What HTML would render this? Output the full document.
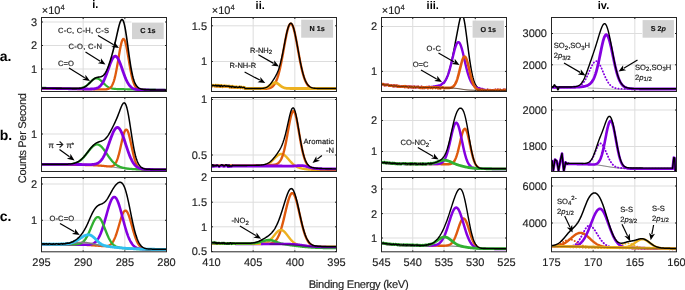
<!DOCTYPE html>
<html><head><meta charset="utf-8"><style>html,body{margin:0;padding:0;background:#fff;overflow:hidden}svg{display:block;will-change:transform}text{font-family:"Liberation Sans",sans-serif;text-rendering:geometricPrecision}</style></head>
<body><svg xmlns="http://www.w3.org/2000/svg" width="685" height="290" viewBox="0 0 685 290" font-family="Liberation Sans, sans-serif"><defs><clipPath id="c00"><rect x="41.5" y="17.5" width="125.0" height="74.0"/></clipPath><clipPath id="c01"><rect x="211.5" y="17.5" width="125.0" height="74.0"/></clipPath><clipPath id="c02"><rect x="381.5" y="17.5" width="125.0" height="74.0"/></clipPath><clipPath id="c03"><rect x="551.5" y="17.5" width="125.0" height="74.0"/></clipPath><clipPath id="c10"><rect x="41.5" y="97.5" width="125.0" height="74.0"/></clipPath><clipPath id="c11"><rect x="211.5" y="97.5" width="125.0" height="74.0"/></clipPath><clipPath id="c12"><rect x="381.5" y="97.5" width="125.0" height="74.0"/></clipPath><clipPath id="c13"><rect x="551.5" y="97.5" width="125.0" height="74.0"/></clipPath><clipPath id="c20"><rect x="41.5" y="177.5" width="125.0" height="74.30000000000001"/></clipPath><clipPath id="c21"><rect x="211.5" y="177.5" width="125.0" height="74.30000000000001"/></clipPath><clipPath id="c22"><rect x="381.5" y="177.5" width="125.0" height="74.30000000000001"/></clipPath><clipPath id="c23"><rect x="551.5" y="177.5" width="125.0" height="74.30000000000001"/></clipPath></defs><rect width="685" height="290" fill="#fff"/><line x1="83.17" y1="17.50" x2="83.17" y2="91.50" stroke="#DDDDDD" stroke-width="1" />
<line x1="124.83" y1="17.50" x2="124.83" y2="91.50" stroke="#DDDDDD" stroke-width="1" />
<line x1="41.50" y1="22.00" x2="166.50" y2="22.00" stroke="#DDDDDD" stroke-width="1" />
<line x1="41.50" y1="45.50" x2="166.50" y2="45.50" stroke="#DDDDDD" stroke-width="1" />
<line x1="41.50" y1="69.00" x2="166.50" y2="69.00" stroke="#DDDDDD" stroke-width="1" />
<line x1="83.17" y1="97.50" x2="83.17" y2="171.50" stroke="#DDDDDD" stroke-width="1" />
<line x1="124.83" y1="97.50" x2="124.83" y2="171.50" stroke="#DDDDDD" stroke-width="1" />
<line x1="41.50" y1="134.00" x2="166.50" y2="134.00" stroke="#DDDDDD" stroke-width="1" />
<line x1="83.17" y1="177.50" x2="83.17" y2="251.80" stroke="#DDDDDD" stroke-width="1" />
<line x1="124.83" y1="177.50" x2="124.83" y2="251.80" stroke="#DDDDDD" stroke-width="1" />
<line x1="41.50" y1="184.00" x2="166.50" y2="184.00" stroke="#DDDDDD" stroke-width="1" />
<line x1="41.50" y1="220.30" x2="166.50" y2="220.30" stroke="#DDDDDD" stroke-width="1" />
<line x1="253.17" y1="17.50" x2="253.17" y2="91.50" stroke="#DDDDDD" stroke-width="1" />
<line x1="294.83" y1="17.50" x2="294.83" y2="91.50" stroke="#DDDDDD" stroke-width="1" />
<line x1="211.50" y1="25.80" x2="336.50" y2="25.80" stroke="#DDDDDD" stroke-width="1" />
<line x1="211.50" y1="61.50" x2="336.50" y2="61.50" stroke="#DDDDDD" stroke-width="1" />
<line x1="253.17" y1="97.50" x2="253.17" y2="171.50" stroke="#DDDDDD" stroke-width="1" />
<line x1="294.83" y1="97.50" x2="294.83" y2="171.50" stroke="#DDDDDD" stroke-width="1" />
<line x1="211.50" y1="99.50" x2="336.50" y2="99.50" stroke="#DDDDDD" stroke-width="1" />
<line x1="211.50" y1="155.00" x2="336.50" y2="155.00" stroke="#DDDDDD" stroke-width="1" />
<line x1="253.17" y1="177.50" x2="253.17" y2="251.80" stroke="#DDDDDD" stroke-width="1" />
<line x1="294.83" y1="177.50" x2="294.83" y2="251.80" stroke="#DDDDDD" stroke-width="1" />
<line x1="211.50" y1="202.20" x2="336.50" y2="202.20" stroke="#DDDDDD" stroke-width="1" />
<line x1="211.50" y1="226.80" x2="336.50" y2="226.80" stroke="#DDDDDD" stroke-width="1" />
<line x1="412.75" y1="17.50" x2="412.75" y2="91.50" stroke="#DDDDDD" stroke-width="1" />
<line x1="444.00" y1="17.50" x2="444.00" y2="91.50" stroke="#DDDDDD" stroke-width="1" />
<line x1="475.25" y1="17.50" x2="475.25" y2="91.50" stroke="#DDDDDD" stroke-width="1" />
<line x1="381.50" y1="26.50" x2="506.50" y2="26.50" stroke="#DDDDDD" stroke-width="1" />
<line x1="381.50" y1="71.40" x2="506.50" y2="71.40" stroke="#DDDDDD" stroke-width="1" />
<line x1="412.75" y1="97.50" x2="412.75" y2="171.50" stroke="#DDDDDD" stroke-width="1" />
<line x1="444.00" y1="97.50" x2="444.00" y2="171.50" stroke="#DDDDDD" stroke-width="1" />
<line x1="475.25" y1="97.50" x2="475.25" y2="171.50" stroke="#DDDDDD" stroke-width="1" />
<line x1="381.50" y1="120.50" x2="506.50" y2="120.50" stroke="#DDDDDD" stroke-width="1" />
<line x1="381.50" y1="151.50" x2="506.50" y2="151.50" stroke="#DDDDDD" stroke-width="1" />
<line x1="412.75" y1="177.50" x2="412.75" y2="251.80" stroke="#DDDDDD" stroke-width="1" />
<line x1="444.00" y1="177.50" x2="444.00" y2="251.80" stroke="#DDDDDD" stroke-width="1" />
<line x1="475.25" y1="177.50" x2="475.25" y2="251.80" stroke="#DDDDDD" stroke-width="1" />
<line x1="381.50" y1="189.00" x2="506.50" y2="189.00" stroke="#DDDDDD" stroke-width="1" />
<line x1="381.50" y1="213.60" x2="506.50" y2="213.60" stroke="#DDDDDD" stroke-width="1" />
<line x1="381.50" y1="238.00" x2="506.50" y2="238.00" stroke="#DDDDDD" stroke-width="1" />
<line x1="593.17" y1="17.50" x2="593.17" y2="91.50" stroke="#DDDDDD" stroke-width="1" />
<line x1="634.83" y1="17.50" x2="634.83" y2="91.50" stroke="#DDDDDD" stroke-width="1" />
<line x1="551.50" y1="33.50" x2="676.50" y2="33.50" stroke="#DDDDDD" stroke-width="1" />
<line x1="551.50" y1="64.80" x2="676.50" y2="64.80" stroke="#DDDDDD" stroke-width="1" />
<line x1="593.17" y1="97.50" x2="593.17" y2="171.50" stroke="#DDDDDD" stroke-width="1" />
<line x1="634.83" y1="97.50" x2="634.83" y2="171.50" stroke="#DDDDDD" stroke-width="1" />
<line x1="551.50" y1="110.00" x2="676.50" y2="110.00" stroke="#DDDDDD" stroke-width="1" />
<line x1="551.50" y1="146.50" x2="676.50" y2="146.50" stroke="#DDDDDD" stroke-width="1" />
<line x1="593.17" y1="177.50" x2="593.17" y2="251.80" stroke="#DDDDDD" stroke-width="1" />
<line x1="634.83" y1="177.50" x2="634.83" y2="251.80" stroke="#DDDDDD" stroke-width="1" />
<line x1="551.50" y1="186.00" x2="676.50" y2="186.00" stroke="#DDDDDD" stroke-width="1" />
<line x1="551.50" y1="223.00" x2="676.50" y2="223.00" stroke="#DDDDDD" stroke-width="1" />
<g clip-path="url(#c00)">
<polyline points="41.50,87.90 42.00,87.91 42.50,87.92 43.00,87.92 43.50,87.93 44.00,87.94 44.50,87.95 45.00,87.96 45.50,87.96 46.00,87.97 46.50,87.98 47.00,87.99 47.50,88.00 48.00,88.00 48.50,88.01 49.00,88.02 49.50,88.03 50.00,88.04 50.50,88.04 51.00,88.05 51.50,88.06 52.00,88.07 52.50,88.08 53.00,88.08 53.50,88.09 54.00,88.10 54.50,88.11 55.00,88.12 55.50,88.12 56.00,88.13 56.50,88.14 57.00,88.15 57.50,88.16 58.00,88.16 58.50,88.17 59.00,88.18 59.50,88.19 60.00,88.20 60.50,88.20 61.00,88.21 61.50,88.22 62.00,88.23 62.50,88.24 63.00,88.24 63.50,88.25 64.00,88.26 64.50,88.27 65.00,88.28 65.50,88.28 66.00,88.29 66.50,88.30 67.00,88.31 67.50,88.32 68.00,88.32 68.50,88.33 69.00,88.34 69.50,88.35 70.00,88.35 70.50,88.36 71.00,88.37 71.50,88.37 72.00,88.38 72.50,88.39 73.00,88.39 73.50,88.40 74.00,88.40 74.50,88.40 75.00,88.40 75.50,88.40 76.00,88.39 76.50,88.38 77.00,88.37 77.50,88.35 78.00,88.32 78.50,88.29 79.00,88.25 79.50,88.20 80.00,88.14 80.50,88.06 81.00,87.97 81.50,87.87 82.00,87.74 82.50,87.60 83.00,87.43 83.50,87.24 84.00,87.02 84.50,86.78 85.00,86.51 85.50,86.21 86.00,85.88 86.50,85.52 87.00,85.14 87.50,84.73 88.00,84.30 88.50,83.84 89.00,83.38 89.50,82.89 90.00,82.41 90.50,81.92 91.00,81.43 91.50,80.96 92.00,80.51 92.50,80.08 93.00,79.68 93.50,79.32 94.00,79.01 94.50,78.75 95.00,78.54 95.50,78.39 96.00,78.30 96.50,78.28 97.00,78.32 97.50,78.42 98.00,78.59 98.50,78.81 99.00,79.09 99.50,79.42 100.00,79.79 100.50,80.21 101.00,80.65 101.50,81.12 102.00,81.61 102.50,82.11 103.00,82.61 103.50,83.12 104.00,83.62 104.50,84.10 105.00,84.57 105.50,85.02 106.00,85.44 106.50,85.84 107.00,86.21 107.50,86.56 108.00,86.87 108.50,87.16 109.00,87.42 109.50,87.65 110.00,87.86 110.50,88.04 111.00,88.21 111.50,88.35 112.00,88.47 112.50,88.57 113.00,88.67 113.50,88.74 114.00,88.81 114.50,88.87 115.00,88.92 115.50,88.96 116.00,88.99 116.50,89.02 117.00,89.05 117.50,89.07 118.00,89.09 118.50,89.10 119.00,89.12 119.50,89.13 120.00,89.14 120.50,89.15 121.00,89.17 121.50,89.17 122.00,89.18 122.50,89.19 123.00,89.20 123.50,89.21 124.00,89.22 124.50,89.23 125.00,89.24 125.50,89.24 126.00,89.25 126.50,89.26 127.00,89.27 127.50,89.28 128.00,89.28 128.50,89.29 129.00,89.30 129.50,89.31 130.00,89.32 130.50,89.32 131.00,89.33 131.50,89.34 132.00,89.35 132.50,89.36 133.00,89.36 133.50,89.37 134.00,89.38 134.50,89.39 135.00,89.40 135.50,89.40 136.00,89.41 136.50,89.42 137.00,89.43 137.50,89.44 138.00,89.44 138.50,89.45 139.00,89.46 139.50,89.47 140.00,89.48 140.50,89.48 141.00,89.49 141.50,89.50 142.00,89.51 142.50,89.52 143.00,89.52 143.50,89.53 144.00,89.54 144.50,89.55 145.00,89.56 145.50,89.56 146.00,89.57 146.50,89.58 147.00,89.59 147.50,89.60 148.00,89.60 148.50,89.61 149.00,89.62 149.50,89.63 150.00,89.64 150.50,89.64 151.00,89.65 151.50,89.66 152.00,89.67 152.50,89.68 153.00,89.68 153.50,89.69 154.00,89.70 154.50,89.71 155.00,89.72 155.50,89.72 156.00,89.73 156.50,89.74 157.00,89.75 157.50,89.76 158.00,89.76 158.50,89.77 159.00,89.78 159.50,89.79 160.00,89.80 160.50,89.80 161.00,89.81 161.50,89.82 162.00,89.83 162.50,89.84 163.00,89.84 163.50,89.85 164.00,89.86 164.50,89.87 165.00,89.88 165.50,89.88 166.00,89.89 166.50,89.90" fill="none" stroke="#30B030" stroke-width="2.2" stroke-linejoin="round" stroke-linecap="round" />
<polyline points="41.50,88.40 42.00,88.41 42.50,88.42 43.00,88.42 43.50,88.43 44.00,88.44 44.50,88.45 45.00,88.46 45.50,88.46 46.00,88.47 46.50,88.48 47.00,88.49 47.50,88.50 48.00,88.50 48.50,88.51 49.00,88.52 49.50,88.53 50.00,88.54 50.50,88.54 51.00,88.55 51.50,88.56 52.00,88.57 52.50,88.58 53.00,88.58 53.50,88.59 54.00,88.60 54.50,88.61 55.00,88.62 55.50,88.62 56.00,88.63 56.50,88.64 57.00,88.65 57.50,88.66 58.00,88.66 58.50,88.67 59.00,88.68 59.50,88.69 60.00,88.70 60.50,88.70 61.00,88.71 61.50,88.72 62.00,88.73 62.50,88.74 63.00,88.74 63.50,88.75 64.00,88.76 64.50,88.77 65.00,88.78 65.50,88.78 66.00,88.79 66.50,88.80 67.00,88.81 67.50,88.82 68.00,88.82 68.50,88.83 69.00,88.84 69.50,88.85 70.00,88.86 70.50,88.86 71.00,88.87 71.50,88.88 72.00,88.89 72.50,88.90 73.00,88.90 73.50,88.91 74.00,88.92 74.50,88.93 75.00,88.94 75.50,88.94 76.00,88.95 76.50,88.96 77.00,88.97 77.50,88.98 78.00,88.98 78.50,88.99 79.00,89.00 79.50,89.01 80.00,89.02 80.50,89.02 81.00,89.03 81.50,89.04 82.00,89.05 82.50,89.06 83.00,89.06 83.50,89.07 84.00,89.08 84.50,89.09 85.00,89.10 85.50,89.10 86.00,89.11 86.50,89.12 87.00,89.13 87.50,89.14 88.00,89.14 88.50,89.15 89.00,89.16 89.50,89.17 90.00,89.18 90.50,89.18 91.00,89.19 91.50,89.20 92.00,89.21 92.50,89.22 93.00,89.22 93.50,89.23 94.00,89.24 94.50,89.25 95.00,89.26 95.50,89.26 96.00,89.27 96.50,89.28 97.00,89.29 97.50,89.30 98.00,89.30 98.50,89.31 99.00,89.32 99.50,89.33 100.00,89.33 100.50,89.34 101.00,89.35 101.50,89.36 102.00,89.36 102.50,89.37 103.00,89.37 103.50,89.37 104.00,89.37 104.50,89.36 105.00,89.35 105.50,89.32 106.00,89.29 106.50,89.24 107.00,89.18 107.50,89.09 108.00,88.96 108.50,88.80 109.00,88.59 109.50,88.31 110.00,87.97 110.50,87.53 111.00,86.99 111.50,86.33 112.00,85.53 112.50,84.57 113.00,83.44 113.50,82.12 114.00,80.60 114.50,78.86 115.00,76.91 115.50,74.74 116.00,72.36 116.50,69.79 117.00,67.06 117.50,64.19 118.00,61.22 118.50,58.22 119.00,55.22 119.50,52.30 120.00,49.51 120.50,46.93 121.00,44.62 121.50,42.64 122.00,41.04 122.50,39.86 123.00,39.15 123.50,38.91 124.00,39.16 124.50,39.90 125.00,41.09 125.50,42.70 126.00,44.70 126.50,47.03 127.00,49.63 127.50,52.43 128.00,55.36 128.50,58.38 129.00,61.40 129.50,64.38 130.00,67.27 130.50,70.02 131.00,72.60 131.50,75.00 132.00,77.18 132.50,79.15 133.00,80.90 133.50,82.44 134.00,83.78 134.50,84.93 135.00,85.90 135.50,86.71 136.00,87.39 136.50,87.95 137.00,88.40 137.50,88.76 138.00,89.05 138.50,89.28 139.00,89.46 139.50,89.60 140.00,89.71 140.50,89.79 141.00,89.85 141.50,89.90 142.00,89.94 142.50,89.97 143.00,89.99 143.50,90.01 144.00,90.02 144.50,90.04 145.00,90.05 145.50,90.06 146.00,90.07 146.50,90.08 147.00,90.09 147.50,90.10 148.00,90.10 148.50,90.11 149.00,90.12 149.50,90.13 150.00,90.14 150.50,90.14 151.00,90.15 151.50,90.16 152.00,90.17 152.50,90.18 153.00,90.18 153.50,90.19 154.00,90.20 154.50,90.21 155.00,90.22 155.50,90.22 156.00,90.23 156.50,90.24 157.00,90.25 157.50,90.26 158.00,90.26 158.50,90.27 159.00,90.28 159.50,90.29 160.00,90.30 160.50,90.30 161.00,90.31 161.50,90.32 162.00,90.33 162.50,90.34 163.00,90.34 163.50,90.35 164.00,90.36 164.50,90.37 165.00,90.38 165.50,90.38 166.00,90.39 166.50,90.40" fill="none" stroke="#DF5A0E" stroke-width="2.3" stroke-linejoin="round" stroke-linecap="round" />
<polyline points="41.50,88.30 42.00,88.31 42.50,88.32 43.00,88.32 43.50,88.33 44.00,88.34 44.50,88.35 45.00,88.36 45.50,88.36 46.00,88.37 46.50,88.38 47.00,88.39 47.50,88.40 48.00,88.40 48.50,88.41 49.00,88.42 49.50,88.43 50.00,88.44 50.50,88.44 51.00,88.45 51.50,88.46 52.00,88.47 52.50,88.48 53.00,88.48 53.50,88.49 54.00,88.50 54.50,88.51 55.00,88.52 55.50,88.52 56.00,88.53 56.50,88.54 57.00,88.55 57.50,88.56 58.00,88.56 58.50,88.57 59.00,88.58 59.50,88.59 60.00,88.60 60.50,88.60 61.00,88.61 61.50,88.62 62.00,88.63 62.50,88.64 63.00,88.64 63.50,88.65 64.00,88.66 64.50,88.67 65.00,88.68 65.50,88.68 66.00,88.69 66.50,88.70 67.00,88.71 67.50,88.72 68.00,88.72 68.50,88.73 69.00,88.74 69.50,88.75 70.00,88.76 70.50,88.76 71.00,88.77 71.50,88.78 72.00,88.79 72.50,88.80 73.00,88.80 73.50,88.81 74.00,88.82 74.50,88.83 75.00,88.84 75.50,88.84 76.00,88.85 76.50,88.86 77.00,88.87 77.50,88.88 78.00,88.88 78.50,88.89 79.00,88.90 79.50,88.91 80.00,88.92 80.50,88.92 81.00,88.93 81.50,88.94 82.00,88.95 82.50,88.96 83.00,88.96 83.50,88.97 84.00,88.98 84.50,88.99 85.00,88.99 85.50,89.00 86.00,89.01 86.50,89.01 87.00,89.02 87.50,89.02 88.00,89.03 88.50,89.03 89.00,89.03 89.50,89.03 90.00,89.03 90.50,89.02 91.00,89.01 91.50,89.00 92.00,88.98 92.50,88.95 93.00,88.92 93.50,88.87 94.00,88.82 94.50,88.75 95.00,88.66 95.50,88.55 96.00,88.43 96.50,88.28 97.00,88.10 97.50,87.88 98.00,87.63 98.50,87.34 99.00,87.01 99.50,86.62 100.00,86.18 100.50,85.68 101.00,85.12 101.50,84.49 102.00,83.79 102.50,83.02 103.00,82.17 103.50,81.25 104.00,80.25 104.50,79.18 105.00,78.04 105.50,76.83 106.00,75.55 106.50,74.23 107.00,72.86 107.50,71.46 108.00,70.03 108.50,68.60 109.00,67.17 109.50,65.76 110.00,64.39 110.50,63.08 111.00,61.84 111.50,60.68 112.00,59.63 112.50,58.70 113.00,57.89 113.50,57.23 114.00,56.73 114.50,56.38 115.00,56.21 115.50,56.20 116.00,56.36 116.50,56.69 117.00,57.18 117.50,57.82 118.00,58.61 118.50,59.54 119.00,60.58 119.50,61.73 120.00,62.98 120.50,64.29 121.00,65.67 121.50,67.08 122.00,68.53 122.50,69.98 123.00,71.42 123.50,72.84 124.00,74.24 124.50,75.59 125.00,76.89 125.50,78.13 126.00,79.30 126.50,80.40 127.00,81.43 127.50,82.38 128.00,83.26 128.50,84.06 129.00,84.79 129.50,85.45 130.00,86.04 130.50,86.57 131.00,87.04 131.50,87.45 132.00,87.81 132.50,88.13 133.00,88.40 133.50,88.64 134.00,88.84 134.50,89.01 135.00,89.16 135.50,89.29 136.00,89.39 136.50,89.48 137.00,89.56 137.50,89.62 138.00,89.67 138.50,89.71 139.00,89.75 139.50,89.78 140.00,89.81 140.50,89.83 141.00,89.85 141.50,89.87 142.00,89.88 142.50,89.90 143.00,89.91 143.50,89.92 144.00,89.93 144.50,89.94 145.00,89.95 145.50,89.96 146.00,89.97 146.50,89.98 147.00,89.99 147.50,90.00 148.00,90.00 148.50,90.01 149.00,90.02 149.50,90.03 150.00,90.04 150.50,90.04 151.00,90.05 151.50,90.06 152.00,90.07 152.50,90.08 153.00,90.08 153.50,90.09 154.00,90.10 154.50,90.11 155.00,90.12 155.50,90.12 156.00,90.13 156.50,90.14 157.00,90.15 157.50,90.16 158.00,90.16 158.50,90.17 159.00,90.18 159.50,90.19 160.00,90.20 160.50,90.20 161.00,90.21 161.50,90.22 162.00,90.23 162.50,90.24 163.00,90.24 163.50,90.25 164.00,90.26 164.50,90.27 165.00,90.28 165.50,90.28 166.00,90.29 166.50,90.30" fill="none" stroke="#8400E0" stroke-width="2.8" stroke-linejoin="round" stroke-linecap="round" />
<polyline points="41.50,88.10 42.00,88.11 42.50,88.12 43.00,88.12 43.50,88.13 44.00,88.14 44.50,88.15 45.00,88.16 45.50,88.16 46.00,88.17 46.50,88.18 47.00,88.19 47.50,88.20 48.00,88.20 48.50,88.21 49.00,88.22 49.50,88.23 50.00,88.24 50.50,88.24 51.00,88.25 51.50,88.26 52.00,88.27 52.50,88.28 53.00,88.28 53.50,88.29 54.00,88.30 54.50,88.31 55.00,88.32 55.50,88.32 56.00,88.33 56.50,88.34 57.00,88.35 57.50,88.36 58.00,88.36 58.50,88.37 59.00,88.38 59.50,88.39 60.00,88.40 60.50,88.40 61.00,88.41 61.50,88.42 62.00,88.43 62.50,88.44 63.00,88.44 63.50,88.45 64.00,88.46 64.50,88.47 65.00,88.48 65.50,88.48 66.00,88.49 66.50,88.50 67.00,88.51 67.50,88.52 68.00,88.52 68.50,88.53 69.00,88.54 69.50,88.55 70.00,88.55 70.50,88.56 71.00,88.57 71.50,88.57 72.00,88.58 72.50,88.59 73.00,88.59 73.50,88.60 74.00,88.60 74.50,88.60 75.00,88.60 75.50,88.60 76.00,88.59 76.50,88.58 77.00,88.57 77.50,88.55 78.00,88.52 78.50,88.49 79.00,88.45 79.50,88.40 80.00,88.34 80.50,88.26 81.00,88.17 81.50,88.07 82.00,87.94 82.50,87.80 83.00,87.63 83.50,87.44 84.00,87.22 84.50,86.98 85.00,86.70 85.50,86.40 86.00,86.07 86.50,85.72 87.00,85.33 87.50,84.92 88.00,84.48 88.50,84.02 89.00,83.55 89.50,83.06 90.00,82.56 90.50,82.06 91.00,81.55 91.50,81.06 92.00,80.58 92.50,80.11 93.00,79.67 93.50,79.26 94.00,78.89 94.50,78.55 95.00,78.24 95.50,77.98 96.00,77.76 96.50,77.58 97.00,77.43 97.50,77.31 98.00,77.22 98.50,77.14 99.00,77.08 99.50,77.01 100.00,76.94 100.50,76.84 101.00,76.72 101.50,76.55 102.00,76.33 102.50,76.04 103.00,75.69 103.50,75.25 104.00,74.73 104.50,74.12 105.00,73.42 105.50,72.62 106.00,71.72 106.50,70.74 107.00,69.66 107.50,68.49 108.00,67.24 108.50,65.92 109.00,64.52 109.50,63.06 110.00,61.53 110.50,59.95 111.00,58.31 111.50,56.62 112.00,54.87 112.50,53.07 113.00,51.21 113.50,49.30 114.00,47.32 114.50,45.28 115.00,43.18 115.50,41.02 116.00,38.82 116.50,36.59 117.00,34.35 117.50,32.13 118.00,29.95 118.50,27.86 119.00,25.90 119.50,24.12 120.00,22.55 120.50,21.27 121.00,20.30 121.50,19.70 122.00,19.49 122.50,19.72 123.00,20.39 123.50,21.51 124.00,23.08 124.50,25.08 125.00,27.48 125.50,30.24 126.00,33.30 126.50,36.61 127.00,40.12 127.50,43.74 128.00,47.43 128.50,51.12 129.00,54.74 129.50,58.26 130.00,61.62 130.50,64.80 131.00,67.76 131.50,70.50 132.00,72.99 132.50,75.23 133.00,77.24 133.50,79.02 134.00,80.58 134.50,81.94 135.00,83.12 135.50,84.13 136.00,85.00 136.50,85.74 137.00,86.37 137.50,86.91 138.00,87.37 138.50,87.75 139.00,88.08 139.50,88.35 140.00,88.59 140.50,88.79 141.00,88.96 141.50,89.10 142.00,89.22 142.50,89.32 143.00,89.41 143.50,89.48 144.00,89.54 144.50,89.59 145.00,89.63 145.50,89.67 146.00,89.70 146.50,89.72 147.00,89.75 147.50,89.76 148.00,89.78 148.50,89.79 149.00,89.81 149.50,89.82 150.00,89.83 150.50,89.84 151.00,89.85 151.50,89.86 152.00,89.87 152.50,89.87 153.00,89.88 153.50,89.89 154.00,89.90 154.50,89.91 155.00,89.92 155.50,89.92 156.00,89.93 156.50,89.94 157.00,89.95 157.50,89.96 158.00,89.96 158.50,89.97 159.00,89.98 159.50,89.99 160.00,90.00 160.50,90.00 161.00,90.01 161.50,90.02 162.00,90.03 162.50,90.04 163.00,90.04 163.50,90.05 164.00,90.06 164.50,90.07 165.00,90.08 165.50,90.08 166.00,90.09 166.50,90.10" fill="none" stroke="#000" stroke-width="1.6" stroke-linejoin="round" stroke-linecap="round" />
<rect x="131.5" y="19.6" width="35.69999999999999" height="20.5" fill="#fff"/>
<rect x="132" y="22.6" width="31.69999999999999" height="16.5" fill="#D3D3D3"/>
</g>
<g clip-path="url(#c10)">
<polyline points="41.50,164.80 42.00,164.80 42.50,164.80 43.00,164.80 43.50,164.80 44.00,164.80 44.50,164.80 45.00,164.80 45.50,164.80 46.00,164.80 46.50,164.80 47.00,164.80 47.50,164.80 48.00,164.80 48.50,164.80 49.00,164.80 49.50,164.80 50.00,164.80 50.50,164.80 51.00,164.80 51.50,164.80 52.00,164.80 52.50,164.81 53.00,164.81 53.50,164.81 54.00,164.81 54.50,164.81 55.00,164.81 55.50,164.81 56.00,164.81 56.50,164.81 57.00,164.81 57.50,164.81 58.00,164.81 58.50,164.81 59.00,164.81 59.50,164.81 60.00,164.81 60.50,164.81 61.00,164.81 61.50,164.81 62.00,164.81 62.50,164.82 63.00,164.82 63.50,164.82 64.00,164.82 64.50,164.82 65.00,164.82 65.50,164.82 66.00,164.82 66.50,164.82 67.00,164.82 67.50,164.83 68.00,164.83 68.50,164.83 69.00,164.83 69.50,164.83 70.00,164.83 70.50,164.84 71.00,164.84 71.50,164.84 72.00,164.84 72.50,164.85 73.00,164.85 73.50,164.85 74.00,164.85 74.50,164.86 75.00,164.86 75.50,164.86 76.00,164.87 76.50,164.87 77.00,164.88 77.50,164.88 78.00,164.88 78.50,164.89 79.00,164.89 79.50,164.90 80.00,164.90 80.50,164.91 81.00,164.92 81.50,164.92 82.00,164.93 82.50,164.94 83.00,164.94 83.50,164.95 84.00,164.96 84.50,164.97 85.00,164.98 85.50,164.99 86.00,165.00 86.50,165.01 87.00,165.02 87.50,165.03 88.00,165.05 88.50,165.06 89.00,165.07 89.50,165.09 90.00,165.10 90.50,165.12 91.00,165.14 91.50,165.16 92.00,165.17 92.50,165.19 93.00,165.22 93.50,165.24 94.00,165.26 94.50,165.28 95.00,165.31 95.50,165.33 96.00,165.36 96.50,165.39 97.00,165.42 97.50,165.45 98.00,165.48 98.50,165.52 99.00,165.55 99.50,165.59 100.00,165.63 100.50,165.67 101.00,165.71 101.50,165.75 102.00,165.79 102.50,165.84 103.00,165.88 103.50,165.93 104.00,165.98 104.50,166.03 105.00,166.09 105.50,166.14 106.00,166.20 106.50,166.26 107.00,166.31 107.50,166.38 108.00,166.44 108.50,166.50 109.00,166.56 109.50,166.63 110.00,166.70 110.50,166.76 111.00,166.83 111.50,166.90 112.00,166.97 112.50,167.04 113.00,167.11 113.50,167.18 114.00,167.26 114.50,167.33 115.00,167.40 115.50,167.47 116.00,167.54 116.50,167.62 117.00,167.69 117.50,167.76 118.00,167.83 118.50,167.90 119.00,167.97 119.50,168.04 120.00,168.10 120.50,168.17 121.00,168.24 121.50,168.30 122.00,168.36 122.50,168.42 123.00,168.49 123.50,168.54 124.00,168.60 124.50,168.66 125.00,168.71 125.50,168.77 126.00,168.82 126.50,168.87 127.00,168.92 127.50,168.96 128.00,169.01 128.50,169.05 129.00,169.09 129.50,169.13 130.00,169.17 130.50,169.21 131.00,169.25 131.50,169.28 132.00,169.32 132.50,169.35 133.00,169.38 133.50,169.41 134.00,169.44 134.50,169.47 135.00,169.49 135.50,169.52 136.00,169.54 136.50,169.56 137.00,169.58 137.50,169.61 138.00,169.63 138.50,169.64 139.00,169.66 139.50,169.68 140.00,169.70 140.50,169.71 141.00,169.73 141.50,169.74 142.00,169.75 142.50,169.77 143.00,169.78 143.50,169.79 144.00,169.80 144.50,169.81 145.00,169.82 145.50,169.83 146.00,169.84 146.50,169.85 147.00,169.86 147.50,169.86 148.00,169.87 148.50,169.88 149.00,169.88 149.50,169.89 150.00,169.90 150.50,169.90 151.00,169.91 151.50,169.91 152.00,169.92 152.50,169.92 153.00,169.92 153.50,169.93 154.00,169.93 154.50,169.94 155.00,169.94 155.50,169.94 156.00,169.95 156.50,169.95 157.00,169.95 157.50,169.95 158.00,169.96 158.50,169.96 159.00,169.96 159.50,169.96 160.00,169.97 160.50,169.97 161.00,169.97 161.50,169.97 162.00,169.97 162.50,169.97 163.00,169.98 163.50,169.98 164.00,169.98 164.50,169.98 165.00,169.98 165.50,169.98 166.00,169.98 166.50,169.98" fill="none" stroke="#555" stroke-width="0.8" stroke-linejoin="round" stroke-linecap="round" />
<polyline points="41.50,164.80 42.00,164.80 42.50,164.80 43.00,164.80 43.50,164.80 44.00,164.80 44.50,164.80 45.00,164.80 45.50,164.80 46.00,164.80 46.50,164.80 47.00,164.80 47.50,164.80 48.00,164.80 48.50,164.80 49.00,164.80 49.50,164.80 50.00,164.80 50.50,164.80 51.00,164.80 51.50,164.80 52.00,164.80 52.50,164.81 53.00,164.81 53.50,164.81 54.00,164.81 54.50,164.81 55.00,164.81 55.50,164.81 56.00,164.81 56.50,164.81 57.00,164.81 57.50,164.81 58.00,164.81 58.50,164.81 59.00,164.81 59.50,164.81 60.00,164.81 60.50,164.81 61.00,164.81 61.50,164.81 62.00,164.81 62.50,164.82 63.00,164.82 63.50,164.82 64.00,164.82 64.50,164.82 65.00,164.82 65.50,164.82 66.00,164.82 66.50,164.82 67.00,164.82 67.50,164.83 68.00,164.83 68.50,164.83 69.00,164.83 69.50,164.83 70.00,164.83 70.50,164.84 71.00,164.84 71.50,164.84 72.00,164.84 72.50,164.85 73.00,164.85 73.50,164.85 74.00,164.85 74.50,164.86 75.00,164.86 75.50,164.86 76.00,164.87 76.50,164.87 77.00,164.88 77.50,164.88 78.00,164.88 78.50,164.89 79.00,164.89 79.50,164.90 80.00,164.90 80.50,164.91 81.00,164.92 81.50,164.92 82.00,164.93 82.50,164.94 83.00,164.94 83.50,164.95 84.00,164.96 84.50,164.97 85.00,164.98 85.50,164.99 86.00,165.00 86.50,165.01 87.00,165.02 87.50,165.03 88.00,165.05 88.50,165.06 89.00,165.07 89.50,165.09 90.00,165.10 90.50,165.12 91.00,165.14 91.50,165.16 92.00,165.17 92.50,165.19 93.00,165.22 93.50,165.24 94.00,165.26 94.50,165.28 95.00,165.31 95.50,165.33 96.00,165.36 96.50,165.39 97.00,165.42 97.50,165.45 98.00,165.48 98.50,165.52 99.00,165.55 99.50,165.59 100.00,165.63 100.50,165.67 101.00,165.71 101.50,165.75 102.00,165.79 102.50,165.84 103.00,165.88 103.50,165.93 104.00,165.98 104.50,166.03 105.00,166.08 105.50,166.13 106.00,166.18 106.50,166.24 107.00,166.28 107.50,166.33 108.00,166.37 108.50,166.41 109.00,166.44 109.50,166.46 110.00,166.46 110.50,166.44 111.00,166.39 111.50,166.32 112.00,166.20 112.50,166.03 113.00,165.80 113.50,165.50 114.00,165.11 114.50,164.62 115.00,164.02 115.50,163.30 116.00,162.43 116.50,161.41 117.00,160.23 117.50,158.89 118.00,157.38 118.50,155.70 119.00,153.86 119.50,151.88 120.00,149.78 120.50,147.59 121.00,145.33 121.50,143.06 122.00,140.82 122.50,138.65 123.00,136.61 123.50,134.74 124.00,133.10 124.50,131.73 125.00,130.67 125.50,129.95 126.00,129.58 126.50,129.60 127.00,129.98 127.50,130.74 128.00,131.83 128.50,133.24 129.00,134.93 129.50,136.86 130.00,138.97 130.50,141.21 131.00,143.55 131.50,145.91 132.00,148.27 132.50,150.58 133.00,152.80 133.50,154.90 134.00,156.87 134.50,158.68 135.00,160.32 135.50,161.79 136.00,163.10 136.50,164.24 137.00,165.23 137.50,166.08 138.00,166.80 138.50,167.40 139.00,167.89 139.50,168.30 140.00,168.63 140.50,168.90 141.00,169.11 141.50,169.28 142.00,169.41 142.50,169.51 143.00,169.59 143.50,169.66 144.00,169.71 144.50,169.74 145.00,169.77 145.50,169.80 146.00,169.82 146.50,169.83 147.00,169.85 147.50,169.86 148.00,169.87 148.50,169.87 149.00,169.88 149.50,169.89 150.00,169.89 150.50,169.90 151.00,169.91 151.50,169.91 152.00,169.92 152.50,169.92 153.00,169.92 153.50,169.93 154.00,169.93 154.50,169.94 155.00,169.94 155.50,169.94 156.00,169.95 156.50,169.95 157.00,169.95 157.50,169.95 158.00,169.96 158.50,169.96 159.00,169.96 159.50,169.96 160.00,169.97 160.50,169.97 161.00,169.97 161.50,169.97 162.00,169.97 162.50,169.97 163.00,169.98 163.50,169.98 164.00,169.98 164.50,169.98 165.00,169.98 165.50,169.98 166.00,169.98 166.50,169.98" fill="none" stroke="#DF5A0E" stroke-width="2.3" stroke-linejoin="round" stroke-linecap="round" />
<polyline points="41.50,164.50 42.00,164.50 42.50,164.50 43.00,164.50 43.50,164.50 44.00,164.50 44.50,164.50 45.00,164.50 45.50,164.50 46.00,164.50 46.50,164.50 47.00,164.50 47.50,164.50 48.00,164.50 48.50,164.50 49.00,164.50 49.50,164.50 50.00,164.50 50.50,164.50 51.00,164.50 51.50,164.50 52.00,164.50 52.50,164.50 53.00,164.50 53.50,164.51 54.00,164.51 54.50,164.51 55.00,164.51 55.50,164.51 56.00,164.51 56.50,164.51 57.00,164.51 57.50,164.51 58.00,164.51 58.50,164.50 59.00,164.50 59.50,164.50 60.00,164.50 60.50,164.50 61.00,164.50 61.50,164.50 62.00,164.49 62.50,164.49 63.00,164.49 63.50,164.48 64.00,164.47 64.50,164.47 65.00,164.46 65.50,164.44 66.00,164.43 66.50,164.42 67.00,164.40 67.50,164.38 68.00,164.35 68.50,164.32 69.00,164.29 69.50,164.25 70.00,164.20 70.50,164.15 71.00,164.09 71.50,164.02 72.00,163.95 72.50,163.86 73.00,163.76 73.50,163.65 74.00,163.53 74.50,163.40 75.00,163.24 75.50,163.08 76.00,162.89 76.50,162.69 77.00,162.46 77.50,162.22 78.00,161.96 78.50,161.67 79.00,161.36 79.50,161.02 80.00,160.66 80.50,160.28 81.00,159.87 81.50,159.43 82.00,158.97 82.50,158.49 83.00,157.98 83.50,157.45 84.00,156.89 84.50,156.32 85.00,155.73 85.50,155.12 86.00,154.50 86.50,153.86 87.00,153.22 87.50,152.58 88.00,151.93 88.50,151.28 89.00,150.64 89.50,150.01 90.00,149.40 90.50,148.80 91.00,148.22 91.50,147.68 92.00,147.16 92.50,146.68 93.00,146.23 93.50,145.83 94.00,145.47 94.50,145.16 95.00,144.91 95.50,144.70 96.00,144.55 96.50,144.46 97.00,144.43 97.50,144.46 98.00,144.54 98.50,144.69 99.00,144.90 99.50,145.17 100.00,145.50 100.50,145.88 101.00,146.31 101.50,146.80 102.00,147.32 102.50,147.89 103.00,148.50 103.50,149.14 104.00,149.80 104.50,150.50 105.00,151.20 105.50,151.93 106.00,152.66 106.50,153.40 107.00,154.14 107.50,154.88 108.00,155.61 108.50,156.33 109.00,157.04 109.50,157.74 110.00,158.41 110.50,159.07 111.00,159.70 111.50,160.31 112.00,160.90 112.50,161.45 113.00,161.99 113.50,162.49 114.00,162.97 114.50,163.42 115.00,163.85 115.50,164.25 116.00,164.62 116.50,164.97 117.00,165.30 117.50,165.60 118.00,165.88 118.50,166.14 119.00,166.39 119.50,166.61 120.00,166.82 120.50,167.01 121.00,167.19 121.50,167.35 122.00,167.50 122.50,167.64 123.00,167.77 123.50,167.89 124.00,167.99 124.50,168.10 125.00,168.19 125.50,168.28 126.00,168.36 126.50,168.43 127.00,168.50 127.50,168.57 128.00,168.63 128.50,168.69 129.00,168.74 129.50,168.79 130.00,168.84 130.50,168.88 131.00,168.92 131.50,168.96 132.00,169.00 132.50,169.04 133.00,169.07 133.50,169.10 134.00,169.13 134.50,169.16 135.00,169.19 135.50,169.21 136.00,169.24 136.50,169.26 137.00,169.28 137.50,169.30 138.00,169.32 138.50,169.34 139.00,169.36 139.50,169.38 140.00,169.40 140.50,169.41 141.00,169.43 141.50,169.44 142.00,169.45 142.50,169.47 143.00,169.48 143.50,169.49 144.00,169.50 144.50,169.51 145.00,169.52 145.50,169.53 146.00,169.54 146.50,169.55 147.00,169.56 147.50,169.56 148.00,169.57 148.50,169.58 149.00,169.58 149.50,169.59 150.00,169.60 150.50,169.60 151.00,169.61 151.50,169.61 152.00,169.62 152.50,169.62 153.00,169.62 153.50,169.63 154.00,169.63 154.50,169.64 155.00,169.64 155.50,169.64 156.00,169.65 156.50,169.65 157.00,169.65 157.50,169.65 158.00,169.66 158.50,169.66 159.00,169.66 159.50,169.66 160.00,169.67 160.50,169.67 161.00,169.67 161.50,169.67 162.00,169.67 162.50,169.67 163.00,169.68 163.50,169.68 164.00,169.68 164.50,169.68 165.00,169.68 165.50,169.68 166.00,169.68 166.50,169.68" fill="none" stroke="#30B030" stroke-width="2.3" stroke-linejoin="round" stroke-linecap="round" />
<polyline points="41.50,164.40 42.00,164.40 42.50,164.40 43.00,164.40 43.50,164.40 44.00,164.40 44.50,164.40 45.00,164.40 45.50,164.40 46.00,164.40 46.50,164.40 47.00,164.40 47.50,164.40 48.00,164.40 48.50,164.40 49.00,164.40 49.50,164.40 50.00,164.40 50.50,164.40 51.00,164.40 51.50,164.40 52.00,164.40 52.50,164.41 53.00,164.41 53.50,164.41 54.00,164.41 54.50,164.41 55.00,164.41 55.50,164.41 56.00,164.41 56.50,164.41 57.00,164.41 57.50,164.41 58.00,164.41 58.50,164.41 59.00,164.41 59.50,164.41 60.00,164.41 60.50,164.41 61.00,164.41 61.50,164.41 62.00,164.41 62.50,164.42 63.00,164.42 63.50,164.42 64.00,164.42 64.50,164.42 65.00,164.42 65.50,164.42 66.00,164.42 66.50,164.42 67.00,164.42 67.50,164.43 68.00,164.43 68.50,164.43 69.00,164.43 69.50,164.43 70.00,164.43 70.50,164.44 71.00,164.44 71.50,164.44 72.00,164.44 72.50,164.45 73.00,164.45 73.50,164.45 74.00,164.45 74.50,164.46 75.00,164.46 75.50,164.46 76.00,164.47 76.50,164.47 77.00,164.48 77.50,164.48 78.00,164.48 78.50,164.49 79.00,164.49 79.50,164.50 80.00,164.50 80.50,164.51 81.00,164.51 81.50,164.52 82.00,164.53 82.50,164.53 83.00,164.54 83.50,164.55 84.00,164.55 84.50,164.56 85.00,164.57 85.50,164.57 86.00,164.58 86.50,164.59 87.00,164.59 87.50,164.59 88.00,164.60 88.50,164.60 89.00,164.60 89.50,164.59 90.00,164.58 90.50,164.57 91.00,164.56 91.50,164.53 92.00,164.50 92.50,164.47 93.00,164.42 93.50,164.36 94.00,164.29 94.50,164.20 95.00,164.09 95.50,163.97 96.00,163.82 96.50,163.65 97.00,163.45 97.50,163.21 98.00,162.95 98.50,162.64 99.00,162.29 99.50,161.90 100.00,161.46 100.50,160.97 101.00,160.42 101.50,159.81 102.00,159.15 102.50,158.42 103.00,157.62 103.50,156.76 104.00,155.84 104.50,154.85 105.00,153.79 105.50,152.67 106.00,151.49 106.50,150.25 107.00,148.97 107.50,147.64 108.00,146.27 108.50,144.87 109.00,143.46 109.50,142.03 110.00,140.60 110.50,139.19 111.00,137.80 111.50,136.45 112.00,135.15 112.50,133.92 113.00,132.75 113.50,131.68 114.00,130.71 114.50,129.85 115.00,129.10 115.50,128.49 116.00,128.02 116.50,127.68 117.00,127.50 117.50,127.46 118.00,127.58 118.50,127.84 119.00,128.26 119.50,128.82 120.00,129.52 120.50,130.35 121.00,131.30 121.50,132.37 122.00,133.54 122.50,134.80 123.00,136.14 123.50,137.54 124.00,139.00 124.50,140.50 125.00,142.03 125.50,143.57 126.00,145.11 126.50,146.65 127.00,148.17 127.50,149.66 128.00,151.11 128.50,152.52 129.00,153.87 129.50,155.17 130.00,156.41 130.50,157.59 131.00,158.69 131.50,159.73 132.00,160.70 132.50,161.60 133.00,162.43 133.50,163.20 134.00,163.90 134.50,164.54 135.00,165.12 135.50,165.64 136.00,166.12 136.50,166.54 137.00,166.92 137.50,167.25 138.00,167.55 138.50,167.81 139.00,168.05 139.50,168.25 140.00,168.42 140.50,168.58 141.00,168.71 141.50,168.83 142.00,168.93 142.50,169.01 143.00,169.09 143.50,169.15 144.00,169.20 144.50,169.25 145.00,169.29 145.50,169.32 146.00,169.35 146.50,169.38 147.00,169.40 147.50,169.42 148.00,169.44 148.50,169.45 149.00,169.46 149.50,169.47 150.00,169.48 150.50,169.49 151.00,169.50 151.50,169.51 152.00,169.51 152.50,169.52 153.00,169.52 153.50,169.53 154.00,169.53 154.50,169.53 155.00,169.54 155.50,169.54 156.00,169.55 156.50,169.55 157.00,169.55 157.50,169.55 158.00,169.56 158.50,169.56 159.00,169.56 159.50,169.56 160.00,169.57 160.50,169.57 161.00,169.57 161.50,169.57 162.00,169.57 162.50,169.57 163.00,169.58 163.50,169.58 164.00,169.58 164.50,169.58 165.00,169.58 165.50,169.58 166.00,169.58 166.50,169.58" fill="none" stroke="#8400E0" stroke-width="2.8" stroke-linejoin="round" stroke-linecap="round" />
<polyline points="41.50,164.30 42.00,164.30 42.50,164.30 43.00,164.30 43.50,164.30 44.00,164.30 44.50,164.30 45.00,164.30 45.50,164.30 46.00,164.30 46.50,164.30 47.00,164.30 47.50,164.30 48.00,164.30 48.50,164.30 49.00,164.30 49.50,164.30 50.00,164.30 50.50,164.30 51.00,164.30 51.50,164.30 52.00,164.30 52.50,164.30 53.00,164.30 53.50,164.31 54.00,164.31 54.50,164.31 55.00,164.31 55.50,164.31 56.00,164.31 56.50,164.31 57.00,164.31 57.50,164.31 58.00,164.31 58.50,164.30 59.00,164.30 59.50,164.30 60.00,164.30 60.50,164.30 61.00,164.30 61.50,164.30 62.00,164.29 62.50,164.29 63.00,164.29 63.50,164.28 64.00,164.27 64.50,164.27 65.00,164.26 65.50,164.24 66.00,164.23 66.50,164.22 67.00,164.20 67.50,164.18 68.00,164.15 68.50,164.12 69.00,164.09 69.50,164.05 70.00,164.00 70.50,163.95 71.00,163.89 71.50,163.82 72.00,163.75 72.50,163.66 73.00,163.56 73.50,163.45 74.00,163.33 74.50,163.20 75.00,163.04 75.50,162.88 76.00,162.69 76.50,162.49 77.00,162.26 77.50,162.02 78.00,161.75 78.50,161.47 79.00,161.16 79.50,160.82 80.00,160.46 80.50,160.08 81.00,159.66 81.50,159.23 82.00,158.77 82.50,158.28 83.00,157.77 83.50,157.24 84.00,156.68 84.50,156.11 85.00,155.51 85.50,154.90 86.00,154.28 86.50,153.64 87.00,152.99 87.50,152.34 88.00,151.68 88.50,151.02 89.00,150.36 89.50,149.71 90.00,149.08 90.50,148.45 91.00,147.84 91.50,147.25 92.00,146.69 92.50,146.15 93.00,145.63 93.50,145.15 94.00,144.70 94.50,144.28 95.00,143.89 95.50,143.54 96.00,143.21 96.50,142.92 97.00,142.66 97.50,142.42 98.00,142.21 98.50,142.02 99.00,141.84 99.50,141.69 100.00,141.53 100.50,141.38 101.00,141.23 101.50,141.06 102.00,140.88 102.50,140.67 103.00,140.44 103.50,140.17 104.00,139.86 104.50,139.50 105.00,139.10 105.50,138.64 106.00,138.14 106.50,137.58 107.00,136.96 107.50,136.30 108.00,135.58 108.50,134.82 109.00,134.01 109.50,133.16 110.00,132.28 110.50,131.37 111.00,130.44 111.50,129.48 112.00,128.51 112.50,127.52 113.00,126.52 113.50,125.50 114.00,124.48 114.50,123.44 115.00,122.37 115.50,121.29 116.00,120.18 116.50,119.03 117.00,117.85 117.50,116.63 118.00,115.37 118.50,114.07 119.00,112.75 119.50,111.41 120.00,110.07 120.50,108.76 121.00,107.49 121.50,106.30 122.00,105.23 122.50,104.31 123.00,103.58 123.50,103.08 124.00,102.85 124.50,102.91 125.00,103.30 125.50,104.02 126.00,105.10 126.50,106.53 127.00,108.31 127.50,110.41 128.00,112.81 128.50,115.47 129.00,118.36 129.50,121.42 130.00,124.60 130.50,127.86 131.00,131.14 131.50,134.40 132.00,137.60 132.50,140.69 133.00,143.64 133.50,146.43 134.00,149.03 134.50,151.44 135.00,153.65 135.50,155.66 136.00,157.47 136.50,159.09 137.00,160.52 137.50,161.79 138.00,162.90 138.50,163.87 139.00,164.71 139.50,165.43 140.00,166.06 140.50,166.59 141.00,167.05 141.50,167.44 142.00,167.77 142.50,168.05 143.00,168.28 143.50,168.48 144.00,168.65 144.50,168.79 145.00,168.90 145.50,169.00 146.00,169.07 146.50,169.14 147.00,169.19 147.50,169.24 148.00,169.27 148.50,169.30 149.00,169.33 149.50,169.35 150.00,169.36 150.50,169.38 151.00,169.39 151.50,169.40 152.00,169.41 152.50,169.41 153.00,169.42 153.50,169.43 154.00,169.43 154.50,169.43 155.00,169.44 155.50,169.44 156.00,169.45 156.50,169.45 157.00,169.45 157.50,169.45 158.00,169.46 158.50,169.46 159.00,169.46 159.50,169.46 160.00,169.47 160.50,169.47 161.00,169.47 161.50,169.47 162.00,169.47 162.50,169.47 163.00,169.48 163.50,169.48 164.00,169.48 164.50,169.48 165.00,169.48 165.50,169.48 166.00,169.48 166.50,169.48" fill="none" stroke="#000" stroke-width="1.5" stroke-linejoin="round" stroke-linecap="round" />
</g>
<g clip-path="url(#c20)">
<polyline points="41.50,244.32 42.00,244.32 42.50,244.32 43.00,244.32 43.50,244.32 44.00,244.32 44.50,244.32 45.00,244.32 45.50,244.32 46.00,244.33 46.50,244.33 47.00,244.33 47.50,244.33 48.00,244.33 48.50,244.33 49.00,244.33 49.50,244.33 50.00,244.34 50.50,244.34 51.00,244.34 51.50,244.34 52.00,244.34 52.50,244.34 53.00,244.35 53.50,244.35 54.00,244.35 54.50,244.35 55.00,244.35 55.50,244.36 56.00,244.36 56.50,244.36 57.00,244.36 57.50,244.37 58.00,244.37 58.50,244.37 59.00,244.37 59.50,244.38 60.00,244.38 60.50,244.38 61.00,244.39 61.50,244.39 62.00,244.40 62.50,244.40 63.00,244.40 63.50,244.41 64.00,244.41 64.50,244.42 65.00,244.42 65.50,244.43 66.00,244.43 66.50,244.44 67.00,244.44 67.50,244.45 68.00,244.46 68.50,244.46 69.00,244.47 69.50,244.48 70.00,244.48 70.50,244.49 71.00,244.50 71.50,244.51 72.00,244.51 72.50,244.52 73.00,244.53 73.50,244.54 74.00,244.55 74.50,244.56 75.00,244.57 75.50,244.58 76.00,244.59 76.50,244.61 77.00,244.62 77.50,244.63 78.00,244.64 78.50,244.66 79.00,244.67 79.50,244.69 80.00,244.70 80.50,244.72 81.00,244.73 81.50,244.75 82.00,244.77 82.50,244.79 83.00,244.81 83.50,244.82 84.00,244.84 84.50,244.87 85.00,244.89 85.50,244.91 86.00,244.93 86.50,244.96 87.00,244.98 87.50,245.00 88.00,245.03 88.50,245.06 89.00,245.08 89.50,245.11 90.00,245.14 90.50,245.17 91.00,245.20 91.50,245.23 92.00,245.27 92.50,245.30 93.00,245.33 93.50,245.37 94.00,245.41 94.50,245.44 95.00,245.48 95.50,245.52 96.00,245.56 96.50,245.60 97.00,245.64 97.50,245.68 98.00,245.72 98.50,245.76 99.00,245.81 99.50,245.85 100.00,245.89 100.50,245.93 101.00,245.98 101.50,246.02 102.00,246.05 102.50,246.09 103.00,246.12 103.50,246.15 104.00,246.17 104.50,246.18 105.00,246.18 105.50,246.17 106.00,246.15 106.50,246.10 107.00,246.04 107.50,245.95 108.00,245.83 108.50,245.67 109.00,245.47 109.50,245.23 110.00,244.93 110.50,244.57 111.00,244.15 111.50,243.65 112.00,243.07 112.50,242.41 113.00,241.65 113.50,240.80 114.00,239.84 114.50,238.79 115.00,237.63 115.50,236.37 116.00,235.00 116.50,233.55 117.00,232.01 117.50,230.40 118.00,228.73 118.50,227.01 119.00,225.27 119.50,223.53 120.00,221.80 120.50,220.11 121.00,218.49 121.50,216.96 122.00,215.54 122.50,214.26 123.00,213.14 123.50,212.21 124.00,211.47 124.50,210.94 125.00,210.64 125.50,210.56 126.00,210.71 126.50,211.09 127.00,211.69 127.50,212.51 128.00,213.52 128.50,214.71 129.00,216.06 129.50,217.55 130.00,219.16 130.50,220.86 131.00,222.62 131.50,224.42 132.00,226.24 132.50,228.06 133.00,229.85 133.50,231.59 134.00,233.28 134.50,234.89 135.00,236.42 135.50,237.85 136.00,239.19 136.50,240.42 137.00,241.55 137.50,242.58 138.00,243.50 138.50,244.33 139.00,245.07 139.50,245.72 140.00,246.29 140.50,246.78 141.00,247.21 141.50,247.58 142.00,247.89 142.50,248.16 143.00,248.38 143.50,248.57 144.00,248.72 144.50,248.85 145.00,248.96 145.50,249.05 146.00,249.12 146.50,249.18 147.00,249.23 147.50,249.27 148.00,249.31 148.50,249.33 149.00,249.36 149.50,249.38 150.00,249.39 150.50,249.41 151.00,249.42 151.50,249.43 152.00,249.44 152.50,249.45 153.00,249.45 153.50,249.46 154.00,249.47 154.50,249.47 155.00,249.48 155.50,249.48 156.00,249.49 156.50,249.49 157.00,249.50 157.50,249.50 158.00,249.50 158.50,249.51 159.00,249.51 159.50,249.52 160.00,249.52 160.50,249.52 161.00,249.53 161.50,249.53 162.00,249.53 162.50,249.53 163.00,249.54 163.50,249.54 164.00,249.54 164.50,249.54 165.00,249.55 165.50,249.55 166.00,249.55 166.50,249.55" fill="none" stroke="#DF5A0E" stroke-width="2.3" stroke-linejoin="round" stroke-linecap="round" />
<polyline points="41.50,244.32 42.00,244.32 42.50,244.32 43.00,244.32 43.50,244.32 44.00,244.32 44.50,244.32 45.00,244.32 45.50,244.32 46.00,244.33 46.50,244.33 47.00,244.33 47.50,244.33 48.00,244.33 48.50,244.33 49.00,244.33 49.50,244.33 50.00,244.34 50.50,244.34 51.00,244.34 51.50,244.34 52.00,244.34 52.50,244.34 53.00,244.35 53.50,244.35 54.00,244.35 54.50,244.35 55.00,244.35 55.50,244.36 56.00,244.36 56.50,244.36 57.00,244.36 57.50,244.37 58.00,244.37 58.50,244.37 59.00,244.37 59.50,244.38 60.00,244.38 60.50,244.38 61.00,244.39 61.50,244.39 62.00,244.40 62.50,244.40 63.00,244.40 63.50,244.41 64.00,244.41 64.50,244.42 65.00,244.42 65.50,244.43 66.00,244.43 66.50,244.44 67.00,244.44 67.50,244.45 68.00,244.46 68.50,244.46 69.00,244.47 69.50,244.48 70.00,244.48 70.50,244.49 71.00,244.50 71.50,244.51 72.00,244.51 72.50,244.52 73.00,244.53 73.50,244.54 74.00,244.55 74.50,244.56 75.00,244.57 75.50,244.58 76.00,244.59 76.50,244.61 77.00,244.62 77.50,244.63 78.00,244.64 78.50,244.65 79.00,244.67 79.50,244.68 80.00,244.69 80.50,244.71 81.00,244.72 81.50,244.73 82.00,244.75 82.50,244.76 83.00,244.77 83.50,244.78 84.00,244.79 84.50,244.80 85.00,244.81 85.50,244.81 86.00,244.81 86.50,244.80 87.00,244.79 87.50,244.77 88.00,244.75 88.50,244.71 89.00,244.67 89.50,244.61 90.00,244.54 90.50,244.45 91.00,244.34 91.50,244.21 92.00,244.06 92.50,243.87 93.00,243.66 93.50,243.41 94.00,243.12 94.50,242.79 95.00,242.41 95.50,241.97 96.00,241.49 96.50,240.94 97.00,240.32 97.50,239.64 98.00,238.89 98.50,238.06 99.00,237.16 99.50,236.17 100.00,235.10 100.50,233.95 101.00,232.71 101.50,231.40 102.00,230.00 102.50,228.53 103.00,226.99 103.50,225.38 104.00,223.71 104.50,221.99 105.00,220.23 105.50,218.44 106.00,216.63 106.50,214.82 107.00,213.01 107.50,211.23 108.00,209.49 108.50,207.80 109.00,206.18 109.50,204.65 110.00,203.22 110.50,201.91 111.00,200.72 111.50,199.68 112.00,198.79 112.50,198.06 113.00,197.51 113.50,197.14 114.00,196.95 114.50,196.94 115.00,197.13 115.50,197.50 116.00,198.05 116.50,198.78 117.00,199.68 117.50,200.74 118.00,201.94 118.50,203.29 119.00,204.75 119.50,206.33 120.00,208.00 120.50,209.75 121.00,211.56 121.50,213.42 122.00,215.31 122.50,217.21 123.00,219.12 123.50,221.02 124.00,222.89 124.50,224.73 125.00,226.52 125.50,228.26 126.00,229.93 126.50,231.53 127.00,233.06 127.50,234.50 128.00,235.87 128.50,237.15 129.00,238.35 129.50,239.46 130.00,240.49 130.50,241.44 131.00,242.31 131.50,243.10 132.00,243.82 132.50,244.48 133.00,245.07 133.50,245.59 134.00,246.07 134.50,246.49 135.00,246.86 135.50,247.19 136.00,247.48 136.50,247.74 137.00,247.96 137.50,248.16 138.00,248.33 138.50,248.48 139.00,248.60 139.50,248.72 140.00,248.81 140.50,248.89 141.00,248.97 141.50,249.03 142.00,249.08 142.50,249.13 143.00,249.17 143.50,249.20 144.00,249.23 144.50,249.26 145.00,249.28 145.50,249.30 146.00,249.32 146.50,249.33 147.00,249.35 147.50,249.36 148.00,249.37 148.50,249.39 149.00,249.40 149.50,249.40 150.00,249.41 150.50,249.42 151.00,249.43 151.50,249.44 152.00,249.44 152.50,249.45 153.00,249.46 153.50,249.46 154.00,249.47 154.50,249.47 155.00,249.48 155.50,249.48 156.00,249.49 156.50,249.49 157.00,249.50 157.50,249.50 158.00,249.50 158.50,249.51 159.00,249.51 159.50,249.52 160.00,249.52 160.50,249.52 161.00,249.53 161.50,249.53 162.00,249.53 162.50,249.53 163.00,249.54 163.50,249.54 164.00,249.54 164.50,249.54 165.00,249.55 165.50,249.55 166.00,249.55 166.50,249.55" fill="none" stroke="#8400E0" stroke-width="2.6" stroke-linejoin="round" stroke-linecap="round" />
<polyline points="41.50,244.22 42.00,244.22 42.50,244.22 43.00,244.22 43.50,244.22 44.00,244.22 44.50,244.22 45.00,244.22 45.50,244.22 46.00,244.23 46.50,244.23 47.00,244.23 47.50,244.23 48.00,244.23 48.50,244.23 49.00,244.23 49.50,244.23 50.00,244.24 50.50,244.24 51.00,244.24 51.50,244.24 52.00,244.24 52.50,244.24 53.00,244.25 53.50,244.25 54.00,244.25 54.50,244.25 55.00,244.25 55.50,244.26 56.00,244.26 56.50,244.26 57.00,244.26 57.50,244.27 58.00,244.27 58.50,244.27 59.00,244.27 59.50,244.28 60.00,244.28 60.50,244.28 61.00,244.29 61.50,244.29 62.00,244.30 62.50,244.30 63.00,244.30 63.50,244.31 64.00,244.31 64.50,244.32 65.00,244.32 65.50,244.33 66.00,244.33 66.50,244.34 67.00,244.34 67.50,244.35 68.00,244.35 68.50,244.36 69.00,244.36 69.50,244.37 70.00,244.37 70.50,244.38 71.00,244.38 71.50,244.38 72.00,244.39 72.50,244.39 73.00,244.38 73.50,244.38 74.00,244.37 74.50,244.36 75.00,244.34 75.50,244.32 76.00,244.29 76.50,244.25 77.00,244.20 77.50,244.14 78.00,244.06 78.50,243.97 79.00,243.85 79.50,243.72 80.00,243.55 80.50,243.36 81.00,243.14 81.50,242.87 82.00,242.57 82.50,242.22 83.00,241.83 83.50,241.38 84.00,240.87 84.50,240.31 85.00,239.69 85.50,239.00 86.00,238.25 86.50,237.44 87.00,236.56 87.50,235.62 88.00,234.62 88.50,233.57 89.00,232.47 89.50,231.33 90.00,230.16 90.50,228.96 91.00,227.76 91.50,226.55 92.00,225.36 92.50,224.20 93.00,223.07 93.50,222.01 94.00,221.01 94.50,220.10 95.00,219.29 95.50,218.59 96.00,218.00 96.50,217.55 97.00,217.23 97.50,217.06 98.00,217.03 98.50,217.14 99.00,217.40 99.50,217.81 100.00,218.35 100.50,219.02 101.00,219.81 101.50,220.71 102.00,221.71 102.50,222.79 103.00,223.94 103.50,225.14 104.00,226.39 104.50,227.67 105.00,228.96 105.50,230.25 106.00,231.53 106.50,232.78 107.00,234.01 107.50,235.19 108.00,236.32 108.50,237.40 109.00,238.42 109.50,239.38 110.00,240.27 110.50,241.10 111.00,241.86 111.50,242.56 112.00,243.20 112.50,243.78 113.00,244.30 113.50,244.77 114.00,245.19 114.50,245.56 115.00,245.90 115.50,246.19 116.00,246.45 116.50,246.68 117.00,246.88 117.50,247.06 118.00,247.22 118.50,247.36 119.00,247.48 119.50,247.59 120.00,247.69 120.50,247.78 121.00,247.86 121.50,247.93 122.00,247.99 122.50,248.06 123.00,248.11 123.50,248.16 124.00,248.21 124.50,248.26 125.00,248.30 125.50,248.34 126.00,248.38 126.50,248.42 127.00,248.46 127.50,248.50 128.00,248.53 128.50,248.56 129.00,248.60 129.50,248.63 130.00,248.66 130.50,248.69 131.00,248.71 131.50,248.74 132.00,248.77 132.50,248.80 133.00,248.82 133.50,248.84 134.00,248.87 134.50,248.89 135.00,248.91 135.50,248.93 136.00,248.96 136.50,248.98 137.00,248.99 137.50,249.01 138.00,249.03 138.50,249.05 139.00,249.07 139.50,249.08 140.00,249.10 140.50,249.11 141.00,249.13 141.50,249.14 142.00,249.16 142.50,249.17 143.00,249.18 143.50,249.19 144.00,249.21 144.50,249.22 145.00,249.23 145.50,249.24 146.00,249.25 146.50,249.26 147.00,249.27 147.50,249.28 148.00,249.29 148.50,249.29 149.00,249.30 149.50,249.31 150.00,249.32 150.50,249.32 151.00,249.33 151.50,249.34 152.00,249.34 152.50,249.35 153.00,249.36 153.50,249.36 154.00,249.37 154.50,249.37 155.00,249.38 155.50,249.38 156.00,249.39 156.50,249.39 157.00,249.40 157.50,249.40 158.00,249.40 158.50,249.41 159.00,249.41 159.50,249.42 160.00,249.42 160.50,249.42 161.00,249.43 161.50,249.43 162.00,249.43 162.50,249.43 163.00,249.44 163.50,249.44 164.00,249.44 164.50,249.44 165.00,249.45 165.50,249.45 166.00,249.45 166.50,249.45" fill="none" stroke="#30B030" stroke-width="2.3" stroke-linejoin="round" stroke-linecap="round" />
<polyline points="41.50,244.22 42.00,244.22 42.50,244.22 43.00,244.22 43.50,244.22 44.00,244.22 44.50,244.22 45.00,244.22 45.50,244.22 46.00,244.23 46.50,244.23 47.00,244.23 47.50,244.23 48.00,244.23 48.50,244.23 49.00,244.23 49.50,244.23 50.00,244.23 50.50,244.23 51.00,244.24 51.50,244.24 52.00,244.24 52.50,244.24 53.00,244.24 53.50,244.24 54.00,244.24 54.50,244.24 55.00,244.24 55.50,244.24 56.00,244.24 56.50,244.24 57.00,244.24 57.50,244.24 58.00,244.23 58.50,244.23 59.00,244.23 59.50,244.22 60.00,244.22 60.50,244.21 61.00,244.20 61.50,244.19 62.00,244.18 62.50,244.17 63.00,244.15 63.50,244.14 64.00,244.12 64.50,244.10 65.00,244.07 65.50,244.05 66.00,244.02 66.50,243.99 67.00,243.96 67.50,243.92 68.00,243.88 68.50,243.84 69.00,243.79 69.50,243.75 70.00,243.70 70.50,243.64 71.00,243.59 71.50,243.53 72.00,243.47 72.50,243.41 73.00,243.34 73.50,243.28 74.00,243.21 74.50,243.14 75.00,243.08 75.50,243.01 76.00,242.95 76.50,242.88 77.00,242.82 77.50,242.76 78.00,242.70 78.50,242.65 79.00,242.60 79.50,242.56 80.00,242.52 80.50,242.49 81.00,242.46 81.50,242.44 82.00,242.42 82.50,242.42 83.00,242.42 83.50,242.43 84.00,242.44 84.50,242.47 85.00,242.50 85.50,242.54 86.00,242.59 86.50,242.64 87.00,242.70 87.50,242.77 88.00,242.85 88.50,242.93 89.00,243.01 89.50,243.10 90.00,243.20 90.50,243.30 91.00,243.40 91.50,243.51 92.00,243.62 92.50,243.73 93.00,243.84 93.50,243.95 94.00,244.06 94.50,244.18 95.00,244.29 95.50,244.40 96.00,244.51 96.50,244.62 97.00,244.73 97.50,244.84 98.00,244.94 98.50,245.04 99.00,245.14 99.50,245.24 100.00,245.33 100.50,245.42 101.00,245.51 101.50,245.60 102.00,245.69 102.50,245.77 103.00,245.85 103.50,245.93 104.00,246.01 104.50,246.08 105.00,246.15 105.50,246.23 106.00,246.30 106.50,246.37 107.00,246.43 107.50,246.50 108.00,246.56 108.50,246.63 109.00,246.69 109.50,246.75 110.00,246.81 110.50,246.88 111.00,246.93 111.50,246.99 112.00,247.05 112.50,247.11 113.00,247.17 113.50,247.22 114.00,247.28 114.50,247.33 115.00,247.39 115.50,247.44 116.00,247.49 116.50,247.55 117.00,247.60 117.50,247.65 118.00,247.70 118.50,247.75 119.00,247.80 119.50,247.85 120.00,247.89 120.50,247.94 121.00,247.99 121.50,248.03 122.00,248.07 122.50,248.12 123.00,248.16 123.50,248.20 124.00,248.24 124.50,248.28 125.00,248.32 125.50,248.36 126.00,248.39 126.50,248.43 127.00,248.47 127.50,248.50 128.00,248.53 128.50,248.57 129.00,248.60 129.50,248.63 130.00,248.66 130.50,248.69 131.00,248.72 131.50,248.74 132.00,248.77 132.50,248.80 133.00,248.82 133.50,248.84 134.00,248.87 134.50,248.89 135.00,248.91 135.50,248.93 136.00,248.96 136.50,248.98 137.00,248.99 137.50,249.01 138.00,249.03 138.50,249.05 139.00,249.07 139.50,249.08 140.00,249.10 140.50,249.11 141.00,249.13 141.50,249.14 142.00,249.16 142.50,249.17 143.00,249.18 143.50,249.19 144.00,249.21 144.50,249.22 145.00,249.23 145.50,249.24 146.00,249.25 146.50,249.26 147.00,249.27 147.50,249.28 148.00,249.29 148.50,249.29 149.00,249.30 149.50,249.31 150.00,249.32 150.50,249.32 151.00,249.33 151.50,249.34 152.00,249.34 152.50,249.35 153.00,249.36 153.50,249.36 154.00,249.37 154.50,249.37 155.00,249.38 155.50,249.38 156.00,249.39 156.50,249.39 157.00,249.40 157.50,249.40 158.00,249.40 158.50,249.41 159.00,249.41 159.50,249.42 160.00,249.42 160.50,249.42 161.00,249.43 161.50,249.43 162.00,249.43 162.50,249.43 163.00,249.44 163.50,249.44 164.00,249.44 164.50,249.44 165.00,249.45 165.50,249.45 166.00,249.45 166.50,249.45" fill="none" stroke="#808080" stroke-width="1.6" stroke-linejoin="round" stroke-linecap="round" />
<polyline points="41.50,244.10 42.00,244.07 42.50,243.97 43.00,244.27 43.50,243.91 44.00,244.12 44.50,244.29 45.00,243.95 45.50,244.15 46.00,244.17 46.50,243.93 47.00,244.08 47.50,244.21 48.00,244.11 48.50,244.23 49.00,243.99 49.50,244.02 50.00,243.97 50.50,244.14 51.00,244.32 51.50,244.18 52.00,244.26 52.50,244.09 53.00,244.25 53.50,243.98 54.00,244.06 54.50,244.22 55.00,244.24 55.50,244.12 56.00,243.98 56.50,244.05 57.00,244.03 57.50,244.06 58.00,244.28 58.50,244.02 59.00,244.31 59.50,244.30 60.00,243.95 60.50,244.08 61.00,244.12 61.50,243.91 62.00,244.07 62.50,244.26 63.00,243.91 63.50,244.10 64.00,243.87 64.50,244.04 65.00,244.14 65.50,243.82 66.00,243.69 66.50,243.68 67.00,243.82 67.50,243.54 68.00,243.50 68.50,243.59 69.00,243.68 69.50,243.37 70.00,243.26 70.50,243.24 71.00,242.88 71.50,242.94 72.00,242.61 72.50,242.63 73.00,242.59 73.50,242.01 74.00,242.01 74.50,241.81 75.00,241.52 75.50,241.27 76.00,241.00 76.50,240.72 77.00,240.43 77.50,240.13 78.00,239.82 78.50,239.50 79.00,239.18 79.50,238.85 80.00,238.52 80.50,238.18 81.00,237.85 81.50,237.53 82.00,237.21 82.50,236.90 83.00,236.60 83.50,236.32 84.00,236.05 84.50,235.80 85.00,235.58 85.50,235.38 86.00,235.20 86.50,235.05 87.00,234.94 87.50,234.85 88.00,234.80 88.50,234.77 89.00,234.78 89.50,234.84 90.00,234.96 90.50,235.13 91.00,235.36 91.50,235.63 92.00,235.96 92.50,236.33 93.00,236.73 93.50,237.16 94.00,237.63 94.50,238.11 95.00,238.60 95.50,239.10 96.00,239.60 96.50,240.10 97.00,240.60 97.50,241.08 98.00,241.54 98.50,241.98 99.00,242.41 99.50,242.81 100.00,243.19 100.50,243.54 101.00,243.87 101.50,244.17 102.00,244.45 102.50,244.70 103.00,244.93 103.50,245.15 104.00,245.34 104.50,245.51 105.00,245.67 105.50,245.82 106.00,245.95 106.50,246.07 107.00,246.18 107.50,246.28 108.00,246.37 108.50,246.46 109.00,246.54 109.50,246.61 110.00,246.69 110.50,246.76 111.00,246.82 111.50,246.89 112.00,246.95 112.50,247.01 113.00,247.07 113.50,247.12 114.00,247.18 114.50,247.24 115.00,247.29 115.50,247.34 116.00,247.40 116.50,247.45 117.00,247.50 117.50,247.55 118.00,247.60 118.50,247.65 119.00,247.70 119.50,247.75 120.00,247.79 120.50,247.84 121.00,247.89 121.50,247.93 122.00,247.97 122.50,248.02 123.00,248.06 123.50,248.10 124.00,248.14 124.50,248.18 125.00,248.22 125.50,248.26 126.00,248.29 126.50,248.33 127.00,248.37 127.50,248.40 128.00,248.43 128.50,248.47 129.00,248.50 129.50,248.53 130.00,248.56 130.50,248.59 131.00,248.62 131.50,248.64 132.00,248.67 132.50,248.70 133.00,248.72 133.50,248.74 134.00,248.77 134.50,248.79 135.00,248.81 135.50,248.83 136.00,248.86 136.50,248.88 137.00,248.89 137.50,248.91 138.00,248.93 138.50,248.95 139.00,248.97 139.50,248.98 140.00,249.00 140.50,249.01 141.00,249.03 141.50,249.04 142.00,249.06 142.50,249.07 143.00,249.08 143.50,249.09 144.00,249.11 144.50,249.12 145.00,249.13 145.50,249.14 146.00,249.15 146.50,249.16 147.00,249.17 147.50,249.18 148.00,249.19 148.50,249.19 149.00,249.20 149.50,249.21 150.00,249.22 150.50,249.22 151.00,249.23 151.50,249.24 152.00,249.24 152.50,249.25 153.00,249.26 153.50,249.26 154.00,249.27 154.50,249.27 155.00,249.28 155.50,249.28 156.00,249.29 156.50,249.29 157.00,249.30 157.50,249.30 158.00,249.30 158.50,249.31 159.00,249.31 159.50,249.32 160.00,249.32 160.50,249.32 161.00,249.33 161.50,249.33 162.00,249.33 162.50,249.33 163.00,249.34 163.50,249.34 164.00,249.34 164.50,249.34 165.00,249.35 165.50,249.35 166.00,249.35 166.50,249.35" fill="none" stroke="#2FBFF0" stroke-width="2.8" stroke-linejoin="round" stroke-linecap="round" />
<polyline points="41.50,243.99 42.00,243.93 42.50,243.77 43.00,244.28 43.50,243.68 44.00,244.02 44.50,244.30 45.00,243.73 45.50,244.06 46.00,244.11 46.50,243.70 47.00,243.94 47.50,244.17 48.00,244.00 48.50,244.19 49.00,243.79 49.50,243.85 50.00,243.76 50.50,244.04 51.00,244.33 51.50,244.10 52.00,244.23 52.50,243.96 53.00,244.21 53.50,243.76 54.00,243.89 54.50,244.16 55.00,244.20 55.50,243.98 56.00,243.75 56.50,243.87 57.00,243.83 57.50,243.88 58.00,244.24 58.50,243.81 59.00,244.29 59.50,244.27 60.00,243.69 60.50,243.90 61.00,243.97 61.50,243.62 62.00,243.88 62.50,244.20 63.00,243.61 63.50,243.92 64.00,243.55 64.50,243.83 65.00,244.00 65.50,243.47 66.00,243.27 66.50,243.25 67.00,243.49 67.50,243.04 68.00,242.99 68.50,243.17 69.00,243.35 69.50,242.87 70.00,242.71 70.50,242.72 71.00,242.16 71.50,242.32 72.00,241.83 72.50,241.91 73.00,241.92 73.50,241.03 74.00,241.10 74.50,240.84 75.00,240.46 75.50,240.12 76.00,239.77 76.50,239.39 77.00,238.99 77.50,238.57 78.00,238.13 78.50,237.66 79.00,237.17 79.50,236.65 80.00,236.11 80.50,235.54 81.00,234.94 81.50,234.31 82.00,233.64 82.50,232.95 83.00,232.22 83.50,231.45 84.00,230.65 84.50,229.81 85.00,228.93 85.50,228.01 86.00,227.05 86.50,226.05 87.00,225.02 87.50,223.95 88.00,222.85 88.50,221.72 89.00,220.57 89.50,219.41 90.00,218.26 90.50,217.13 91.00,216.03 91.50,214.95 92.00,213.91 92.50,212.91 93.00,211.96 93.50,211.05 94.00,210.20 94.50,209.41 95.00,208.68 95.50,208.01 96.00,207.41 96.50,206.86 97.00,206.38 97.50,205.96 98.00,205.59 98.50,205.27 99.00,204.99 99.50,204.75 100.00,204.53 100.50,204.33 101.00,204.13 101.50,203.94 102.00,203.73 102.50,203.50 103.00,203.23 103.50,202.93 104.00,202.59 104.50,202.19 105.00,201.73 105.50,201.22 106.00,200.65 106.50,200.01 107.00,199.32 107.50,198.58 108.00,197.79 108.50,196.96 109.00,196.09 109.50,195.19 110.00,194.28 110.50,193.36 111.00,192.44 111.50,191.52 112.00,190.62 112.50,189.75 113.00,188.90 113.50,188.09 114.00,187.32 114.50,186.59 115.00,185.91 115.50,185.29 116.00,184.71 116.50,184.19 117.00,183.72 117.50,183.31 118.00,182.96 118.50,182.68 119.00,182.46 119.50,182.33 120.00,182.27 120.50,182.31 121.00,182.46 121.50,182.72 122.00,183.11 122.50,183.63 123.00,184.30 123.50,185.13 124.00,186.12 124.50,187.28 125.00,188.61 125.50,190.10 126.00,191.76 126.50,193.58 127.00,195.54 127.50,197.63 128.00,199.84 128.50,202.14 129.00,204.52 129.50,206.95 130.00,209.42 130.50,211.90 131.00,214.38 131.50,216.83 132.00,219.24 132.50,221.58 133.00,223.85 133.50,226.03 134.00,228.12 134.50,230.10 135.00,231.97 135.50,233.72 136.00,235.36 136.50,236.87 137.00,238.27 137.50,239.56 138.00,240.73 138.50,241.80 139.00,242.76 139.50,243.62 140.00,244.39 140.50,245.07 141.00,245.67 141.50,246.20 142.00,246.66 142.50,247.06 143.00,247.41 143.50,247.70 144.00,247.95 144.50,248.17 145.00,248.34 145.50,248.49 146.00,248.62 146.50,248.72 147.00,248.80 147.50,248.87 148.00,248.93 148.50,248.97 149.00,249.01 149.50,249.04 150.00,249.07 150.50,249.09 151.00,249.10 151.50,249.12 152.00,249.13 152.50,249.14 153.00,249.15 153.50,249.16 154.00,249.16 154.50,249.17 155.00,249.18 155.50,249.18 156.00,249.19 156.50,249.19 157.00,249.20 157.50,249.20 158.00,249.20 158.50,249.21 159.00,249.21 159.50,249.22 160.00,249.22 160.50,249.22 161.00,249.23 161.50,249.23 162.00,249.23 162.50,249.23 163.00,249.24 163.50,249.24 164.00,249.24 164.50,249.24 165.00,249.25 165.50,249.25 166.00,249.25 166.50,249.25" fill="none" stroke="#000" stroke-width="1.5" stroke-linejoin="round" stroke-linecap="round" />
</g>
<g clip-path="url(#c01)">
<polyline points="211.50,85.36 212.00,86.25 212.50,86.18 213.00,85.60 213.50,85.92 214.00,85.90 214.50,86.17 215.00,86.37 215.50,85.56 216.00,85.52 216.50,86.52 217.00,86.06 217.50,86.49 218.00,85.61 218.50,86.17 219.00,86.54 219.50,85.98 220.00,86.87 220.50,86.85 221.00,85.83 221.50,85.86 222.00,86.51 222.50,87.02 223.00,86.38 223.50,86.21 224.00,86.49 224.50,86.05 225.00,86.31 225.50,86.60 226.00,86.70 226.50,86.42 227.00,86.45 227.50,86.47 228.00,86.79 228.50,86.61 229.00,86.32 229.50,87.33 230.00,87.03 230.50,87.16 231.00,86.65 231.50,87.64 232.00,87.52 232.50,86.66 233.00,86.95 233.50,87.44 234.00,87.46 234.50,87.77 235.00,87.18 235.50,87.70 236.00,87.54 236.50,87.13 237.00,87.50 237.50,87.89 238.00,87.88 238.50,87.50 239.00,87.63 239.50,87.00 240.00,87.28 240.50,87.97 241.00,87.55 241.50,87.29 242.00,87.77 242.50,87.99 243.00,87.98 243.50,87.66 244.00,87.76 244.50,87.88 245.00,88.90 245.50,88.90 246.00,88.90 246.50,88.90 247.00,88.90 247.50,88.90 248.00,88.90 248.50,88.90 249.00,88.90 249.50,88.90 250.00,88.90 250.50,88.90 251.00,88.90 251.50,88.90 252.00,88.90 252.50,88.90 253.00,88.90 253.50,88.90 254.00,88.90 254.50,88.90 255.00,88.90 255.50,88.90 256.00,88.90 256.50,88.90 257.00,88.90 257.50,88.90 258.00,88.90 258.50,88.90 259.00,88.90 259.50,88.90 260.00,88.89 260.50,88.89 261.00,88.89 261.50,88.89 262.00,88.88 262.50,88.88 263.00,88.87 263.50,88.86 264.00,88.85 264.50,88.83 265.00,88.81 265.50,88.79 266.00,88.75 266.50,88.71 267.00,88.66 267.50,88.60 268.00,88.52 268.50,88.43 269.00,88.31 269.50,88.17 270.00,88.01 270.50,87.80 271.00,87.56 271.50,87.28 272.00,86.94 272.50,86.54 273.00,86.08 273.50,85.55 274.00,84.93 274.50,84.22 275.00,83.41 275.50,82.49 276.00,81.46 276.50,80.31 277.00,79.02 277.50,77.60 278.00,76.04 278.50,74.34 279.00,72.49 279.50,70.50 280.00,68.37 280.50,66.10 281.00,63.71 281.50,61.21 282.00,58.61 282.50,55.93 283.00,53.19 283.50,50.41 284.00,47.62 284.50,44.85 285.00,42.13 285.50,39.48 286.00,36.94 286.50,34.54 287.00,32.31 287.50,30.29 288.00,28.49 288.50,26.94 289.00,25.67 289.50,24.69 290.00,24.01 290.50,23.66 291.00,23.63 291.50,23.92 292.00,24.53 292.50,25.45 293.00,26.66 293.50,28.15 294.00,29.91 294.50,31.89 295.00,34.08 295.50,36.45 296.00,38.96 296.50,41.59 297.00,44.30 297.50,47.06 298.00,49.85 298.50,52.63 299.00,55.38 299.50,58.08 300.00,60.70 300.50,63.22 301.00,65.63 301.50,67.92 302.00,70.08 302.50,72.10 303.00,73.98 303.50,75.71 304.00,77.30 304.50,78.75 305.00,80.06 305.50,81.24 306.00,82.30 306.50,83.24 307.00,84.06 307.50,84.79 308.00,85.43 308.50,85.98 309.00,86.46 309.50,86.86 310.00,87.21 310.50,87.51 311.00,87.76 311.50,87.97 312.00,88.14 312.50,88.29 313.00,88.41 313.50,88.51 314.00,88.59 314.50,88.65 315.00,88.70 315.50,88.75 316.00,88.78 316.50,88.81 317.00,88.83 317.50,88.84 318.00,88.86 318.50,88.87 319.00,88.88 319.50,88.88 320.00,88.89 320.50,88.89 321.00,88.89 321.50,88.89 322.00,88.90 322.50,88.90 323.00,88.90 323.50,88.90 324.00,88.90 324.50,88.90 325.00,88.90 325.50,88.90 326.00,88.90 326.50,88.90 327.00,88.90 327.50,88.90 328.00,88.90 328.50,88.90 329.00,88.90 329.50,88.90 330.00,88.90 330.50,88.90 331.00,88.90 331.50,88.90 332.00,88.90 332.50,88.90 333.00,88.90 333.50,88.90 334.00,88.90 334.50,88.90 335.00,88.90 335.50,88.90 336.00,88.90 336.50,88.90" fill="none" stroke="#DF5A0E" stroke-width="2.4" stroke-linejoin="round" stroke-linecap="round" />
<polyline points="211.50,84.96 212.00,85.85 212.50,85.78 213.00,85.20 213.50,85.52 214.00,85.50 214.50,85.77 215.00,85.97 215.50,85.16 216.00,85.12 216.50,86.12 217.00,85.66 217.50,86.09 218.00,85.21 218.50,85.77 219.00,86.14 219.50,85.58 220.00,86.47 220.50,86.45 221.00,85.43 221.50,85.46 222.00,86.11 222.50,86.62 223.00,85.98 223.50,85.81 224.00,86.09 224.50,85.65 225.00,85.91 225.50,86.20 226.00,86.30 226.50,86.02 227.00,86.05 227.50,86.07 228.00,86.39 228.50,86.21 229.00,85.92 229.50,86.93 230.00,86.63 230.50,86.76 231.00,86.25 231.50,87.24 232.00,87.12 232.50,86.26 233.00,86.55 233.50,87.04 234.00,87.06 234.50,87.37 235.00,86.78 235.50,87.30 236.00,87.14 236.50,86.73 237.00,87.10 237.50,87.49 238.00,87.48 238.50,87.10 239.00,87.23 239.50,86.60 240.00,86.88 240.50,87.57 241.00,87.15 241.50,86.89 242.00,87.37 242.50,87.59 243.00,87.58 243.50,87.26 244.00,87.36 244.50,87.48 245.00,88.50 245.50,88.50 246.00,88.50 246.50,88.50 247.00,88.50 247.50,88.50 248.00,88.50 248.50,88.50 249.00,88.50 249.50,88.50 250.00,88.50 250.50,88.50 251.00,88.50 251.50,88.50 252.00,88.50 252.50,88.50 253.00,88.50 253.50,88.50 254.00,88.50 254.50,88.50 255.00,88.50 255.50,88.50 256.00,88.50 256.50,88.50 257.00,88.50 257.50,88.50 258.00,88.50 258.50,88.49 259.00,88.49 259.50,88.48 260.00,88.48 260.50,88.47 261.00,88.45 261.50,88.44 262.00,88.41 262.50,88.38 263.00,88.33 263.50,88.28 264.00,88.21 264.50,88.12 265.00,88.01 265.50,87.88 266.00,87.72 266.50,87.53 267.00,87.31 267.50,87.05 268.00,86.77 268.50,86.46 269.00,86.12 269.50,85.75 270.00,85.37 270.50,84.98 271.00,84.59 271.50,84.21 272.00,83.86 272.50,83.53 273.00,83.25 273.50,83.01 274.00,82.84 274.50,82.74 275.00,82.70 275.50,82.74 276.00,82.84 276.50,83.01 277.00,83.25 277.50,83.53 278.00,83.86 278.50,84.21 279.00,84.59 279.50,84.98 280.00,85.37 280.50,85.75 281.00,86.12 281.50,86.46 282.00,86.77 282.50,87.05 283.00,87.31 283.50,87.53 284.00,87.72 284.50,87.88 285.00,88.01 285.50,88.12 286.00,88.21 286.50,88.28 287.00,88.33 287.50,88.38 288.00,88.41 288.50,88.44 289.00,88.45 289.50,88.47 290.00,88.48 290.50,88.48 291.00,88.49 291.50,88.49 292.00,88.50 292.50,88.50 293.00,88.50 293.50,88.50 294.00,88.50 294.50,88.50 295.00,88.50 295.50,88.50 296.00,88.50 296.50,88.50 297.00,88.50 297.50,88.50 298.00,88.50 298.50,88.50 299.00,88.50 299.50,88.50 300.00,88.50 300.50,88.50 301.00,88.50 301.50,88.50 302.00,88.50 302.50,88.50 303.00,88.50 303.50,88.50 304.00,88.50 304.50,88.50 305.00,88.50 305.50,88.50 306.00,88.50 306.50,88.50 307.00,88.50 307.50,88.50 308.00,88.50 308.50,88.50 309.00,88.50 309.50,88.50 310.00,88.50 310.50,88.50 311.00,88.50 311.50,88.50 312.00,88.50 312.50,88.50 313.00,88.50 313.50,88.50 314.00,88.50 314.50,88.50 315.00,88.50 315.50,88.50 316.00,88.50 316.50,88.50 317.00,88.50 317.50,88.50 318.00,88.50 318.50,88.50 319.00,88.50 319.50,88.50 320.00,88.50 320.50,88.50 321.00,88.50 321.50,88.50 322.00,88.50 322.50,88.50 323.00,88.50 323.50,88.50 324.00,88.50 324.50,88.50 325.00,88.50 325.50,88.50 326.00,88.50 326.50,88.50 327.00,88.50 327.50,88.50 328.00,88.50 328.50,88.50 329.00,88.50 329.50,88.50 330.00,88.50 330.50,88.50 331.00,88.50 331.50,88.50 332.00,88.50 332.50,88.50 333.00,88.50 333.50,88.50 334.00,88.50 334.50,88.50 335.00,88.50 335.50,88.50 336.00,88.50 336.50,88.50" fill="none" stroke="#EDB120" stroke-width="2.8" stroke-linejoin="round" stroke-linecap="round" />
<polyline points="211.50,84.96 212.00,85.85 212.50,85.78 213.00,85.20 213.50,85.52 214.00,85.50 214.50,85.77 215.00,85.97 215.50,85.16 216.00,85.12 216.50,86.12 217.00,85.66 217.50,86.09 218.00,85.21 218.50,85.77 219.00,86.14 219.50,85.58 220.00,86.47 220.50,86.45 221.00,85.43 221.50,85.46 222.00,86.11 222.50,86.62 223.00,85.98 223.50,85.81 224.00,86.09 224.50,85.65 225.00,85.91 225.50,86.20 226.00,86.30 226.50,86.02 227.00,86.05 227.50,86.07 228.00,86.39 228.50,86.21 229.00,85.92 229.50,86.93 230.00,86.63 230.50,86.76 231.00,86.25 231.50,87.24 232.00,87.12 232.50,86.26 233.00,86.55 233.50,87.04 234.00,87.06 234.50,87.37 235.00,86.78 235.50,87.30 236.00,87.14 236.50,86.73 237.00,87.10 237.50,87.49 238.00,87.48 238.50,87.10 239.00,87.23 239.50,86.60 240.00,86.88 240.50,87.57 241.00,87.15 241.50,86.89 242.00,87.37 242.50,87.59 243.00,87.58 243.50,87.26 244.00,87.36 244.50,87.48 245.00,88.50 245.50,88.50 246.00,88.50 246.50,88.50 247.00,88.50 247.50,88.50 248.00,88.50 248.50,88.50 249.00,88.50 249.50,88.50 250.00,88.50 250.50,88.50 251.00,88.50 251.50,88.50 252.00,88.50 252.50,88.50 253.00,88.50 253.50,88.50 254.00,88.50 254.50,88.50 255.00,88.50 255.50,88.50 256.00,88.50 256.50,88.50 257.00,88.50 257.50,88.50 258.00,88.49 258.50,88.49 259.00,88.49 259.50,88.48 260.00,88.47 260.50,88.46 261.00,88.44 261.50,88.42 262.00,88.39 262.50,88.35 263.00,88.30 263.50,88.24 264.00,88.16 264.50,88.05 265.00,87.92 265.50,87.76 266.00,87.57 266.50,87.34 267.00,87.07 267.50,86.75 268.00,86.39 268.50,85.99 269.00,85.53 269.50,85.03 270.00,84.48 270.50,83.89 271.00,83.26 271.50,82.59 272.00,81.89 272.50,81.17 273.00,80.43 273.50,79.66 274.00,78.87 274.50,78.05 275.00,77.21 275.50,76.33 276.00,75.40 276.50,74.42 277.00,73.37 277.50,72.23 278.00,71.00 278.50,69.65 279.00,68.18 279.50,66.58 280.00,64.84 280.50,62.95 281.00,60.93 281.50,58.77 282.00,56.48 282.50,54.08 283.00,51.59 283.50,49.03 284.00,46.44 284.50,43.83 285.00,41.23 285.50,38.70 286.00,36.25 286.50,33.92 287.00,31.75 287.50,29.76 288.00,28.00 288.50,26.47 289.00,25.22 289.50,24.25 290.00,23.59 290.50,23.24 291.00,23.22 291.50,23.51 292.00,24.12 292.50,25.04 293.00,26.26 293.50,27.75 294.00,29.51 294.50,31.49 295.00,33.68 295.50,36.05 296.00,38.56 296.50,41.19 297.00,43.90 297.50,46.66 298.00,49.45 298.50,52.23 299.00,54.98 299.50,57.68 300.00,60.30 300.50,62.82 301.00,65.23 301.50,67.52 302.00,69.68 302.50,71.70 303.00,73.58 303.50,75.31 304.00,76.90 304.50,78.35 305.00,79.66 305.50,80.84 306.00,81.90 306.50,82.84 307.00,83.66 307.50,84.39 308.00,85.03 308.50,85.58 309.00,86.06 309.50,86.46 310.00,86.81 310.50,87.11 311.00,87.36 311.50,87.57 312.00,87.74 312.50,87.89 313.00,88.01 313.50,88.11 314.00,88.19 314.50,88.25 315.00,88.30 315.50,88.35 316.00,88.38 316.50,88.41 317.00,88.43 317.50,88.44 318.00,88.46 318.50,88.47 319.00,88.48 319.50,88.48 320.00,88.49 320.50,88.49 321.00,88.49 321.50,88.49 322.00,88.50 322.50,88.50 323.00,88.50 323.50,88.50 324.00,88.50 324.50,88.50 325.00,88.50 325.50,88.50 326.00,88.50 326.50,88.50 327.00,88.50 327.50,88.50 328.00,88.50 328.50,88.50 329.00,88.50 329.50,88.50 330.00,88.50 330.50,88.50 331.00,88.50 331.50,88.50 332.00,88.50 332.50,88.50 333.00,88.50 333.50,88.50 334.00,88.50 334.50,88.50 335.00,88.50 335.50,88.50 336.00,88.50 336.50,88.50" fill="none" stroke="#000" stroke-width="1.4" stroke-linejoin="round" stroke-linecap="round" />
<rect x="300.7" y="18.2" width="35.900000000000034" height="20.500000000000004" fill="#fff"/>
<rect x="301.2" y="19.7" width="31.900000000000034" height="18.000000000000004" fill="#D3D3D3"/>
</g>
<g clip-path="url(#c11)">
<polyline points="211.50,165.70 212.00,165.70 212.50,165.70 213.00,165.70 213.50,165.70 214.00,165.70 214.50,165.70 215.00,165.70 215.50,165.70 216.00,165.70 216.50,165.70 217.00,165.70 217.50,165.70 218.00,165.70 218.50,165.70 219.00,165.70 219.50,165.70 220.00,165.70 220.50,165.70 221.00,165.70 221.50,165.70 222.00,165.70 222.50,165.70 223.00,165.70 223.50,165.70 224.00,165.70 224.50,165.70 225.00,165.70 225.50,165.70 226.00,165.70 226.50,165.70 227.00,165.70 227.50,165.70 228.00,165.70 228.50,165.70 229.00,165.70 229.50,165.70 230.00,165.70 230.50,165.70 231.00,165.70 231.50,165.70 232.00,165.70 232.50,165.70 233.00,165.70 233.50,165.70 234.00,165.70 234.50,165.70 235.00,165.70 235.50,165.70 236.00,165.70 236.50,165.70 237.00,165.70 237.50,165.70 238.00,165.70 238.50,165.70 239.00,165.70 239.50,165.70 240.00,165.70 240.50,165.70 241.00,165.70 241.50,165.70 242.00,165.70 242.50,165.70 243.00,165.70 243.50,165.70 244.00,165.70 244.50,165.70 245.00,165.70 245.50,165.70 246.00,165.70 246.50,165.70 247.00,165.70 247.50,165.70 248.00,165.70 248.50,165.70 249.00,165.70 249.50,165.70 250.00,165.70 250.50,165.70 251.00,165.70 251.50,165.70 252.00,165.70 252.50,165.70 253.00,165.70 253.50,165.70 254.00,165.70 254.50,165.69 255.00,165.69 255.50,165.69 256.00,165.69 256.50,165.68 257.00,165.68 257.50,165.67 258.00,165.66 258.50,165.65 259.00,165.64 259.50,165.62 260.00,165.60 260.50,165.57 261.00,165.54 261.50,165.50 262.00,165.46 262.50,165.41 263.00,165.34 263.50,165.27 264.00,165.18 264.50,165.08 265.00,164.97 265.50,164.83 266.00,164.68 266.50,164.51 267.00,164.31 267.50,164.10 268.00,163.85 268.50,163.58 269.00,163.29 269.50,162.97 270.00,162.62 270.50,162.24 271.00,161.84 271.50,161.41 272.00,160.97 272.50,160.50 273.00,160.01 273.50,159.51 274.00,159.00 274.50,158.49 275.00,157.98 275.50,157.47 276.00,156.98 276.50,156.50 277.00,156.05 277.50,155.63 278.00,155.24 278.50,154.90 279.00,154.60 279.50,154.36 280.00,154.17 280.50,154.04 281.00,153.97 281.50,153.96 282.00,154.02 282.50,154.13 283.00,154.31 283.50,154.55 284.00,154.85 284.50,155.20 285.00,155.60 285.50,156.04 286.00,156.52 286.50,157.03 287.00,157.57 287.50,158.13 288.00,158.70 288.50,159.28 289.00,159.86 289.50,160.44 290.00,161.01 290.50,161.58 291.00,162.12 291.50,162.65 292.00,163.16 292.50,163.64 293.00,164.10 293.50,164.53 294.00,164.94 294.50,165.32 295.00,165.67 295.50,166.00 296.00,166.30 296.50,166.58 297.00,166.84 297.50,167.08 298.00,167.30 298.50,167.50 299.00,167.68 299.50,167.85 300.00,168.01 300.50,168.15 301.00,168.29 301.50,168.41 302.00,168.53 302.50,168.63 303.00,168.73 303.50,168.83 304.00,168.91 304.50,169.00 305.00,169.07 305.50,169.15 306.00,169.21 306.50,169.28 307.00,169.34 307.50,169.40 308.00,169.45 308.50,169.50 309.00,169.55 309.50,169.59 310.00,169.63 310.50,169.67 311.00,169.71 311.50,169.75 312.00,169.78 312.50,169.81 313.00,169.84 313.50,169.86 314.00,169.89 314.50,169.91 315.00,169.93 315.50,169.95 316.00,169.97 316.50,169.99 317.00,170.00 317.50,170.02 318.00,170.03 318.50,170.05 319.00,170.06 319.50,170.07 320.00,170.08 320.50,170.09 321.00,170.10 321.50,170.11 322.00,170.11 322.50,170.12 323.00,170.13 323.50,170.13 324.00,170.14 324.50,170.14 325.00,170.15 325.50,170.15 326.00,170.15 326.50,170.16 327.00,170.16 327.50,170.16 328.00,170.17 328.50,170.17 329.00,170.17 329.50,170.17 330.00,170.18 330.50,170.18 331.00,170.18 331.50,170.18 332.00,170.18 332.50,170.18 333.00,170.19 333.50,170.19 334.00,170.19 334.50,170.19 335.00,170.19 335.50,170.19 336.00,170.19 336.50,170.19" fill="none" stroke="#EDB120" stroke-width="2.4" stroke-linejoin="round" stroke-linecap="round" />
<polyline points="211.50,165.74 212.00,165.74 212.50,165.74 213.00,165.74 213.50,165.74 214.00,165.74 214.50,165.74 215.00,165.74 215.50,165.74 216.00,165.74 216.50,165.74 217.00,165.73 217.50,165.73 218.00,165.73 218.50,165.73 219.00,165.73 219.50,165.73 220.00,165.73 220.50,165.73 221.00,165.73 221.50,165.73 222.00,165.73 222.50,165.72 223.00,165.72 223.50,165.72 224.00,165.72 224.50,165.72 225.00,165.72 225.50,165.72 226.00,165.72 226.50,165.71 227.00,165.71 227.50,165.71 228.00,165.71 228.50,165.71 229.00,165.71 229.50,165.71 230.00,165.71 230.50,165.70 231.00,165.70 231.50,165.70 232.00,165.70 232.50,165.70 233.00,165.70 233.50,165.69 234.00,165.69 234.50,165.69 235.00,165.69 235.50,165.69 236.00,165.68 236.50,165.68 237.00,165.68 237.50,165.68 238.00,165.68 238.50,165.67 239.00,165.67 239.50,165.67 240.00,165.67 240.50,165.66 241.00,165.66 241.50,165.66 242.00,165.66 242.50,165.65 243.00,165.65 243.50,165.65 244.00,165.65 244.50,165.64 245.00,165.64 245.50,165.64 246.00,165.63 246.50,165.63 247.00,165.63 247.50,165.62 248.00,165.62 248.50,165.61 249.00,165.61 249.50,165.61 250.00,165.60 250.50,165.60 251.00,165.59 251.50,165.59 252.00,165.58 252.50,165.58 253.00,165.57 253.50,165.57 254.00,165.56 254.50,165.56 255.00,165.55 255.50,165.54 256.00,165.54 256.50,165.53 257.00,165.52 257.50,165.52 258.00,165.51 258.50,165.50 259.00,165.49 259.50,165.48 260.00,165.47 260.50,165.46 261.00,165.45 261.50,165.44 262.00,165.43 262.50,165.42 263.00,165.41 263.50,165.40 264.00,165.39 264.50,165.37 265.00,165.36 265.50,165.35 266.00,165.33 266.50,165.31 267.00,165.30 267.50,165.28 268.00,165.26 268.50,165.24 269.00,165.22 269.50,165.19 270.00,165.17 270.50,165.14 271.00,165.10 271.50,165.07 272.00,165.03 272.50,164.98 273.00,164.92 273.50,164.86 274.00,164.78 274.50,164.69 275.00,164.58 275.50,164.45 276.00,164.29 276.50,164.10 277.00,163.86 277.50,163.58 278.00,163.25 278.50,162.85 279.00,162.37 279.50,161.81 280.00,161.15 280.50,160.38 281.00,159.49 281.50,158.46 282.00,157.29 282.50,155.96 283.00,154.46 283.50,152.80 284.00,150.97 284.50,148.96 285.00,146.79 285.50,144.46 286.00,141.98 286.50,139.38 287.00,136.68 287.50,133.91 288.00,131.11 288.50,128.30 289.00,125.55 289.50,122.90 290.00,120.39 290.50,118.08 291.00,116.02 291.50,114.26 292.00,112.85 292.50,111.83 293.00,111.23 293.50,111.07 294.00,111.35 294.50,112.08 295.00,113.23 295.50,114.77 296.00,116.65 296.50,118.84 297.00,121.27 297.50,123.91 298.00,126.69 298.50,129.57 299.00,132.49 299.50,135.41 300.00,138.30 300.50,141.12 301.00,143.83 301.50,146.42 302.00,148.86 302.50,151.14 303.00,153.25 303.50,155.18 304.00,156.94 304.50,158.53 305.00,159.94 305.50,161.20 306.00,162.31 306.50,163.28 307.00,164.12 307.50,164.85 308.00,165.48 308.50,166.02 309.00,166.47 309.50,166.86 310.00,167.19 310.50,167.47 311.00,167.71 311.50,167.91 312.00,168.08 312.50,168.23 313.00,168.36 313.50,168.47 314.00,168.56 314.50,168.64 315.00,168.72 315.50,168.78 316.00,168.84 316.50,168.89 317.00,168.94 317.50,168.98 318.00,169.03 318.50,169.06 319.00,169.10 319.50,169.13 320.00,169.16 320.50,169.19 321.00,169.21 321.50,169.24 322.00,169.26 322.50,169.28 323.00,169.30 323.50,169.32 324.00,169.34 324.50,169.36 325.00,169.37 325.50,169.39 326.00,169.40 326.50,169.42 327.00,169.43 327.50,169.44 328.00,169.45 328.50,169.47 329.00,169.48 329.50,169.49 330.00,169.50 330.50,169.51 331.00,169.51 331.50,169.52 332.00,169.53 332.50,169.54 333.00,169.55 333.50,169.55 334.00,169.56 334.50,169.57 335.00,169.57 335.50,169.58 336.00,169.58 336.50,169.59" fill="none" stroke="#DF5A0E" stroke-width="2.4" stroke-linejoin="round" stroke-linecap="round" />
<polyline points="211.50,166.57 212.00,166.56 212.50,165.44 213.00,165.48 213.50,166.42 214.00,166.30 214.50,166.21 215.00,165.76 215.50,166.13 216.00,166.13 216.50,166.10 217.00,165.57 217.50,165.91 218.00,165.87 218.50,166.28 219.00,166.62 219.50,166.57 220.00,166.06 220.50,165.93 221.00,165.71 221.50,165.42 222.00,165.40 222.50,165.96 223.00,165.77 223.50,165.85 224.00,166.49 224.50,166.03 225.00,166.08 225.50,165.67 226.00,165.40 226.50,165.78 227.00,165.54 227.50,166.01 228.00,166.63 228.50,166.22 229.00,165.60 229.50,166.50 230.00,166.37 230.50,166.30 231.00,166.51 231.50,166.33 232.00,166.37 232.50,165.82 233.00,166.00 233.50,166.00 234.00,166.00 234.50,166.00 235.00,166.00 235.50,166.00 236.00,166.00 236.50,166.00 237.00,166.00 237.50,166.00 238.00,166.00 238.50,166.00 239.00,166.00 239.50,166.00 240.00,166.00 240.50,166.00 241.00,166.00 241.50,166.00 242.00,166.00 242.50,166.00 243.00,166.00 243.50,166.00 244.00,166.00 244.50,166.00 245.00,166.00 245.50,166.00 246.00,166.00 246.50,166.00 247.00,166.00 247.50,166.00 248.00,166.00 248.50,166.00 249.00,166.00 249.50,166.00 250.00,166.00 250.50,166.00 251.00,166.00 251.50,166.00 252.00,166.00 252.50,166.00 253.00,166.00 253.50,166.00 254.00,166.00 254.50,166.00 255.00,166.00 255.50,166.00 256.00,166.00 256.50,166.00 257.00,166.00 257.50,166.00 258.00,166.00 258.50,166.00 259.00,166.00 259.50,166.00 260.00,166.00 260.50,166.00 261.00,166.00 261.50,166.00 262.00,166.00 262.50,166.00 263.00,166.00 263.50,166.00 264.00,166.00 264.50,166.00 265.00,166.00 265.50,166.00 266.00,166.00 266.50,166.00 267.00,166.00 267.50,166.00 268.00,166.00 268.50,166.00 269.00,166.00 269.50,166.00 270.00,166.00 270.50,166.00 271.00,166.00 271.50,166.00 272.00,166.00 272.50,166.00 273.00,166.00 273.50,166.00 274.00,166.00 274.50,166.01 275.00,166.01 275.50,166.01 276.00,166.01 276.50,166.01 277.00,166.01 277.50,166.01 278.00,166.01 278.50,166.01 279.00,166.01 279.50,166.01 280.00,166.02 280.50,166.02 281.00,166.02 281.50,166.02 282.00,166.02 282.50,166.03 283.00,166.03 283.50,166.03 284.00,166.03 284.50,166.04 285.00,166.04 285.50,166.04 286.00,166.05 286.50,166.05 287.00,166.06 287.50,166.06 288.00,166.06 288.50,166.07 289.00,166.07 289.50,166.07 290.00,166.07 290.50,166.07 291.00,166.06 291.50,166.06 292.00,166.05 292.50,166.04 293.00,166.02 293.50,166.01 294.00,165.98 294.50,165.96 295.00,165.93 295.50,165.89 296.00,165.86 296.50,165.82 297.00,165.78 297.50,165.74 298.00,165.70 298.50,165.66 299.00,165.63 299.50,165.60 300.00,165.59 300.50,165.58 301.00,165.58 301.50,165.60 302.00,165.62 302.50,165.67 303.00,165.73 303.50,165.80 304.00,165.89 304.50,165.99 305.00,166.11 305.50,166.23 306.00,166.36 306.50,166.50 307.00,166.65 307.50,166.80 308.00,166.95 308.50,167.10 309.00,167.24 309.50,167.38 310.00,167.51 310.50,167.64 311.00,167.76 311.50,167.87 312.00,167.97 312.50,168.07 313.00,168.15 313.50,168.23 314.00,168.30 314.50,168.36 315.00,168.42 315.50,168.47 316.00,168.51 316.50,168.55 317.00,168.58 317.50,168.62 318.00,168.64 318.50,168.67 319.00,168.69 319.50,168.71 320.00,168.73 320.50,168.75 321.00,168.76 321.50,168.77 322.00,168.79 322.50,168.80 323.00,168.81 323.50,168.81 324.00,168.82 324.50,168.83 325.00,168.84 325.50,168.84 326.00,168.85 326.50,168.85 327.00,168.86 327.50,168.86 328.00,168.86 328.50,168.87 329.00,168.87 329.50,168.87 330.00,168.88 330.50,168.88 331.00,168.88 331.50,168.88 332.00,168.88 332.50,168.89 333.00,168.89 333.50,168.89 334.00,168.89 334.50,168.89 335.00,168.89 335.50,168.89 336.00,168.89 336.50,168.89" fill="none" stroke="#8400E0" stroke-width="2.8" stroke-linejoin="round" stroke-linecap="round" />
<polyline points="211.50,166.36 212.00,166.35 212.50,164.74 213.00,164.79 213.50,166.14 214.00,165.96 214.50,165.84 215.00,165.19 215.50,165.73 216.00,165.73 216.50,165.68 217.00,164.92 217.50,165.41 218.00,165.34 218.50,165.93 219.00,166.42 219.50,166.34 220.00,165.61 220.50,165.43 221.00,165.11 221.50,164.69 222.00,164.67 222.50,165.46 223.00,165.20 223.50,165.31 224.00,166.23 224.50,165.57 225.00,165.63 225.50,165.04 226.00,164.66 226.50,165.20 227.00,164.86 227.50,165.53 228.00,166.41 228.50,165.82 229.00,164.94 229.50,166.22 230.00,166.04 230.50,165.93 231.00,166.23 231.50,165.97 232.00,166.02 232.50,165.23 233.00,165.50 233.50,165.49 234.00,165.49 234.50,165.49 235.00,165.49 235.50,165.49 236.00,165.48 236.50,165.48 237.00,165.48 237.50,165.48 238.00,165.48 238.50,165.47 239.00,165.47 239.50,165.47 240.00,165.47 240.50,165.46 241.00,165.46 241.50,165.46 242.00,165.46 242.50,165.45 243.00,165.45 243.50,165.45 244.00,165.45 244.50,165.44 245.00,165.44 245.50,165.44 246.00,165.43 246.50,165.43 247.00,165.43 247.50,165.42 248.00,165.42 248.50,165.41 249.00,165.41 249.50,165.41 250.00,165.40 250.50,165.40 251.00,165.39 251.50,165.39 252.00,165.38 252.50,165.38 253.00,165.37 253.50,165.36 254.00,165.36 254.50,165.35 255.00,165.34 255.50,165.33 256.00,165.32 256.50,165.31 257.00,165.30 257.50,165.28 258.00,165.26 258.50,165.25 259.00,165.22 259.50,165.20 260.00,165.17 260.50,165.13 261.00,165.09 261.50,165.04 262.00,164.99 262.50,164.92 263.00,164.85 263.50,164.76 264.00,164.66 264.50,164.55 265.00,164.41 265.50,164.26 266.00,164.10 266.50,163.91 267.00,163.69 267.50,163.45 268.00,163.19 268.50,162.90 269.00,162.58 269.50,162.23 270.00,161.85 270.50,161.45 271.00,161.01 271.50,160.54 272.00,160.05 272.50,159.53 273.00,158.98 273.50,158.41 274.00,157.82 274.50,157.21 275.00,156.58 275.50,155.94 276.00,155.27 276.50,154.60 277.00,153.90 277.50,153.19 278.00,152.46 278.50,151.70 279.00,150.91 279.50,150.09 280.00,149.22 280.50,148.30 281.00,147.31 281.50,146.25 282.00,145.11 282.50,143.87 283.00,142.53 283.50,141.07 284.00,139.50 284.50,137.80 285.00,135.99 285.50,134.05 286.00,132.01 286.50,129.87 287.00,127.65 287.50,125.38 288.00,123.08 288.50,120.80 289.00,118.56 289.50,116.42 290.00,114.41 290.50,112.58 291.00,110.99 291.50,109.68 292.00,108.69 292.50,108.07 293.00,107.84 293.50,108.02 294.00,108.63 294.50,109.64 295.00,111.05 295.50,112.82 296.00,114.91 296.50,117.28 297.00,119.88 297.50,122.65 298.00,125.55 298.50,128.53 299.00,131.54 299.50,134.54 300.00,137.49 300.50,140.35 301.00,143.10 301.50,145.72 302.00,148.18 302.50,150.48 303.00,152.60 303.50,154.54 304.00,156.31 304.50,157.89 305.00,159.31 305.50,160.57 306.00,161.67 306.50,162.64 307.00,163.48 307.50,164.21 308.00,164.83 308.50,165.36 309.00,165.82 309.50,166.20 310.00,166.53 310.50,166.81 311.00,167.04 311.50,167.24 312.00,167.41 312.50,167.55 313.00,167.68 313.50,167.78 314.00,167.88 314.50,167.96 315.00,168.03 315.50,168.09 316.00,168.15 316.50,168.20 317.00,168.25 317.50,168.29 318.00,168.33 318.50,168.37 319.00,168.40 319.50,168.43 320.00,168.46 320.50,168.49 321.00,168.52 321.50,168.54 322.00,168.56 322.50,168.58 323.00,168.60 323.50,168.62 324.00,168.64 324.50,168.66 325.00,168.67 325.50,168.69 326.00,168.70 326.50,168.72 327.00,168.73 327.50,168.74 328.00,168.75 328.50,168.77 329.00,168.78 329.50,168.79 330.00,168.80 330.50,168.81 331.00,168.81 331.50,168.82 332.00,168.83 332.50,168.84 333.00,168.85 333.50,168.85 334.00,168.86 334.50,168.87 335.00,168.87 335.50,168.88 336.00,168.88 336.50,168.89" fill="none" stroke="#000" stroke-width="1.4" stroke-linejoin="round" stroke-linecap="round" />
</g>
<g clip-path="url(#c21)">
<polyline points="211.50,243.20 212.00,243.24 212.50,243.28 213.00,243.31 213.50,243.35 214.00,243.38 214.50,243.41 215.00,243.44 215.50,243.46 216.00,243.49 216.50,243.51 217.00,243.54 217.50,243.56 218.00,243.58 218.50,243.60 219.00,243.62 219.50,243.64 220.00,243.66 220.50,243.67 221.00,243.69 221.50,243.71 222.00,243.72 222.50,243.73 223.00,243.75 223.50,243.76 224.00,243.77 224.50,243.78 225.00,243.79 225.50,243.80 226.00,243.81 226.50,243.82 227.00,243.83 227.50,243.84 228.00,243.85 228.50,243.85 229.00,243.86 229.50,243.87 230.00,243.87 230.50,243.88 231.00,243.89 231.50,243.89 232.00,243.90 232.50,243.90 233.00,243.91 233.50,243.91 234.00,243.92 234.50,243.92 235.00,243.92 235.50,243.93 236.00,243.93 236.50,243.94 237.00,243.94 237.50,243.94 238.00,243.94 238.50,243.95 239.00,243.95 239.50,243.95 240.00,243.96 240.50,243.96 241.00,243.96 241.50,243.96 242.00,243.96 242.50,243.97 243.00,243.97 243.50,243.97 244.00,243.97 244.50,243.97 245.00,243.98 245.50,243.98 246.00,243.98 246.50,243.98 247.00,243.98 247.50,243.98 248.00,243.98 248.50,243.99 249.00,243.99 249.50,243.99 250.00,243.99 250.50,243.99 251.00,243.99 251.50,243.99 252.00,243.99 252.50,244.00 253.00,244.00 253.50,244.00 254.00,244.00 254.50,244.00 255.00,244.00 255.50,244.00 256.00,244.00 256.50,244.00 257.00,244.01 257.50,244.01 258.00,244.01 258.50,244.01 259.00,244.01 259.50,244.01 260.00,244.01 260.50,244.02 261.00,244.02 261.50,244.02 262.00,244.02" fill="none" stroke="#8400E0" stroke-width="2.4" stroke-linejoin="round" stroke-linecap="round" />
<polyline points="211.50,243.10 212.00,243.14 212.50,243.18 213.00,243.21 213.50,243.25 214.00,243.28 214.50,243.31 215.00,243.34 215.50,243.36 216.00,243.39 216.50,243.41 217.00,243.44 217.50,243.46 218.00,243.48 218.50,243.50 219.00,243.52 219.50,243.54 220.00,243.56 220.50,243.57 221.00,243.59 221.50,243.61 222.00,243.62 222.50,243.63 223.00,243.65 223.50,243.66 224.00,243.67 224.50,243.68 225.00,243.69 225.50,243.70 226.00,243.71 226.50,243.72 227.00,243.73 227.50,243.74 228.00,243.75 228.50,243.75 229.00,243.76 229.50,243.77 230.00,243.77 230.50,243.78 231.00,243.79 231.50,243.79 232.00,243.80 232.50,243.80 233.00,243.81 233.50,243.81 234.00,243.82 234.50,243.82 235.00,243.82 235.50,243.83 236.00,243.83 236.50,243.84 237.00,243.84 237.50,243.84 238.00,243.84 238.50,243.85 239.00,243.85 239.50,243.85 240.00,243.86 240.50,243.86 241.00,243.86 241.50,243.86 242.00,243.86 242.50,243.87 243.00,243.87 243.50,243.87 244.00,243.87 244.50,243.87 245.00,243.88 245.50,243.88 246.00,243.88 246.50,243.88 247.00,243.88 247.50,243.88 248.00,243.88 248.50,243.89 249.00,243.89 249.50,243.89 250.00,243.89 250.50,243.89 251.00,243.89 251.50,243.89 252.00,243.89 252.50,243.90 253.00,243.90 253.50,243.90 254.00,243.90 254.50,243.90 255.00,243.90 255.50,243.90 256.00,243.90 256.50,243.90 257.00,243.91 257.50,243.91 258.00,243.91 258.50,243.91 259.00,243.91 259.50,243.91 260.00,243.91 260.50,243.91 261.00,243.91 261.50,243.92 262.00,243.92 262.50,243.92 263.00,243.91 263.50,243.91 264.00,243.91 264.50,243.91 265.00,243.90 265.50,243.89 266.00,243.88 266.50,243.86 267.00,243.85 267.50,243.82 268.00,243.79 268.50,243.75 269.00,243.70 269.50,243.64 270.00,243.56 270.50,243.47 271.00,243.36 271.50,243.22 272.00,243.06 272.50,242.86 273.00,242.63 273.50,242.36 274.00,242.04 274.50,241.67 275.00,241.25 275.50,240.75 276.00,240.19 276.50,239.55 277.00,238.82 277.50,238.01 278.00,237.09 278.50,236.08 279.00,234.97 279.50,233.74 280.00,232.41 280.50,230.96 281.00,229.41 281.50,227.75 282.00,225.99 282.50,224.13 283.00,222.19 283.50,220.18 284.00,218.10 284.50,215.98 285.00,213.84 285.50,211.69 286.00,209.55 286.50,207.44 287.00,205.40 287.50,203.44 288.00,201.59 288.50,199.87 289.00,198.30 289.50,196.91 290.00,195.71 290.50,194.72 291.00,193.95 291.50,193.42 292.00,193.14 292.50,193.11 293.00,193.32 293.50,193.78 294.00,194.49 294.50,195.42 295.00,196.58 295.50,197.94 296.00,199.48 296.50,201.19 297.00,203.05 297.50,205.02 298.00,207.10 298.50,209.24 299.00,211.44 299.50,213.66 300.00,215.88 300.50,218.09 301.00,220.27 301.50,222.39 302.00,224.44 302.50,226.42 303.00,228.30 303.50,230.09 304.00,231.77 304.50,233.34 305.00,234.80 305.50,236.15 306.00,237.39 306.50,238.52 307.00,239.54 307.50,240.47 308.00,241.30 308.50,242.03 309.00,242.69 309.50,243.27 310.00,243.78 310.50,244.23 311.00,244.62 311.50,244.95 312.00,245.24 312.50,245.50 313.00,245.71 313.50,245.89 314.00,246.05 314.50,246.19 315.00,246.30 315.50,246.40 316.00,246.48 316.50,246.55 317.00,246.61 317.50,246.66 318.00,246.70 318.50,246.74 319.00,246.77 319.50,246.80 320.00,246.82 320.50,246.85 321.00,246.86 321.50,246.88 322.00,246.90 322.50,246.91 323.00,246.92 323.50,246.93 324.00,246.94 324.50,246.95 325.00,246.96 325.50,246.97 326.00,246.98 326.50,246.99 327.00,246.99 327.50,247.00 328.00,247.01 328.50,247.01 329.00,247.02 329.50,247.02 330.00,247.03 330.50,247.03 331.00,247.03 331.50,247.04 332.00,247.04 332.50,247.05 333.00,247.05 333.50,247.05 334.00,247.05 334.50,247.06 335.00,247.06 335.50,247.06 336.00,247.06 336.50,247.07" fill="none" stroke="#DF5A0E" stroke-width="2.4" stroke-linejoin="round" stroke-linecap="round" />
<polyline points="211.50,243.10 212.00,243.14 212.50,243.18 213.00,243.21 213.50,243.25 214.00,243.28 214.50,243.31 215.00,243.34 215.50,243.36 216.00,243.39 216.50,243.41 217.00,243.44 217.50,243.46 218.00,243.48 218.50,243.50 219.00,243.52 219.50,243.54 220.00,243.56 220.50,243.57 221.00,243.59 221.50,243.61 222.00,243.62 222.50,243.63 223.00,243.65 223.50,243.66 224.00,243.67 224.50,243.68 225.00,243.69 225.50,243.70 226.00,243.71 226.50,243.72 227.00,243.73 227.50,243.74 228.00,243.75 228.50,243.75 229.00,243.76 229.50,243.77 230.00,243.77 230.50,243.78 231.00,243.79 231.50,243.79 232.00,243.80 232.50,243.80 233.00,243.81 233.50,243.81 234.00,243.82 234.50,243.82 235.00,243.82 235.50,243.83 236.00,243.83 236.50,243.84 237.00,243.84 237.50,243.84 238.00,243.84 238.50,243.85 239.00,243.85 239.50,243.85 240.00,243.86 240.50,243.86 241.00,243.86 241.50,243.86 242.00,243.86 242.50,243.87 243.00,243.87 243.50,243.87 244.00,243.87 244.50,243.87 245.00,243.88 245.50,243.88 246.00,243.88 246.50,243.88 247.00,243.88 247.50,243.88 248.00,243.88 248.50,243.89 249.00,243.89 249.50,243.89 250.00,243.89 250.50,243.89 251.00,243.89 251.50,243.89 252.00,243.89 252.50,243.89 253.00,243.89 253.50,243.89 254.00,243.89 254.50,243.89 255.00,243.89 255.50,243.89 256.00,243.89 256.50,243.88 257.00,243.88 257.50,243.87 258.00,243.86 258.50,243.85 259.00,243.84 259.50,243.82 260.00,243.79 260.50,243.77 261.00,243.73 261.50,243.69 262.00,243.64 262.50,243.57 263.00,243.50 263.50,243.41 264.00,243.31 264.50,243.19 265.00,243.04 265.50,242.88 266.00,242.70 266.50,242.48 267.00,242.24 267.50,241.97 268.00,241.67 268.50,241.34 269.00,240.97 269.50,240.57 270.00,240.13 270.50,239.67 271.00,239.17 271.50,238.63 272.00,238.08 272.50,237.50 273.00,236.90 273.50,236.28 274.00,235.66 274.50,235.03 275.00,234.41 275.50,233.80 276.00,233.21 276.50,232.65 277.00,232.13 277.50,231.64 278.00,231.21 278.50,230.83 279.00,230.52 279.50,230.27 280.00,230.09 280.50,229.99 281.00,229.97 281.50,230.03 282.00,230.16 282.50,230.36 283.00,230.64 283.50,230.99 284.00,231.40 284.50,231.86 285.00,232.38 285.50,232.94 286.00,233.54 286.50,234.16 287.00,234.80 287.50,235.46 288.00,236.12 288.50,236.78 289.00,237.44 289.50,238.08 290.00,238.70 290.50,239.30 291.00,239.87 291.50,240.41 292.00,240.92 292.50,241.40 293.00,241.85 293.50,242.26 294.00,242.64 294.50,242.99 295.00,243.31 295.50,243.60 296.00,243.86 296.50,244.10 297.00,244.31 297.50,244.50 298.00,244.68 298.50,244.83 299.00,244.97 299.50,245.10 300.00,245.21 300.50,245.32 301.00,245.41 301.50,245.50 302.00,245.58 302.50,245.65 303.00,245.72 303.50,245.78 304.00,245.85 304.50,245.90 305.00,245.96 305.50,246.01 306.00,246.06 306.50,246.10 307.00,246.15 307.50,246.19 308.00,246.23 308.50,246.27 309.00,246.31 309.50,246.35 310.00,246.39 310.50,246.42 311.00,246.45 311.50,246.49 312.00,246.52 312.50,246.55 313.00,246.57 313.50,246.60 314.00,246.63 314.50,246.65 315.00,246.67 315.50,246.70 316.00,246.72 316.50,246.74 317.00,246.76 317.50,246.78 318.00,246.79 318.50,246.81 319.00,246.83 319.50,246.84 320.00,246.86 320.50,246.87 321.00,246.88 321.50,246.90 322.00,246.91 322.50,246.92 323.00,246.93 323.50,246.94 324.00,246.95 324.50,246.96 325.00,246.97 325.50,246.97 326.00,246.98 326.50,246.99 327.00,246.99 327.50,247.00 328.00,247.01 328.50,247.01 329.00,247.02 329.50,247.02 330.00,247.03 330.50,247.03 331.00,247.03 331.50,247.04 332.00,247.04 332.50,247.05 333.00,247.05 333.50,247.05 334.00,247.05 334.50,247.06 335.00,247.06 335.50,247.06 336.00,247.06 336.50,247.07" fill="none" stroke="#EDB120" stroke-width="2.4" stroke-linejoin="round" stroke-linecap="round" />
<polyline points="211.50,242.61 212.00,242.87 212.50,242.78 213.00,242.99 213.50,243.04 214.00,242.66 214.50,242.66 215.00,243.28 215.50,242.89 216.00,242.90 216.50,243.47 217.00,243.12 217.50,243.40 218.00,243.17 218.50,243.30 219.00,242.97 219.50,243.34 220.00,243.52 220.50,243.29 221.00,243.46 221.50,243.43 222.00,243.01 222.50,243.52 223.00,243.41 223.50,243.22 224.00,243.03 224.50,243.65 225.00,243.37 225.50,243.56 226.00,243.69 226.50,243.58 227.00,243.73 227.50,243.36 228.00,243.66 228.50,243.41 229.00,243.78 229.50,243.74 230.00,243.18 230.50,243.22 231.00,243.28 231.50,243.83 232.00,243.45 232.50,243.59 233.00,243.36 233.50,243.52 234.00,243.43 234.50,243.41 235.00,243.59 235.50,243.59 236.00,243.53 236.50,243.54 237.00,243.54 237.50,243.54 238.00,243.54 238.50,243.55 239.00,243.55 239.50,243.55 240.00,243.55 240.50,243.56 241.00,243.56 241.50,243.56 242.00,243.56 242.50,243.56 243.00,243.56 243.50,243.56 244.00,243.56 244.50,243.56 245.00,243.56 245.50,243.56 246.00,243.55 246.50,243.55 247.00,243.54 247.50,243.53 248.00,243.53 248.50,243.51 249.00,243.50 249.50,243.49 250.00,243.47 250.50,243.45 251.00,243.42 251.50,243.39 252.00,243.36 252.50,243.32 253.00,243.28 253.50,243.23 254.00,243.17 254.50,243.11 255.00,243.05 255.50,242.97 256.00,242.89 256.50,242.81 257.00,242.71 257.50,242.61 258.00,242.50 258.50,242.39 259.00,242.26 259.50,242.14 260.00,242.01 260.50,241.87 261.00,241.73 261.50,241.59 262.00,241.45 262.50,241.30 263.00,241.16 263.50,241.02 264.00,240.89 264.50,240.76 265.00,240.64 265.50,240.53 266.00,240.43 266.50,240.34 267.00,240.26 267.50,240.20 268.00,240.15 268.50,240.11 269.00,240.10 269.50,240.10 270.00,240.12 270.50,240.16 271.00,240.23 271.50,240.32 272.00,240.44 272.50,240.57 273.00,240.72 273.50,240.89 274.00,241.07 274.50,241.26 275.00,241.45 275.50,241.65 276.00,241.85 276.50,242.05 277.00,242.24 277.50,242.43 278.00,242.61 278.50,242.79 279.00,242.96 279.50,243.12 280.00,243.26 280.50,243.40 281.00,243.54 281.50,243.66 282.00,243.77 282.50,243.88 283.00,243.98 283.50,244.07 284.00,244.16 284.50,244.24 285.00,244.32 285.50,244.40 286.00,244.47 286.50,244.54 287.00,244.62 287.50,244.68 288.00,244.75 288.50,244.82 289.00,244.89 289.50,244.95 290.00,245.02 290.50,245.09 291.00,245.15 291.50,245.22 292.00,245.29 292.50,245.35 293.00,245.42 293.50,245.48 294.00,245.55 294.50,245.61 295.00,245.68 295.50,245.74 296.00,245.81 296.50,245.87 297.00,245.93 297.50,246.00 298.00,246.06 298.50,246.12 299.00,246.18 299.50,246.24 300.00,246.30 300.50,246.36 301.00,246.42 301.50,246.47 302.00,246.53 302.50,246.59 303.00,246.64 303.50,246.69 304.00,246.74 304.50,246.80 305.00,246.85 305.50,246.89 306.00,246.94 306.50,246.99 307.00,247.03 307.50,247.08 308.00,247.12 308.50,247.16 309.00,247.20 309.50,247.24 310.00,247.27 310.50,247.31 311.00,247.34 311.50,247.37 312.00,247.41 312.50,247.44 313.00,247.47 313.50,247.49 314.00,247.52 314.50,247.54 315.00,247.57 315.50,247.59 316.00,247.61 316.50,247.64 317.00,247.65 317.50,247.67 318.00,247.69 318.50,247.71 319.00,247.73 319.50,247.74 320.00,247.76 320.50,247.77 321.00,247.78 321.50,247.79 322.00,247.81 322.50,247.82 323.00,247.83 323.50,247.84 324.00,247.85 324.50,247.86 325.00,247.86 325.50,247.87 326.00,247.88 326.50,247.89 327.00,247.89 327.50,247.90 328.00,247.91 328.50,247.91 329.00,247.92 329.50,247.92 330.00,247.93 330.50,247.93 331.00,247.93 331.50,247.94 332.00,247.94 332.50,247.95 333.00,247.95 333.50,247.95 334.00,247.95 334.50,247.96 335.00,247.96 335.50,247.96 336.00,247.96 336.50,247.97" fill="none" stroke="#30B030" stroke-width="2.6" stroke-linejoin="round" stroke-linecap="round" />
<polyline points="262.00,244.02 262.50,244.02 263.00,244.02 263.50,244.02 264.00,244.03 264.50,244.03 265.00,244.03 265.50,244.03 266.00,244.03 266.50,244.03 267.00,244.04 267.50,244.04 268.00,244.04 268.50,244.04 269.00,244.04 269.50,244.04 270.00,244.04 270.50,244.04 271.00,244.05 271.50,244.05 272.00,244.05 272.50,244.05 273.00,244.05 273.50,244.05 274.00,244.05 274.50,244.05 275.00,244.05 275.50,244.04 276.00,244.04 276.50,244.04 277.00,244.04 277.50,244.04 278.00,244.03 278.50,244.03 279.00,244.03 279.50,244.02 280.00,244.02 280.50,244.02 281.00,244.01 281.50,244.01 282.00,244.00 282.50,244.00 283.00,244.00 283.50,243.99 284.00,243.99 284.50,243.99 285.00,243.99 285.50,243.99 286.00,243.99 286.50,243.99 287.00,243.99 287.50,244.00 288.00,244.00 288.50,244.01 289.00,244.02 289.50,244.03 290.00,244.04 290.50,244.06 291.00,244.08 291.50,244.10 292.00,244.12 292.50,244.15 293.00,244.18 293.50,244.21 294.00,244.24 294.50,244.28 295.00,244.32 295.50,244.36 296.00,244.41 296.50,244.46 297.00,244.51 297.50,244.56 298.00,244.62 298.50,244.67 299.00,244.74 299.50,244.80 300.00,244.86 300.50,244.93 301.00,244.99 301.50,245.06 302.00,245.13 302.50,245.20 303.00,245.27 303.50,245.34 304.00,245.41 304.50,245.48 305.00,245.55 305.50,245.62 306.00,245.69 306.50,245.76 307.00,245.82 307.50,245.89 308.00,245.95 308.50,246.01 309.00,246.07 309.50,246.13 310.00,246.19 310.50,246.24 311.00,246.29 311.50,246.35 312.00,246.39 312.50,246.44 313.00,246.48 313.50,246.53 314.00,246.57 314.50,246.61 315.00,246.64 315.50,246.68 316.00,246.71 316.50,246.74 317.00,246.77 317.50,246.80 318.00,246.82 318.50,246.85 319.00,246.87 319.50,246.89 320.00,246.91 320.50,246.93 321.00,246.95 321.50,246.97 322.00,246.98 322.50,246.99 323.00,247.01 323.50,247.02 324.00,247.03 324.50,247.04 325.00,247.05 325.50,247.06 326.00,247.07 326.50,247.08 327.00,247.09 327.50,247.09 328.00,247.10 328.50,247.11 329.00,247.11 329.50,247.12 330.00,247.12 330.50,247.13 331.00,247.13 331.50,247.14 332.00,247.14 332.50,247.14 333.00,247.15 333.50,247.15 334.00,247.15 334.50,247.16 335.00,247.16 335.50,247.16 336.00,247.16 336.50,247.17" fill="none" stroke="#8400E0" stroke-width="2.4" stroke-linejoin="round" stroke-linecap="round" />
<polyline points="270.00,244.07 270.50,244.08 271.00,244.08 271.50,244.09 272.00,244.09 272.50,244.10 273.00,244.10 273.50,244.11 274.00,244.12 274.50,244.13 275.00,244.13 275.50,244.14 276.00,244.15 276.50,244.16 277.00,244.17 277.50,244.18 278.00,244.19 278.50,244.20 279.00,244.22 279.50,244.23 280.00,244.24 280.50,244.26 281.00,244.27 281.50,244.29 282.00,244.30 282.50,244.32 283.00,244.34 283.50,244.36 284.00,244.38 284.50,244.40 285.00,244.42 285.50,244.45 286.00,244.47 286.50,244.50 287.00,244.53 287.50,244.55 288.00,244.58 288.50,244.61 289.00,244.65 289.50,244.68 290.00,244.71 290.50,244.75 291.00,244.78 291.50,244.82 292.00,244.86 292.50,244.90 293.00,244.94 293.50,244.98 294.00,245.03 294.50,245.07 295.00,245.12 295.50,245.16 296.00,245.21 296.50,245.26 297.00,245.30 297.50,245.35 298.00,245.40 298.50,245.45 299.00,245.50 299.50,245.55 300.00,245.60 300.50,245.65 301.00,245.70 301.50,245.75 302.00,245.80 302.50,245.85 303.00,245.90 303.50,245.94 304.00,245.99 304.50,246.04 305.00,246.08 305.50,246.13 306.00,246.17 306.50,246.22 307.00,246.26 307.50,246.30 308.00,246.34 308.50,246.38 309.00,246.42 309.50,246.45 310.00,246.49 310.50,246.52 311.00,246.55 311.50,246.59 312.00,246.62 312.50,246.65 313.00,246.67 313.50,246.70 314.00,246.73 314.50,246.75 315.00,246.77 315.50,246.80 316.00,246.82 316.50,246.84 317.00,246.86 317.50,246.88 318.00,246.89 318.50,246.91 319.00,246.93 319.50,246.94 320.00,246.96 320.50,246.97 321.00,246.98 321.50,247.00 322.00,247.01 322.50,247.02 323.00,247.03 323.50,247.04 324.00,247.05 324.50,247.06 325.00,247.07 325.50,247.07 326.00,247.08 326.50,247.09 327.00,247.09 327.50,247.10 328.00,247.11 328.50,247.11 329.00,247.12 329.50,247.12 330.00,247.13 330.50,247.13 331.00,247.13 331.50,247.14 332.00,247.14 332.50,247.15 333.00,247.15 333.50,247.15 334.00,247.15 334.50,247.16 335.00,247.16 335.50,247.16 336.00,247.16 336.50,247.17" fill="none" stroke="#3a0050" stroke-width="0.8" stroke-linejoin="round" stroke-linecap="round" />
<polyline points="211.50,242.29 212.00,242.69 212.50,242.52 213.00,242.84 213.50,242.90 214.00,242.26 214.50,242.22 215.00,243.24 215.50,242.58 216.00,242.57 216.50,243.51 217.00,242.90 217.50,243.36 218.00,242.95 218.50,243.17 219.00,242.60 219.50,243.20 220.00,243.50 220.50,243.10 221.00,243.38 221.50,243.31 222.00,242.60 222.50,243.44 223.00,243.26 223.50,242.92 224.00,242.61 224.50,243.62 225.00,243.16 225.50,243.47 226.00,243.67 226.50,243.48 227.00,243.74 227.50,243.11 228.00,243.61 228.50,243.19 229.00,243.78 229.50,243.72 230.00,242.79 230.50,242.84 231.00,242.95 231.50,243.85 232.00,243.22 232.50,243.45 233.00,243.07 233.50,243.32 234.00,243.18 234.50,243.14 235.00,243.43 235.50,243.43 236.00,243.33 236.50,243.34 237.00,243.34 237.50,243.34 238.00,243.34 238.50,243.35 239.00,243.35 239.50,243.35 240.00,243.35 240.50,243.36 241.00,243.36 241.50,243.36 242.00,243.36 242.50,243.36 243.00,243.36 243.50,243.36 244.00,243.36 244.50,243.36 245.00,243.35 245.50,243.35 246.00,243.35 246.50,243.34 247.00,243.33 247.50,243.32 248.00,243.31 248.50,243.29 249.00,243.27 249.50,243.25 250.00,243.22 250.50,243.19 251.00,243.15 251.50,243.11 252.00,243.06 252.50,243.00 253.00,242.93 253.50,242.85 254.00,242.76 254.50,242.67 255.00,242.56 255.50,242.43 256.00,242.30 256.50,242.15 257.00,241.99 257.50,241.82 258.00,241.63 258.50,241.44 259.00,241.22 259.50,241.00 260.00,240.77 260.50,240.53 261.00,240.27 261.50,240.01 262.00,239.74 262.50,239.47 263.00,239.19 263.50,238.91 264.00,238.62 264.50,238.32 265.00,238.02 265.50,237.72 266.00,237.40 266.50,237.08 267.00,236.75 267.50,236.41 268.00,236.06 268.50,235.68 269.00,235.29 269.50,234.87 270.00,234.44 270.50,233.98 271.00,233.49 271.50,232.98 272.00,232.43 272.50,231.85 273.00,231.23 273.50,230.56 274.00,229.85 274.50,229.09 275.00,228.27 275.50,227.40 276.00,226.48 276.50,225.49 277.00,224.45 277.50,223.35 278.00,222.19 278.50,220.97 279.00,219.70 279.50,218.37 280.00,216.98 280.50,215.55 281.00,214.07 281.50,212.55 282.00,210.99 282.50,209.40 283.00,207.78 283.50,206.15 284.00,204.51 284.50,202.87 285.00,201.26 285.50,199.67 286.00,198.12 286.50,196.64 287.00,195.23 287.50,193.91 288.00,192.70 288.50,191.61 289.00,190.67 289.50,189.89 290.00,189.28 290.50,188.86 291.00,188.63 291.50,188.61 292.00,188.80 292.50,189.20 293.00,189.83 293.50,190.66 294.00,191.70 294.50,192.94 295.00,194.37 295.50,195.98 296.00,197.74 296.50,199.64 297.00,201.66 297.50,203.77 298.00,205.97 298.50,208.22 299.00,210.51 299.50,212.81 300.00,215.10 300.50,217.36 301.00,219.58 301.50,221.74 302.00,223.82 302.50,225.82 303.00,227.73 303.50,229.53 304.00,231.22 304.50,232.81 305.00,234.28 305.50,235.63 306.00,236.87 306.50,238.01 307.00,239.03 307.50,239.96 308.00,240.79 308.50,241.53 309.00,242.19 309.50,242.77 310.00,243.28 310.50,243.73 311.00,244.12 311.50,244.45 312.00,244.74 312.50,245.00 313.00,245.21 313.50,245.39 314.00,245.55 314.50,245.69 315.00,245.80 315.50,245.90 316.00,245.98 316.50,246.05 317.00,246.11 317.50,246.16 318.00,246.20 318.50,246.24 319.00,246.27 319.50,246.30 320.00,246.32 320.50,246.35 321.00,246.36 321.50,246.38 322.00,246.40 322.50,246.41 323.00,246.42 323.50,246.43 324.00,246.44 324.50,246.45 325.00,246.46 325.50,246.47 326.00,246.48 326.50,246.49 327.00,246.49 327.50,246.50 328.00,246.51 328.50,246.51 329.00,246.52 329.50,246.52 330.00,246.53 330.50,246.53 331.00,246.53 331.50,246.54 332.00,246.54 332.50,246.55 333.00,246.55 333.50,246.55 334.00,246.55 334.50,246.56 335.00,246.56 335.50,246.56 336.00,246.56 336.50,246.57" fill="none" stroke="#000" stroke-width="1.5" stroke-linejoin="round" stroke-linecap="round" />
</g>
<g clip-path="url(#c02)">
<polyline points="440.00,85.34 440.50,85.10 441.00,84.83 441.50,84.53 442.00,84.19 442.50,83.81 443.00,83.38 443.50,82.90 444.00,82.36 444.50,81.74 445.00,81.05 445.50,80.27 446.00,79.40 446.50,78.42 447.00,77.33 447.50,76.12 448.00,74.79 448.50,73.33 449.00,71.74 449.50,70.02 450.00,68.17 450.50,66.19 451.00,64.10 451.50,61.89 452.00,59.58 452.50,57.19 453.00,54.72 453.50,52.19 454.00,49.62 454.50,47.01 455.00,44.38 455.50,41.74 456.00,39.10 456.50,36.45 457.00,33.80 457.50,31.15 458.00,28.53 458.50,25.95 459.00,23.45 459.50,21.10 460.00,18.96 460.50,17.13 461.00,15.71 461.50,14.79 462.00,14.50 462.50,14.72 463.00,15.64 463.50,17.18 464.00,19.31 464.50,21.94 465.00,24.99 465.50,28.37 466.00,31.99 466.50,35.77 467.00,39.64 467.50,43.54 468.00,47.42 468.50,51.24 469.00,54.96 469.50,58.54 470.00,61.95 470.50,65.17 471.00,68.17 471.50,70.93 472.00,73.45 472.50,75.72 473.00,77.74 473.50,79.53 474.00,81.09 474.50,82.44 475.00,83.60 475.50,84.59 476.00,85.43 476.50,86.13 477.00,86.72 477.50,87.22 478.00,87.63 478.50,87.98 479.00,88.27 479.50,88.52 480.00,88.73 480.50,88.91 481.00,89.07 481.50,89.21 482.00,89.33 482.50,89.43 483.00,89.53 483.50,89.61 484.00,89.69 484.50,89.76 485.00,89.82" fill="none" stroke="#000" stroke-width="1.5" stroke-linejoin="round" stroke-linecap="round" />
<polyline points="381.50,84.01 382.00,83.94 382.50,84.34 383.00,84.15 383.50,84.12 384.00,84.56 384.50,85.20 385.00,85.14 385.50,85.17 386.00,84.64 386.50,85.05 387.00,84.82 387.50,84.77 388.00,84.76 388.50,84.94 389.00,85.78 389.50,85.73 390.00,85.76 390.50,85.81 391.00,85.20 391.50,85.38 392.00,85.78 392.50,85.94 393.00,86.13 393.50,86.20 394.00,85.38 394.50,86.00 395.00,86.12 395.50,85.98 396.00,85.66 396.50,86.03 397.00,85.65 397.50,86.62 398.00,86.59 398.50,86.28 399.00,86.04 399.50,86.75 400.00,86.42 400.50,86.80 401.00,86.80 401.50,86.46 402.00,86.39 402.50,86.63 403.00,86.47 403.50,86.21 404.00,86.40 404.50,86.99 405.00,86.17 405.50,86.21 406.00,86.88 406.50,86.52 407.00,86.83 407.50,86.79 408.00,86.68 408.50,87.42 409.00,86.57 409.50,86.83 410.00,86.63 410.50,87.12 411.00,86.75 411.50,86.87 412.00,87.32 412.50,86.87 413.00,87.16 413.50,87.56 414.00,86.70 414.50,86.67 415.00,86.88 415.50,87.49 416.00,87.34 416.50,86.94 417.00,87.06 417.50,86.91 418.00,87.24 418.50,86.80 419.00,87.53 419.50,87.77 420.00,87.84 420.50,87.62 421.00,87.87 421.50,86.85 422.00,87.16 422.50,87.91 423.00,87.71 423.50,87.32 424.00,87.91 424.50,87.56 425.00,87.78 425.50,87.20 426.00,87.08 426.50,87.36 427.00,87.01 427.50,87.28 428.00,87.90 428.50,87.19 429.00,86.82 429.50,86.84 430.00,86.95 430.50,87.60 431.00,87.10 431.50,86.98 432.00,86.73 432.50,87.65 433.00,86.98 433.50,86.69 434.00,86.46 434.50,86.38 435.00,86.42 435.50,86.89 436.00,86.21 436.50,85.98 437.00,86.35 437.50,85.95 438.00,86.63 438.50,85.51 439.00,85.78 439.50,85.86 440.00,85.24 440.50,85.63 441.00,84.80 441.50,84.25 442.00,84.09 442.50,83.30 443.00,83.30 443.50,82.63 444.00,82.79 444.50,82.11 445.00,81.05 445.50,80.28 446.00,79.41 446.50,78.44 447.00,77.36 447.50,76.16 448.00,74.85 448.50,73.42 449.00,71.87 449.50,70.20 450.00,68.42 450.50,66.54 451.00,64.57 451.50,62.53 452.00,60.44 452.50,58.33 453.00,56.22 453.50,54.14 454.00,52.13 454.50,50.22 455.00,48.44 455.50,46.83 456.00,45.42 456.50,44.23 457.00,43.30 457.50,42.63 458.00,42.26 458.50,42.18 459.00,42.39 459.50,42.91 460.00,43.71 460.50,44.78 461.00,46.10 461.50,47.64 462.00,49.37 462.50,51.27 463.00,53.30 463.50,55.42 464.00,57.60 464.50,59.80 465.00,62.01 465.50,64.18 466.00,66.30 466.50,68.34 467.00,70.28 467.50,72.12 468.00,73.85 468.50,75.45 469.00,76.93 469.50,78.28 470.00,79.51 470.50,80.63 471.00,81.63 471.50,82.53 472.00,83.33 472.50,84.05 473.00,84.68 473.50,85.25 474.00,85.75 474.50,86.20 475.00,86.59 475.50,86.95 476.00,87.26 476.50,87.54 477.00,87.80 477.50,88.03 478.00,88.24 478.50,88.42 479.00,88.08 479.50,88.48 480.00,88.61 480.50,88.71 481.00,88.86 481.50,89.67 482.00,88.97 482.50,88.96 483.00,90.02 483.50,89.70 484.00,90.24 484.50,89.66 485.00,90.26 485.50,90.05 486.00,90.25 486.50,90.24 487.00,90.01 487.50,89.61 488.00,89.77 488.50,90.53 489.00,90.59 489.50,90.64 490.00,90.01 490.50,90.39 491.00,90.56 491.50,90.41 492.00,90.61 492.50,90.31 493.00,90.46 493.50,90.50 494.00,90.05 494.50,90.78 495.00,90.82 495.50,89.86 496.00,90.85 496.50,90.84 497.00,90.53 497.50,89.84 498.00,90.79 498.50,89.94 499.00,90.87 499.50,90.54 500.00,89.87 500.50,89.99 501.00,90.51 501.50,90.44 502.00,90.64 502.50,90.84 503.00,90.06 503.50,89.82 504.00,90.83 504.50,89.83 505.00,90.78 505.50,89.95 506.00,90.71 506.50,90.68" fill="none" stroke="#8400E0" stroke-width="2.4" stroke-linejoin="round" stroke-linecap="round" />
<polyline points="381.50,84.01 382.00,83.94 382.50,84.34 383.00,84.15 383.50,84.12 384.00,84.56 384.50,85.20 385.00,85.14 385.50,85.17 386.00,84.64 386.50,85.05 387.00,84.82 387.50,84.77 388.00,84.76 388.50,84.94 389.00,85.78 389.50,85.73 390.00,85.76 390.50,85.81 391.00,85.20 391.50,85.38 392.00,85.78 392.50,85.94 393.00,86.13 393.50,86.20 394.00,85.38 394.50,86.00 395.00,86.12 395.50,85.98 396.00,85.66 396.50,86.03 397.00,85.65 397.50,86.62 398.00,86.59 398.50,86.28 399.00,86.04 399.50,86.75 400.00,86.42 400.50,86.80 401.00,86.80 401.50,86.46 402.00,86.39 402.50,86.63 403.00,86.47 403.50,86.21 404.00,86.40 404.50,86.99 405.00,86.17 405.50,86.21 406.00,86.88 406.50,86.52 407.00,86.83 407.50,86.79 408.00,86.68 408.50,87.42 409.00,86.57 409.50,86.83 410.00,86.63 410.50,87.12 411.00,86.76 411.50,86.87 412.00,87.32 412.50,86.87 413.00,87.16 413.50,87.56 414.00,86.70 414.50,86.68 415.00,86.88 415.50,87.49 416.00,87.35 416.50,86.95 417.00,87.07 417.50,86.92 418.00,87.25 418.50,86.81 419.00,87.55 419.50,87.78 420.00,87.86 420.50,87.64 421.00,87.90 421.50,86.88 422.00,87.20 422.50,87.96 423.00,87.76 423.50,87.37 424.00,87.98 424.50,87.63 425.00,87.87 425.50,87.30 426.00,87.20 426.50,87.49 427.00,87.17 427.50,87.45 428.00,88.10 428.50,87.42 429.00,87.08 429.50,87.13 430.00,87.28 430.50,87.96 431.00,87.51 431.50,87.44 432.00,87.24 432.50,88.22 433.00,87.62 433.50,87.39 434.00,87.24 434.50,87.24 435.00,87.38 435.50,87.95 436.00,87.38 436.50,87.26 437.00,87.77 437.50,87.51 438.00,88.34 438.50,87.39 439.00,87.84 439.50,88.12 440.00,87.73 440.50,88.37 441.00,87.82 441.50,87.57 442.00,87.76 442.50,87.36 443.00,87.79 443.50,87.61 444.00,88.32 444.50,88.26 445.00,87.91 445.50,87.91 446.00,87.92 446.50,87.92 447.00,87.92 447.50,87.92 448.00,87.91 448.50,87.90 449.00,87.87 449.50,87.84 450.00,87.78 450.50,87.70 451.00,87.59 451.50,87.44 452.00,87.25 452.50,86.99 453.00,86.67 453.50,86.25 454.00,85.74 454.50,85.12 455.00,84.37 455.50,83.48 456.00,82.43 456.50,81.23 457.00,79.86 457.50,78.34 458.00,76.66 458.50,74.85 459.00,72.93 459.50,70.93 460.00,68.88 460.50,66.84 461.00,64.85 461.50,62.97 462.00,61.24 462.50,59.73 463.00,58.47 463.50,57.52 464.00,56.90 464.50,56.63 465.00,56.74 465.50,57.21 466.00,58.03 466.50,59.18 467.00,60.62 467.50,62.31 468.00,64.19 468.50,66.22 469.00,68.34 469.50,70.49 470.00,72.63 470.50,74.72 471.00,76.72 471.50,78.59 472.00,80.31 472.50,81.88 473.00,83.28 473.50,84.51 474.00,85.58 474.50,86.50 475.00,87.27 475.50,87.91 476.00,88.44 476.50,88.87 477.00,89.21 477.50,89.48 478.00,89.70 478.50,89.86 479.00,89.47 479.50,89.81 480.00,89.86 480.50,89.88 481.00,89.94 481.50,90.67 482.00,89.89 482.50,89.81 483.00,90.78 483.50,90.39 484.00,90.86 484.50,90.22 485.00,90.77 485.50,90.50 486.00,90.66 486.50,90.61 487.00,90.33 487.50,89.89 488.00,90.03 488.50,90.76 489.00,90.79 489.50,90.81 490.00,90.17 490.50,90.52 491.00,90.68 491.50,90.51 492.00,90.70 492.50,90.38 493.00,90.52 493.50,90.56 494.00,90.10 494.50,90.82 495.00,90.86 495.50,89.89 496.00,90.88 496.50,90.87 497.00,90.55 497.50,89.86 498.00,90.80 498.50,89.95 499.00,90.88 499.50,90.55 500.00,89.88 500.50,90.00 501.00,90.52 501.50,90.44 502.00,90.64 502.50,90.84 503.00,90.06 503.50,89.82 504.00,90.84 504.50,89.84 505.00,90.79 505.50,89.95 506.00,90.71 506.50,90.68" fill="none" stroke="#DF5A0E" stroke-width="2.6" stroke-linejoin="round" stroke-linecap="round" />
<polyline points="381.50,84.13 382.00,84.12 382.50,84.38 383.00,84.30 383.50,84.31 384.00,84.61 384.50,85.02 385.00,85.01 385.50,85.05 386.00,84.76 386.50,85.03 387.00,84.92 387.50,84.92 388.00,84.93 388.50,85.06 389.00,85.59 389.50,85.59 390.00,85.63 390.50,85.68 391.00,85.33 391.50,85.46 392.00,85.72 392.50,85.84 393.00,85.97 393.50,86.04 394.00,85.56 394.50,85.95 395.00,86.04 395.50,85.98 396.00,85.80 396.50,86.04 397.00,85.83 397.50,86.43 398.00,86.43 398.50,86.26 399.00,86.13 399.50,86.57 400.00,86.39 400.50,86.63 401.00,86.64 401.50,86.45 402.00,86.43 402.50,86.58 403.00,86.50 403.50,86.36 404.00,86.49 404.50,86.85 405.00,86.38 405.50,86.41 406.00,86.82 406.50,86.62 407.00,86.82 407.50,86.80 408.00,86.75 408.50,87.20 409.00,86.70 409.50,86.87 410.00,86.76 410.50,87.06 411.00,86.85 411.50,86.93 412.00,87.21 412.50,86.95 413.00,87.13 413.50,87.38 414.00,86.87 414.50,86.87 415.00,87.00 415.50,87.37 416.00,87.30 416.50,87.06 417.00,87.15 417.50,87.06 418.00,87.27 418.50,87.01 419.00,87.46 419.50,87.61 420.00,87.66 420.50,87.54 421.00,87.70 421.50,87.09 422.00,87.29 422.50,87.75 423.00,87.64 423.50,87.41 424.00,87.78 424.50,87.58 425.00,87.73 425.50,87.39 426.00,87.34 426.50,87.52 427.00,87.33 427.50,87.50 428.00,87.90 428.50,87.49 429.00,87.29 429.50,87.33 430.00,87.42 430.50,87.84 431.00,87.57 431.50,87.53 432.00,87.42 432.50,88.01 433.00,87.65 433.50,87.52 434.00,87.43 434.50,87.44 435.00,87.52 435.50,87.87 436.00,87.53 436.50,87.47 437.00,87.77 437.50,87.62 438.00,88.12 438.50,87.55 439.00,87.83 439.50,88.00 440.00,87.77 440.50,88.16 441.00,87.83 441.50,87.68 442.00,87.80 442.50,87.56 443.00,87.83 443.50,87.72 444.00,88.15 444.50,88.12 445.00,87.91 445.50,87.92 446.00,87.93 446.50,87.94 447.00,87.95 447.50,87.96 448.00,87.97 448.50,87.98 449.00,88.00 449.50,88.01 450.00,88.03 450.50,88.04 451.00,88.06 451.50,88.08 452.00,88.10 452.50,88.13 453.00,88.15 453.50,88.18 454.00,88.22 454.50,88.25 455.00,88.29 455.50,88.33 456.00,88.38 456.50,88.43 457.00,88.49 457.50,88.55 458.00,88.61 458.50,88.68 459.00,88.75 459.50,88.82 460.00,88.90 460.50,88.98 461.00,89.06 461.50,89.14 462.00,89.22 462.50,89.30 463.00,89.38 463.50,89.46 464.00,89.53 464.50,89.60 465.00,89.67 465.50,89.73 466.00,89.79 466.50,89.84 467.00,89.89 467.50,89.94 468.00,89.98 468.50,90.02 469.00,90.05 469.50,90.08 470.00,90.11 470.50,90.13 471.00,90.15 471.50,90.17 472.00,90.19 472.50,90.21 473.00,90.22 473.50,90.23 474.00,90.24 474.50,90.25 475.00,90.26 475.50,90.27 476.00,90.28 476.50,90.28 477.00,90.29 477.50,90.29 478.00,90.30 478.50,90.30 479.00,90.00 479.50,90.15 480.00,90.14 480.50,90.12 481.00,90.14 481.50,90.57 482.00,90.09 482.50,90.03 483.00,90.61 483.50,90.37 484.00,90.66 484.50,90.27 485.00,90.60 485.50,90.44 486.00,90.53 486.50,90.50 487.00,90.34 487.50,90.07 488.00,90.15 488.50,90.59 489.00,90.61 489.50,90.63 490.00,90.24 490.50,90.45 491.00,90.55 491.50,90.45 492.00,90.56 492.50,90.37 493.00,90.46 493.50,90.48 494.00,90.20 494.50,90.64 495.00,90.66 495.50,90.08 496.00,90.67 496.50,90.67 497.00,90.47 497.50,90.06 498.00,90.63 498.50,90.12 499.00,90.67 499.50,90.48 500.00,90.08 500.50,90.15 501.00,90.46 501.50,90.41 502.00,90.53 502.50,90.65 503.00,90.18 503.50,90.04 504.00,90.65 504.50,90.05 505.00,90.62 505.50,90.12 506.00,90.58 506.50,90.56" fill="none" stroke="#3a1a00" stroke-width="0.9" stroke-linejoin="round" stroke-linecap="round" />
<rect x="472.1" y="20.6" width="35.299999999999955" height="18.1" fill="#fff"/>
<rect x="472.6" y="20.6" width="31.299999999999955" height="17.1" fill="#D3D3D3"/>
</g>
<g clip-path="url(#c12)">
<polyline points="381.50,162.20 382.00,162.29 382.50,162.38 383.00,162.46 383.50,162.54 384.00,162.62 384.50,162.69 385.00,162.76 385.50,162.83 386.00,162.89 386.50,162.95 387.00,163.00 387.50,163.06 388.00,163.11 388.50,163.16 389.00,163.20 389.50,163.25 390.00,163.29 390.50,163.33 391.00,163.37 391.50,163.40 392.00,163.44 392.50,163.47 393.00,163.50 393.50,163.53 394.00,163.56 394.50,163.58 395.00,163.61 395.50,163.63 396.00,163.65 396.50,163.68 397.00,163.70 397.50,163.72 398.00,163.74 398.50,163.75 399.00,163.77 399.50,163.79 400.00,163.80 400.50,163.82 401.00,163.83 401.50,163.84 402.00,163.86 402.50,163.87 403.00,163.88 403.50,163.89 404.00,163.90 404.50,163.91 405.00,163.92 405.50,163.93 406.00,163.94 406.50,163.94 407.00,163.95 407.50,163.96 408.00,163.97 408.50,163.97 409.00,163.98 409.50,163.98 410.00,163.99 410.50,164.00 411.00,164.00 411.50,164.01 412.00,164.01 412.50,164.01 413.00,164.02 413.50,164.02 414.00,164.03 414.50,164.03 415.00,164.03 415.50,164.04 416.00,164.04 416.50,164.04 417.00,164.05 417.50,164.05 418.00,164.05 418.50,164.05 419.00,164.06 419.50,164.06 420.00,164.06 420.50,164.06 421.00,164.07 421.50,164.07 422.00,164.07 422.50,164.07 423.00,164.07 423.50,164.08 424.00,164.08 424.50,164.08 425.00,164.08 425.50,164.08 426.00,164.08 426.50,164.09 427.00,164.09 427.50,164.09 428.00,164.09 428.50,164.09 429.00,164.09 429.50,164.10 430.00,164.10 430.50,164.10 431.00,164.10 431.50,164.10 432.00,164.10 432.50,164.11 433.00,164.11 433.50,164.11 434.00,164.11 434.50,164.12 435.00,164.12 435.50,164.12 436.00,164.13 436.50,164.13 437.00,164.13 437.50,164.14 438.00,164.14 438.50,164.15 439.00,164.15 439.50,164.16 440.00,164.17 440.50,164.17 441.00,164.18 441.50,164.19 442.00,164.20 442.50,164.21 443.00,164.22 443.50,164.23 444.00,164.24 444.50,164.25 445.00,164.26 445.50,164.27 446.00,164.28 446.50,164.28 447.00,164.29 447.50,164.28 448.00,164.27 448.50,164.25 449.00,164.22 449.50,164.16 450.00,164.09 450.50,163.98 451.00,163.83 451.50,163.63 452.00,163.37 452.50,163.04 453.00,162.62 453.50,162.11 454.00,161.48 454.50,160.73 455.00,159.84 455.50,158.79 456.00,157.59 456.50,156.22 457.00,154.68 457.50,152.99 458.00,151.14 458.50,149.16 459.00,147.07 459.50,144.90 460.00,142.69 460.50,140.48 461.00,138.33 461.50,136.27 462.00,134.37 462.50,132.68 463.00,131.24 463.50,130.09 464.00,129.27 464.50,128.82 465.00,128.73 465.50,129.03 466.00,129.69 466.50,130.72 467.00,132.07 467.50,133.72 468.00,135.61 468.50,137.71 469.00,139.95 469.50,142.29 470.00,144.68 470.50,147.06 471.00,149.40 471.50,151.65 472.00,153.78 472.50,155.77 473.00,157.61 473.50,159.27 474.00,160.77 474.50,162.09 475.00,163.24 475.50,164.24 476.00,165.09 476.50,165.81 477.00,166.41 477.50,166.90 478.00,167.30 478.50,167.63 479.00,167.89 479.50,168.10 480.00,168.27 480.50,168.40 481.00,168.50 481.50,168.57 482.00,168.63 482.50,168.68 483.00,168.72 483.50,168.75 484.00,168.77 484.50,168.79 485.00,168.80 485.50,168.81 486.00,168.82 486.50,168.83 487.00,168.84 487.50,168.84 488.00,168.85 488.50,168.85 489.00,168.86 489.50,168.86 490.00,168.86 490.50,168.87 491.00,168.87 491.50,168.87 492.00,168.88 492.50,168.88 493.00,168.88 493.50,168.88 494.00,168.88 494.50,168.88 495.00,168.89 495.50,168.89 496.00,168.89 496.50,168.89 497.00,168.89 497.50,168.89 498.00,168.89 498.50,168.89 499.00,168.89 499.50,168.89 500.00,168.89 500.50,168.89 501.00,168.90 501.50,168.90 502.00,168.90 502.50,168.90 503.00,168.90 503.50,168.90 504.00,168.90 504.50,168.90 505.00,168.90 505.50,168.90 506.00,168.90 506.50,168.90" fill="none" stroke="#DF5A0E" stroke-width="2.4" stroke-linejoin="round" stroke-linecap="round" />
<polyline points="381.50,162.20 382.00,162.29 382.50,162.38 383.00,162.46 383.50,162.54 384.00,162.62 384.50,162.69 385.00,162.76 385.50,162.83 386.00,162.89 386.50,162.95 387.00,163.00 387.50,163.06 388.00,163.11 388.50,163.16 389.00,163.20 389.50,163.25 390.00,163.29 390.50,163.33 391.00,163.37 391.50,163.40 392.00,163.44 392.50,163.47 393.00,163.50 393.50,163.53 394.00,163.56 394.50,163.58 395.00,163.61 395.50,163.63 396.00,163.65 396.50,163.68 397.00,163.70 397.50,163.72 398.00,163.74 398.50,163.75 399.00,163.77 399.50,163.79 400.00,163.80 400.50,163.82 401.00,163.83 401.50,163.84 402.00,163.86 402.50,163.87 403.00,163.88 403.50,163.89 404.00,163.90 404.50,163.91 405.00,163.92 405.50,163.93 406.00,163.94 406.50,163.94 407.00,163.95 407.50,163.96 408.00,163.97 408.50,163.97 409.00,163.98 409.50,163.98 410.00,163.99 410.50,164.00 411.00,164.00 411.50,164.01 412.00,164.01 412.50,164.01 413.00,164.02 413.50,164.02 414.00,164.03 414.50,164.03 415.00,164.03 415.50,164.04 416.00,164.04 416.50,164.04 417.00,164.05 417.50,164.05 418.00,164.05 418.50,164.05 419.00,164.06 419.50,164.06 420.00,164.06 420.50,164.06 421.00,164.07 421.50,164.07 422.00,164.07 422.50,164.07 423.00,164.07 423.50,164.08 424.00,164.08 424.50,164.08 425.00,164.08 425.50,164.08 426.00,164.08 426.50,164.09 427.00,164.09 427.50,164.09 428.00,164.09 428.50,164.09 429.00,164.09 429.50,164.09 430.00,164.10 430.50,164.10 431.00,164.10 431.50,164.10 432.00,164.10 432.50,164.10 433.00,164.10 433.50,164.10 434.00,164.10 434.50,164.10 435.00,164.09 435.50,164.08 436.00,164.07 436.50,164.05 437.00,164.02 437.50,163.99 438.00,163.94 438.50,163.88 439.00,163.79 439.50,163.69 440.00,163.55 440.50,163.38 441.00,163.16 441.50,162.90 442.00,162.57 442.50,162.17 443.00,161.69 443.50,161.11 444.00,160.43 444.50,159.64 445.00,158.72 445.50,157.67 446.00,156.48 446.50,155.13 447.00,153.64 447.50,152.00 448.00,150.22 448.50,148.31 449.00,146.28 449.50,144.14 450.00,141.94 450.50,139.69 451.00,137.43 451.50,135.19 452.00,133.02 452.50,130.96 453.00,129.04 453.50,127.32 454.00,125.82 454.50,124.58 455.00,123.64 455.50,123.01 456.00,122.71 456.50,122.75 457.00,123.14 457.50,123.85 458.00,124.89 458.50,126.22 459.00,127.83 459.50,129.66 460.00,131.69 460.50,133.88 461.00,136.18 461.50,138.56 462.00,140.96 462.50,143.36 463.00,145.72 463.50,148.01 464.00,150.20 464.50,152.28 465.00,154.22 465.50,156.01 466.00,157.66 466.50,159.15 467.00,160.49 467.50,161.68 468.00,162.73 468.50,163.65 469.00,164.45 469.50,165.13 470.00,165.72 470.50,166.22 471.00,166.64 471.50,166.99 472.00,167.28 472.50,167.53 473.00,167.73 473.50,167.90 474.00,168.04 474.50,168.16 475.00,168.25 475.50,168.33 476.00,168.40 476.50,168.46 477.00,168.50 477.50,168.55 478.00,168.58 478.50,168.61 479.00,168.64 479.50,168.66 480.00,168.69 480.50,168.70 481.00,168.72 481.50,168.74 482.00,168.75 482.50,168.76 483.00,168.78 483.50,168.79 484.00,168.80 484.50,168.81 485.00,168.81 485.50,168.82 486.00,168.83 486.50,168.83 487.00,168.84 487.50,168.84 488.00,168.85 488.50,168.85 489.00,168.86 489.50,168.86 490.00,168.86 490.50,168.87 491.00,168.87 491.50,168.87 492.00,168.88 492.50,168.88 493.00,168.88 493.50,168.88 494.00,168.88 494.50,168.88 495.00,168.89 495.50,168.89 496.00,168.89 496.50,168.89 497.00,168.89 497.50,168.89 498.00,168.89 498.50,168.89 499.00,168.89 499.50,168.89 500.00,168.89 500.50,168.89 501.00,168.90 501.50,168.90 502.00,168.90 502.50,168.90 503.00,168.90 503.50,168.90 504.00,168.90 504.50,168.90 505.00,168.90 505.50,168.90 506.00,168.90 506.50,168.90" fill="none" stroke="#8400E0" stroke-width="2.5" stroke-linejoin="round" stroke-linecap="round" />
<polyline points="381.50,162.20 382.00,162.39 382.50,162.52 383.00,162.72 383.50,162.64 384.00,162.86 384.50,162.22 385.00,162.63 385.50,163.08 386.00,162.91 386.50,163.17 387.00,162.59 387.50,162.93 388.00,162.81 388.50,163.09 389.00,163.16 389.50,162.76 390.00,162.96 390.50,163.05 391.00,163.60 391.50,163.51 392.00,163.06 392.50,163.61 393.00,163.11 393.50,163.52 394.00,163.16 394.50,163.08 395.00,163.80 395.50,163.30 396.00,163.33 396.50,163.96 397.00,163.89 397.50,163.45 398.00,164.00 398.50,163.68 399.00,163.81 399.50,163.45 400.00,164.05 400.50,163.87 401.00,164.10 401.50,164.06 402.00,163.59 402.50,163.66 403.00,163.51 403.50,163.51 404.00,163.45 404.50,163.65 405.00,163.90 405.50,163.43 406.00,163.98 406.50,163.71 407.00,163.70 407.50,164.11 408.00,163.85 408.50,163.73 409.00,163.86 409.50,164.05 410.00,163.54 410.50,164.28 411.00,163.52 411.50,164.11 412.00,164.19 412.50,163.53 413.00,164.15 413.50,163.82 414.00,163.99 414.50,163.54 415.00,163.57 415.50,163.68 416.00,164.30 416.50,163.70 417.00,164.15 417.50,164.29 418.00,164.30 418.50,163.83 419.00,163.84 419.50,163.98 420.00,164.18 420.50,163.65 421.00,164.16 421.50,164.20 422.00,164.25 422.50,163.59 423.00,164.31 423.50,163.63 424.00,163.82 424.50,164.03 425.00,164.27 425.50,163.80 426.00,164.25 426.50,163.93 427.00,163.73 427.50,163.71 428.00,163.57 428.50,163.46 429.00,163.48 429.50,163.87 430.00,164.06 430.50,163.33 431.00,163.18 431.50,163.85 432.00,163.38 432.50,163.28 433.00,163.17 433.50,163.06 434.00,162.93 434.50,162.79 435.00,162.65 435.50,162.49 436.00,162.33 436.50,162.16 437.00,161.98 437.50,161.80 438.00,161.62 438.50,161.44 439.00,161.26 439.50,161.08 440.00,160.92 440.50,160.76 441.00,160.62 441.50,160.49 442.00,160.38 442.50,160.29 443.00,160.22 443.50,160.18 444.00,160.16 444.50,160.16 445.00,160.18 445.50,160.24 446.00,160.31 446.50,160.41 447.00,160.53 447.50,160.67 448.00,160.83 448.50,161.01 449.00,161.20 449.50,161.40 450.00,161.61 450.50,161.83 451.00,162.06 451.50,162.29 452.00,162.51 452.50,162.74 453.00,162.97 453.50,163.19 454.00,163.41 454.50,163.62 455.00,163.82 455.50,164.02 456.00,164.21 456.50,164.40 457.00,164.58 457.50,164.75 458.00,164.91 458.50,165.08 459.00,165.23 459.50,165.38 460.00,165.53 460.50,165.67 461.00,165.81 461.50,165.94 462.00,166.08 462.50,166.20 463.00,166.33 463.50,166.45 464.00,166.57 464.50,166.69 465.00,166.80 465.50,166.91 466.00,167.02 466.50,167.13 467.00,167.23 467.50,167.32 468.00,167.42 468.50,167.50 469.00,167.59 469.50,167.67 470.00,167.75 470.50,167.82 471.00,167.89 471.50,167.96 472.00,168.02 472.50,168.07 473.00,168.13 473.50,168.18 474.00,168.23 474.50,168.27 475.00,168.31 475.50,168.35 476.00,168.39 476.50,168.42 477.00,168.45 477.50,168.48 478.00,168.51 478.50,168.53 479.00,168.55 479.50,168.57 480.00,168.59 480.50,168.61 481.00,168.62 481.50,168.64 482.00,168.65 482.50,168.67 483.00,168.68 483.50,168.69 484.00,168.70 484.50,168.71 485.00,168.71 485.50,168.72 486.00,168.73 486.50,168.73 487.00,168.74 487.50,168.74 488.00,168.75 488.50,168.75 489.00,168.76 489.50,168.76 490.00,168.76 490.50,168.77 491.00,168.77 491.50,168.77 492.00,168.78 492.50,168.78 493.00,168.78 493.50,168.78 494.00,168.78 494.50,168.78 495.00,168.79 495.50,168.79 496.00,168.79 496.50,168.79 497.00,168.79 497.50,168.79 498.00,168.79 498.50,168.79 499.00,168.79 499.50,168.79 500.00,168.79 500.50,168.79 501.00,168.80 501.50,168.80 502.00,168.80 502.50,168.80 503.00,168.80 503.50,168.80 504.00,168.80 504.50,168.80 505.00,168.80 505.50,168.80 506.00,168.80 506.50,168.80" fill="none" stroke="#30B030" stroke-width="2.8" stroke-linejoin="round" stroke-linecap="round" />
<polyline points="381.50,162.22 382.00,162.43 382.50,162.58 383.00,162.81 383.50,162.68 384.00,162.94 384.50,162.12 385.00,162.63 385.50,163.17 386.00,162.94 386.50,163.25 387.00,162.52 387.50,162.93 388.00,162.75 388.50,163.10 389.00,163.18 389.50,162.66 390.00,162.90 390.50,163.01 391.00,163.68 391.50,163.57 392.00,162.99 392.50,163.66 393.00,163.04 393.50,163.55 394.00,163.08 394.50,162.98 395.00,163.88 395.50,163.24 396.00,163.27 396.50,164.06 397.00,163.97 397.50,163.41 398.00,164.10 398.50,163.69 399.00,163.85 399.50,163.39 400.00,164.14 400.50,163.91 401.00,164.20 401.50,164.14 402.00,163.55 402.50,163.63 403.00,163.44 403.50,163.44 404.00,163.36 404.50,163.61 405.00,163.92 405.50,163.33 406.00,164.01 406.50,163.68 407.00,163.66 407.50,164.18 408.00,163.85 408.50,163.69 409.00,163.86 409.50,164.09 410.00,163.45 410.50,164.37 411.00,163.42 411.50,164.16 412.00,164.26 412.50,163.43 413.00,164.21 413.50,163.79 414.00,164.01 414.50,163.44 415.00,163.48 415.50,163.62 416.00,164.40 416.50,163.64 417.00,164.20 417.50,164.38 418.00,164.39 418.50,163.80 419.00,163.81 419.50,163.98 420.00,164.23 420.50,163.57 421.00,164.21 421.50,164.26 422.00,164.32 422.50,163.50 423.00,164.40 423.50,163.54 424.00,163.79 424.50,164.05 425.00,164.35 425.50,163.77 426.00,164.34 426.50,163.94 427.00,163.69 427.50,163.67 428.00,163.51 428.50,163.38 429.00,163.41 429.50,163.90 430.00,164.16 430.50,163.27 431.00,163.08 431.50,163.95 432.00,163.37 432.50,163.27 433.00,163.17 433.50,163.05 434.00,162.91 434.50,162.77 435.00,162.61 435.50,162.45 436.00,162.27 436.50,162.07 437.00,161.87 437.50,161.65 438.00,161.41 438.50,161.16 439.00,160.90 439.50,160.61 440.00,160.30 440.50,159.97 441.00,159.60 441.50,159.20 442.00,158.75 442.50,158.25 443.00,157.69 443.50,157.06 444.00,156.34 444.50,155.53 445.00,154.62 445.50,153.60 446.00,152.45 446.50,151.18 447.00,149.77 447.50,148.22 448.00,146.54 448.50,144.73 449.00,142.80 449.50,140.76 450.00,138.62 450.50,136.41 451.00,134.14 451.50,131.85 452.00,129.57 452.50,127.30 453.00,125.10 453.50,122.97 454.00,120.95 454.50,119.05 455.00,117.28 455.50,115.67 456.00,114.21 456.50,112.92 457.00,111.79 457.50,110.81 458.00,109.99 458.50,109.32 459.00,108.80 459.50,108.42 460.00,108.19 460.50,108.11 461.00,108.19 461.50,108.43 462.00,108.85 462.50,109.47 463.00,110.29 463.50,111.34 464.00,112.62 464.50,114.13 465.00,115.89 465.50,117.88 466.00,120.10 466.50,122.52 467.00,125.11 467.50,127.86 468.00,130.72 468.50,133.64 469.00,136.60 469.50,139.55 470.00,142.45 470.50,145.25 471.00,147.94 471.50,150.48 472.00,152.85 472.50,155.03 473.00,157.01 473.50,158.79 474.00,160.38 474.50,161.77 475.00,162.98 475.50,164.02 476.00,164.90 476.50,165.64 477.00,166.26 477.50,166.77 478.00,167.18 478.50,167.52 479.00,167.78 479.50,167.99 480.00,168.16 480.50,168.29 481.00,168.39 481.50,168.47 482.00,168.53 482.50,168.58 483.00,168.62 483.50,168.65 484.00,168.67 484.50,168.69 485.00,168.70 485.50,168.71 486.00,168.72 486.50,168.73 487.00,168.74 487.50,168.74 488.00,168.75 488.50,168.75 489.00,168.76 489.50,168.76 490.00,168.76 490.50,168.77 491.00,168.77 491.50,168.77 492.00,168.78 492.50,168.78 493.00,168.78 493.50,168.78 494.00,168.78 494.50,168.78 495.00,168.79 495.50,168.79 496.00,168.79 496.50,168.79 497.00,168.79 497.50,168.79 498.00,168.79 498.50,168.79 499.00,168.79 499.50,168.79 500.00,168.79 500.50,168.79 501.00,168.80 501.50,168.80 502.00,168.80 502.50,168.80 503.00,168.80 503.50,168.80 504.00,168.80 504.50,168.80 505.00,168.80 505.50,168.80 506.00,168.80 506.50,168.80" fill="none" stroke="#000" stroke-width="1.4" stroke-linejoin="round" stroke-linecap="round" />
</g>
<g clip-path="url(#c22)">
<polyline points="381.50,243.30 382.00,243.38 382.50,243.46 383.00,243.54 383.50,243.61 384.00,243.68 384.50,243.75 385.00,243.82 385.50,243.89 386.00,243.95 386.50,244.01 387.00,244.07 387.50,244.12 388.00,244.18 388.50,244.23 389.00,244.28 389.50,244.33 390.00,244.38 390.50,244.43 391.00,244.47 391.50,244.52 392.00,244.56 392.50,244.60 393.00,244.64 393.50,244.68 394.00,244.71 394.50,244.75 395.00,244.78 395.50,244.82 396.00,244.85 396.50,244.88 397.00,244.91 397.50,244.94 398.00,244.97 398.50,245.00 399.00,245.02 399.50,245.05 400.00,245.07 400.50,245.10 401.00,245.12 401.50,245.14 402.00,245.16 402.50,245.18 403.00,245.20 403.50,245.22 404.00,245.24 404.50,245.26 405.00,245.28 405.50,245.30 406.00,245.31 406.50,245.33 407.00,245.34 407.50,245.36 408.00,245.37 408.50,245.39 409.00,245.40 409.50,245.41 410.00,245.43 410.50,245.44 411.00,245.45 411.50,245.46 412.00,245.47 412.50,245.48 413.00,245.49 413.50,245.50 414.00,245.51 414.50,245.52 415.00,245.53 415.50,245.54 416.00,245.55 416.50,245.56 417.00,245.57 417.50,245.57 418.00,245.58 418.50,245.59 419.00,245.60 419.50,245.60 420.00,245.61 420.50,245.62 421.00,245.62 421.50,245.63 422.00,245.63 422.50,245.64 423.00,245.65 423.50,245.65 424.00,245.66 424.50,245.66 425.00,245.67 425.50,245.67 426.00,245.68 426.50,245.68 427.00,245.69 427.50,245.69 428.00,245.69 428.50,245.70 429.00,245.70 429.50,245.71 430.00,245.71 430.50,245.71 431.00,245.72 431.50,245.72 432.00,245.73 432.50,245.73 433.00,245.73 433.50,245.74 434.00,245.74 434.50,245.75 435.00,245.75 435.50,245.75 436.00,245.76 436.50,245.76 437.00,245.77 437.50,245.77 438.00,245.78 438.50,245.78 439.00,245.79 439.50,245.79 440.00,245.80 440.50,245.80 441.00,245.81 441.50,245.82 442.00,245.82 442.50,245.83 443.00,245.84 443.50,245.85 444.00,245.86 444.50,245.86 445.00,245.87 445.50,245.88 446.00,245.90 446.50,245.91 447.00,245.92 447.50,245.93 448.00,245.95 448.50,245.96 449.00,245.98 449.50,246.00 450.00,246.02 450.50,246.04 451.00,246.06 451.50,246.08 452.00,246.11 452.50,246.13 453.00,246.16 453.50,246.19 454.00,246.22 454.50,246.25 455.00,246.29 455.50,246.33 456.00,246.37 456.50,246.41 457.00,246.45 457.50,246.50 458.00,246.54 458.50,246.59 459.00,246.65 459.50,246.70 460.00,246.76 460.50,246.81 461.00,246.87 461.50,246.93 462.00,247.00 462.50,247.06 463.00,247.12 463.50,247.19 464.00,247.26 464.50,247.32 465.00,247.39 465.50,247.46 466.00,247.52 466.50,247.59 467.00,247.66 467.50,247.72 468.00,247.78 468.50,247.85 469.00,247.91 469.50,247.97 470.00,248.02 470.50,248.08 471.00,248.13 471.50,248.18 472.00,248.23 472.50,248.28 473.00,248.33 473.50,248.37 474.00,248.41 474.50,248.45 475.00,248.49 475.50,248.52 476.00,248.55 476.50,248.59 477.00,248.61 477.50,248.64 478.00,248.67 478.50,248.69 479.00,248.71 479.50,248.73 480.00,248.75 480.50,248.77 481.00,248.79 481.50,248.80 482.00,248.82 482.50,248.83 483.00,248.85 483.50,248.86 484.00,248.87 484.50,248.88 485.00,248.89 485.50,248.90 486.00,248.90 486.50,248.91 487.00,248.92 487.50,248.92 488.00,248.93 488.50,248.94 489.00,248.94 489.50,248.95 490.00,248.95 490.50,248.95 491.00,248.96 491.50,248.96 492.00,248.96 492.50,248.97 493.00,248.97 493.50,248.97 494.00,248.97 494.50,248.98 495.00,248.98 495.50,248.98 496.00,248.98 496.50,248.98 497.00,248.98 497.50,248.98 498.00,248.99 498.50,248.99 499.00,248.99 499.50,248.99 500.00,248.99 500.50,248.99 501.00,248.99 501.50,248.99 502.00,248.99 502.50,248.99 503.00,248.99 503.50,248.99 504.00,248.99 504.50,248.99 505.00,249.00 505.50,249.00 506.00,249.00 506.50,249.00" fill="none" stroke="#333" stroke-width="0.8" stroke-linejoin="round" stroke-linecap="round" />
<polyline points="381.50,243.20 382.00,243.28 382.50,243.36 383.00,243.44 383.50,243.51 384.00,243.58 384.50,243.65 385.00,243.72 385.50,243.79 386.00,243.85 386.50,243.91 387.00,243.97 387.50,244.02 388.00,244.08 388.50,244.13 389.00,244.18 389.50,244.23 390.00,244.28 390.50,244.33 391.00,244.37 391.50,244.42 392.00,244.46 392.50,244.50 393.00,244.54 393.50,244.58 394.00,244.61 394.50,244.65 395.00,244.68 395.50,244.72 396.00,244.75 396.50,244.78 397.00,244.81 397.50,244.84 398.00,244.87 398.50,244.90 399.00,244.92 399.50,244.95 400.00,244.97 400.50,245.00 401.00,245.02 401.50,245.04 402.00,245.06 402.50,245.08 403.00,245.10 403.50,245.12 404.00,245.14 404.50,245.16 405.00,245.18 405.50,245.20 406.00,245.21 406.50,245.23 407.00,245.24 407.50,245.26 408.00,245.27 408.50,245.29 409.00,245.30 409.50,245.31 410.00,245.33 410.50,245.34 411.00,245.35 411.50,245.36 412.00,245.37 412.50,245.38 413.00,245.39 413.50,245.40 414.00,245.41 414.50,245.42 415.00,245.43 415.50,245.44 416.00,245.45 416.50,245.46 417.00,245.47 417.50,245.47 418.00,245.48 418.50,245.49 419.00,245.50 419.50,245.50 420.00,245.51 420.50,245.52 421.00,245.52 421.50,245.53 422.00,245.53 422.50,245.54 423.00,245.55 423.50,245.55 424.00,245.56 424.50,245.56 425.00,245.57 425.50,245.57 426.00,245.58 426.50,245.58 427.00,245.59 427.50,245.59 428.00,245.59 428.50,245.60 429.00,245.60 429.50,245.61 430.00,245.61 430.50,245.61 431.00,245.62 431.50,245.62 432.00,245.63 432.50,245.63 433.00,245.63 433.50,245.64 434.00,245.64 434.50,245.65 435.00,245.65 435.50,245.65 436.00,245.66 436.50,245.66 437.00,245.67 437.50,245.67 438.00,245.68 438.50,245.68 439.00,245.69 439.50,245.69 440.00,245.69 440.50,245.70 441.00,245.70 441.50,245.71 442.00,245.71 442.50,245.71 443.00,245.71 443.50,245.70 444.00,245.70 444.50,245.68 445.00,245.67 445.50,245.64 446.00,245.60 446.50,245.55 447.00,245.48 447.50,245.40 448.00,245.29 448.50,245.14 449.00,244.97 449.50,244.75 450.00,244.48 450.50,244.16 451.00,243.77 451.50,243.32 452.00,242.78 452.50,242.16 453.00,241.45 453.50,240.65 454.00,239.74 454.50,238.74 455.00,237.63 455.50,236.44 456.00,235.15 456.50,233.79 457.00,232.37 457.50,230.90 458.00,229.41 458.50,227.91 459.00,226.44 459.50,225.01 460.00,223.66 460.50,222.42 461.00,221.31 461.50,220.36 462.00,219.58 462.50,219.01 463.00,218.65 463.50,218.51 464.00,218.60 464.50,218.91 465.00,219.45 465.50,220.20 466.00,221.14 466.50,222.25 467.00,223.51 467.50,224.90 468.00,226.39 468.50,227.94 469.00,229.53 469.50,231.14 470.00,232.73 470.50,234.30 471.00,235.80 471.50,237.24 472.00,238.60 472.50,239.86 473.00,241.02 473.50,242.08 474.00,243.04 474.50,243.90 475.00,244.65 475.50,245.32 476.00,245.89 476.50,246.39 477.00,246.81 477.50,247.17 478.00,247.47 478.50,247.72 479.00,247.93 479.50,248.10 480.00,248.24 480.50,248.35 481.00,248.45 481.50,248.52 482.00,248.58 482.50,248.63 483.00,248.67 483.50,248.70 484.00,248.73 484.50,248.75 485.00,248.77 485.50,248.78 486.00,248.79 486.50,248.80 487.00,248.81 487.50,248.82 488.00,248.83 488.50,248.83 489.00,248.84 489.50,248.84 490.00,248.85 490.50,248.85 491.00,248.86 491.50,248.86 492.00,248.86 492.50,248.87 493.00,248.87 493.50,248.87 494.00,248.87 494.50,248.88 495.00,248.88 495.50,248.88 496.00,248.88 496.50,248.88 497.00,248.88 497.50,248.88 498.00,248.89 498.50,248.89 499.00,248.89 499.50,248.89 500.00,248.89 500.50,248.89 501.00,248.89 501.50,248.89 502.00,248.89 502.50,248.89 503.00,248.89 503.50,248.89 504.00,248.89 504.50,248.89 505.00,248.90 505.50,248.90 506.00,248.90 506.50,248.90" fill="none" stroke="#DF5A0E" stroke-width="2.4" stroke-linejoin="round" stroke-linecap="round" />
<polyline points="381.50,243.20 382.00,243.28 382.50,243.36 383.00,243.44 383.50,243.51 384.00,243.58 384.50,243.65 385.00,243.72 385.50,243.79 386.00,243.85 386.50,243.91 387.00,243.97 387.50,244.02 388.00,244.08 388.50,244.13 389.00,244.18 389.50,244.23 390.00,244.28 390.50,244.33 391.00,244.37 391.50,244.42 392.00,244.46 392.50,244.50 393.00,244.54 393.50,244.58 394.00,244.61 394.50,244.65 395.00,244.68 395.50,244.72 396.00,244.75 396.50,244.78 397.00,244.81 397.50,244.84 398.00,244.87 398.50,244.90 399.00,244.92 399.50,244.95 400.00,244.97 400.50,245.00 401.00,245.02 401.50,245.04 402.00,245.06 402.50,245.08 403.00,245.10 403.50,245.12 404.00,245.14 404.50,245.16 405.00,245.18 405.50,245.20 406.00,245.21 406.50,245.23 407.00,245.24 407.50,245.26 408.00,245.27 408.50,245.29 409.00,245.30 409.50,245.31 410.00,245.33 410.50,245.34 411.00,245.35 411.50,245.36 412.00,245.37 412.50,245.38 413.00,245.39 413.50,245.40 414.00,245.41 414.50,245.42 415.00,245.43 415.50,245.44 416.00,245.45 416.50,245.46 417.00,245.47 417.50,245.47 418.00,245.48 418.50,245.49 419.00,245.50 419.50,245.50 420.00,245.51 420.50,245.52 421.00,245.52 421.50,245.53 422.00,245.53 422.50,245.54 423.00,245.54 423.50,245.55 424.00,245.55 424.50,245.56 425.00,245.56 425.50,245.57 426.00,245.57 426.50,245.57 427.00,245.58 427.50,245.58 428.00,245.58 428.50,245.58 429.00,245.57 429.50,245.57 430.00,245.56 430.50,245.55 431.00,245.54 431.50,245.52 432.00,245.50 432.50,245.47 433.00,245.43 433.50,245.38 434.00,245.32 434.50,245.25 435.00,245.16 435.50,245.06 436.00,244.93 436.50,244.78 437.00,244.60 437.50,244.39 438.00,244.15 438.50,243.86 439.00,243.53 439.50,243.15 440.00,242.71 440.50,242.22 441.00,241.66 441.50,241.04 442.00,240.34 442.50,239.56 443.00,238.71 443.50,237.78 444.00,236.76 444.50,235.66 445.00,234.48 445.50,233.22 446.00,231.89 446.50,230.48 447.00,229.02 447.50,227.50 448.00,225.93 448.50,224.34 449.00,222.73 449.50,221.12 450.00,219.53 450.50,217.96 451.00,216.44 451.50,214.99 452.00,213.63 452.50,212.36 453.00,211.22 453.50,210.21 454.00,209.35 454.50,208.65 455.00,208.12 455.50,207.77 456.00,207.60 456.50,207.62 457.00,207.83 457.50,208.23 458.00,208.81 458.50,209.56 459.00,210.47 459.50,211.54 460.00,212.74 460.50,214.07 461.00,215.50 461.50,217.02 462.00,218.61 462.50,220.25 463.00,221.92 463.50,223.62 464.00,225.31 464.50,226.99 465.00,228.64 465.50,230.25 466.00,231.81 466.50,233.30 467.00,234.73 467.50,236.08 468.00,237.35 468.50,238.54 469.00,239.64 469.50,240.66 470.00,241.59 470.50,242.44 471.00,243.22 471.50,243.92 472.00,244.54 472.50,245.10 473.00,245.60 473.50,246.04 474.00,246.43 474.50,246.76 475.00,247.06 475.50,247.32 476.00,247.54 476.50,247.73 477.00,247.89 477.50,248.03 478.00,248.15 478.50,248.26 479.00,248.34 479.50,248.42 480.00,248.48 480.50,248.54 481.00,248.58 481.50,248.62 482.00,248.65 482.50,248.68 483.00,248.71 483.50,248.73 484.00,248.74 484.50,248.76 485.00,248.77 485.50,248.79 486.00,248.80 486.50,248.81 487.00,248.81 487.50,248.82 488.00,248.83 488.50,248.83 489.00,248.84 489.50,248.84 490.00,248.85 490.50,248.85 491.00,248.86 491.50,248.86 492.00,248.86 492.50,248.87 493.00,248.87 493.50,248.87 494.00,248.87 494.50,248.88 495.00,248.88 495.50,248.88 496.00,248.88 496.50,248.88 497.00,248.88 497.50,248.88 498.00,248.89 498.50,248.89 499.00,248.89 499.50,248.89 500.00,248.89 500.50,248.89 501.00,248.89 501.50,248.89 502.00,248.89 502.50,248.89 503.00,248.89 503.50,248.89 504.00,248.89 504.50,248.89 505.00,248.90 505.50,248.90 506.00,248.90 506.50,248.90" fill="none" stroke="#8400E0" stroke-width="2.5" stroke-linejoin="round" stroke-linecap="round" />
<polyline points="381.50,243.21 382.00,243.31 382.50,243.15 383.00,243.07 383.50,242.95 384.00,243.50 384.50,243.43 385.00,243.71 385.50,243.49 386.00,243.84 386.50,243.55 387.00,243.98 387.50,243.99 388.00,243.82 388.50,243.96 389.00,244.11 389.50,243.81 390.00,244.12 390.50,244.35 391.00,244.00 391.50,244.43 392.00,244.39 392.50,244.55 393.00,244.22 393.50,244.08 394.00,244.63 394.50,244.67 395.00,244.44 395.50,244.22 396.00,244.33 396.50,244.68 397.00,244.46 397.50,244.96 398.00,244.73 398.50,244.48 399.00,244.83 399.50,244.65 400.00,245.08 400.50,245.09 401.00,244.83 401.50,244.95 402.00,245.01 402.50,245.10 403.00,245.25 403.50,244.58 404.00,244.84 404.50,245.03 405.00,244.84 405.50,245.06 406.00,244.72 406.50,245.30 407.00,245.06 407.50,244.78 408.00,245.19 408.50,244.95 409.00,244.88 409.50,245.10 410.00,244.87 410.50,244.93 411.00,245.41 411.50,245.30 412.00,244.82 412.50,245.38 413.00,244.85 413.50,245.08 414.00,245.50 414.50,245.31 415.00,245.09 415.50,245.15 416.00,245.17 416.50,244.99 417.00,245.62 417.50,244.95 418.00,245.22 418.50,245.46 419.00,245.21 419.50,245.63 420.00,245.11 420.50,245.64 421.00,245.57 421.50,245.41 422.00,245.57 422.50,245.24 423.00,245.51 423.50,245.47 424.00,245.25 424.50,245.20 425.00,245.34 425.50,245.09 426.00,244.82 426.50,245.24 427.00,244.84 427.50,244.93 428.00,245.06 428.50,244.53 429.00,244.32 429.50,244.27 430.00,244.47 430.50,244.15 431.00,243.90 431.50,243.85 432.00,243.68 432.50,243.45 433.00,243.20 433.50,242.94 434.00,242.65 434.50,242.35 435.00,242.03 435.50,241.69 436.00,241.34 436.50,240.99 437.00,240.62 437.50,240.26 438.00,239.89 438.50,239.53 439.00,239.17 439.50,238.83 440.00,238.50 440.50,238.20 441.00,237.92 441.50,237.67 442.00,237.45 442.50,237.27 443.00,237.13 443.50,237.03 444.00,236.98 444.50,236.96 445.00,237.00 445.50,237.07 446.00,237.19 446.50,237.35 447.00,237.55 447.50,237.79 448.00,238.06 448.50,238.36 449.00,238.69 449.50,239.03 450.00,239.40 450.50,239.78 451.00,240.17 451.50,240.57 452.00,240.96 452.50,241.36 453.00,241.75 453.50,242.13 454.00,242.50 454.50,242.85 455.00,243.20 455.50,243.53 456.00,243.84 456.50,244.13 457.00,244.41 457.50,244.66 458.00,244.91 458.50,245.13 459.00,245.34 459.50,245.53 460.00,245.72 460.50,245.88 461.00,246.04 461.50,246.18 462.00,246.32 462.50,246.44 463.00,246.56 463.50,246.67 464.00,246.78 464.50,246.88 465.00,246.97 465.50,247.06 466.00,247.15 466.50,247.23 467.00,247.31 467.50,247.38 468.00,247.45 468.50,247.52 469.00,247.59 469.50,247.65 470.00,247.71 470.50,247.77 471.00,247.83 471.50,247.88 472.00,247.93 472.50,247.98 473.00,248.02 473.50,248.07 474.00,248.11 474.50,248.15 475.00,248.19 475.50,248.22 476.00,248.25 476.50,248.28 477.00,248.31 477.50,248.34 478.00,248.37 478.50,248.39 479.00,248.41 479.50,248.43 480.00,248.45 480.50,248.47 481.00,248.49 481.50,248.50 482.00,248.52 482.50,248.53 483.00,248.55 483.50,248.56 484.00,248.57 484.50,248.58 485.00,248.59 485.50,248.60 486.00,248.60 486.50,248.61 487.00,248.62 487.50,248.62 488.00,248.63 488.50,248.64 489.00,248.64 489.50,248.65 490.00,248.65 490.50,248.65 491.00,248.66 491.50,248.66 492.00,248.66 492.50,248.67 493.00,248.67 493.50,248.67 494.00,248.67 494.50,248.68 495.00,248.68 495.50,248.68 496.00,248.68 496.50,248.68 497.00,248.68 497.50,248.68 498.00,248.69 498.50,248.69 499.00,248.69 499.50,248.69 500.00,248.69 500.50,248.69 501.00,248.69 501.50,248.69 502.00,248.69 502.50,248.69 503.00,248.69 503.50,248.69 504.00,248.69 504.50,248.69 505.00,248.70 505.50,248.70 506.00,248.70 506.50,248.70" fill="none" stroke="#30B030" stroke-width="2.8" stroke-linejoin="round" stroke-linecap="round" />
<polyline points="381.50,243.26 382.00,243.37 382.50,243.15 383.00,243.02 383.50,242.86 384.00,243.53 384.50,243.43 385.00,243.75 385.50,243.47 386.00,243.89 386.50,243.50 387.00,244.04 387.50,244.03 388.00,243.80 388.50,243.97 389.00,244.15 389.50,243.76 390.00,244.13 390.50,244.40 391.00,243.96 391.50,244.49 392.00,244.43 392.50,244.61 393.00,244.19 393.50,244.01 394.00,244.68 394.50,244.72 395.00,244.43 395.50,244.15 396.00,244.28 396.50,244.70 397.00,244.42 397.50,245.05 398.00,244.75 398.50,244.43 399.00,244.86 399.50,244.62 400.00,245.16 400.50,245.16 401.00,244.83 401.50,244.97 402.00,245.04 402.50,245.16 403.00,245.33 403.50,244.50 404.00,244.82 404.50,245.05 405.00,244.80 405.50,245.08 406.00,244.64 406.50,245.37 407.00,245.07 407.50,244.71 408.00,245.22 408.50,244.92 409.00,244.83 409.50,245.10 410.00,244.80 410.50,244.88 411.00,245.48 411.50,245.34 412.00,244.73 412.50,245.43 413.00,244.76 413.50,245.05 414.00,245.58 414.50,245.33 415.00,245.06 415.50,245.13 416.00,245.15 416.50,244.92 417.00,245.71 417.50,244.87 418.00,245.21 418.50,245.50 419.00,245.19 419.50,245.72 420.00,245.06 420.50,245.72 421.00,245.64 421.50,245.44 422.00,245.64 422.50,245.23 423.00,245.57 423.50,245.52 424.00,245.25 424.50,245.19 425.00,245.37 425.50,245.07 426.00,244.74 426.50,245.28 427.00,244.79 427.50,244.92 428.00,245.10 428.50,244.45 429.00,244.20 429.50,244.16 430.00,244.44 430.50,244.06 431.00,243.78 431.50,243.74 432.00,243.55 432.50,243.29 433.00,243.00 433.50,242.68 434.00,242.33 434.50,241.95 435.00,241.54 435.50,241.10 436.00,240.62 436.50,240.11 437.00,239.56 437.50,238.98 438.00,238.36 438.50,237.70 439.00,237.01 439.50,236.28 440.00,235.52 440.50,234.71 441.00,233.87 441.50,232.98 442.00,232.05 442.50,231.09 443.00,230.08 443.50,229.02 444.00,227.92 444.50,226.78 445.00,225.59 445.50,224.36 446.00,223.09 446.50,221.77 447.00,220.41 447.50,219.02 448.00,217.58 448.50,216.12 449.00,214.63 449.50,213.11 450.00,211.58 450.50,210.03 451.00,208.47 451.50,206.91 452.00,205.36 452.50,203.82 453.00,202.30 453.50,200.80 454.00,199.34 454.50,197.93 455.00,196.57 455.50,195.27 456.00,194.06 456.50,192.93 457.00,191.91 457.50,191.00 458.00,190.23 458.50,189.61 459.00,189.16 459.50,188.89 460.00,188.81 460.50,188.95 461.00,189.30 461.50,189.89 462.00,190.72 462.50,191.78 463.00,193.09 463.50,194.62 464.00,196.37 464.50,198.34 465.00,200.48 465.50,202.79 466.00,205.24 466.50,207.80 467.00,210.44 467.50,213.12 468.00,215.82 468.50,218.50 469.00,221.15 469.50,223.72 470.00,226.19 470.50,228.55 471.00,230.78 471.50,232.87 472.00,234.80 472.50,236.58 473.00,238.20 473.50,239.65 474.00,240.95 474.50,242.11 475.00,243.12 475.50,244.01 476.00,244.77 476.50,245.43 477.00,245.99 477.50,246.46 478.00,246.86 478.50,247.19 479.00,247.46 479.50,247.68 480.00,247.87 480.50,248.02 481.00,248.14 481.50,248.24 482.00,248.32 482.50,248.38 483.00,248.43 483.50,248.47 484.00,248.50 484.50,248.53 485.00,248.55 485.50,248.57 486.00,248.59 486.50,248.60 487.00,248.61 487.50,248.62 488.00,248.63 488.50,248.63 489.00,248.64 489.50,248.64 490.00,248.65 490.50,248.65 491.00,248.66 491.50,248.66 492.00,248.66 492.50,248.67 493.00,248.67 493.50,248.67 494.00,248.67 494.50,248.68 495.00,248.68 495.50,248.68 496.00,248.68 496.50,248.68 497.00,248.68 497.50,248.68 498.00,248.69 498.50,248.69 499.00,248.69 499.50,248.69 500.00,248.69 500.50,248.69 501.00,248.69 501.50,248.69 502.00,248.69 502.50,248.69 503.00,248.69 503.50,248.69 504.00,248.69 504.50,248.69 505.00,248.70 505.50,248.70 506.00,248.70 506.50,248.70" fill="none" stroke="#000" stroke-width="1.4" stroke-linejoin="round" stroke-linecap="round" />
</g>
<g clip-path="url(#c03)">
<polyline points="588.00,88.04 588.50,88.05 589.00,88.06 589.50,88.07 590.00,88.08 590.50,88.09 591.00,88.10 591.50,88.12 592.00,88.13 592.50,88.14 593.00,88.16 593.50,88.18 594.00,88.19 594.50,88.21 595.00,88.23 595.50,88.25 596.00,88.27 596.50,88.29 597.00,88.31 597.50,88.33 598.00,88.36 598.50,88.38 599.00,88.41 599.50,88.43 600.00,88.46 600.50,88.49 601.00,88.51 601.50,88.54 602.00,88.57 602.50,88.60 603.00,88.63 603.50,88.66 604.00,88.69 604.50,88.72 605.00,88.75 605.50,88.78 606.00,88.81 606.50,88.84 607.00,88.87 607.50,88.90 608.00,88.93 608.50,88.96 609.00,88.99 609.50,89.01 610.00,89.04 610.50,89.07 611.00,89.09 611.50,89.12 612.00,89.14 612.50,89.17 613.00,89.19 613.50,89.21 614.00,89.23 614.50,89.25 615.00,89.27 615.50,89.29 616.00,89.31 616.50,89.32 617.00,89.34 617.50,89.36 618.00,89.37 618.50,89.38 619.00,89.40 619.50,89.41 620.00,89.42 620.50,89.43 621.00,89.44 621.50,89.45 622.00,89.46 622.50,89.47 623.00,89.48 623.50,89.49 624.00,89.49 624.50,89.50 625.00,89.51 625.50,89.51 626.00,89.52 626.50,89.52 627.00,89.53 627.50,89.53 628.00,89.54 628.50,89.54 629.00,89.55 629.50,89.55 630.00,89.55 630.50,89.56 631.00,89.56 631.50,89.56 632.00,89.56 632.50,89.57 633.00,89.57 633.50,89.57 634.00,89.57 634.50,89.58 635.00,89.58 635.50,89.58 636.00,89.58 636.50,89.58 637.00,89.58 637.50,89.58 638.00,89.58 638.50,89.59 639.00,89.59 639.50,89.59 640.00,89.59 640.50,89.59 641.00,89.59 641.50,89.59 642.00,89.59 642.50,89.59 643.00,89.59 643.50,89.59 644.00,89.59 644.50,89.59 645.00,89.59 645.50,89.59 646.00,89.60 646.50,89.60 647.00,89.60 647.50,89.60 648.00,89.60 648.50,89.60 649.00,89.60 649.50,89.60 650.00,89.60 650.50,89.60 651.00,89.60 651.50,89.60 652.00,89.60 652.50,89.60 653.00,89.60 653.50,89.60 654.00,89.60 654.50,89.60 655.00,89.60 655.50,89.60 656.00,89.60 656.50,89.60 657.00,89.60 657.50,89.60 658.00,89.60 658.50,89.60 659.00,89.60 659.50,89.60 660.00,89.60 660.50,89.60 661.00,89.60 661.50,89.60 662.00,89.60 662.50,89.60 663.00,89.60 663.50,89.60 664.00,89.60 664.50,89.60 665.00,89.60 665.50,89.60 666.00,89.60 666.50,89.60 667.00,89.60 667.50,89.60 668.00,89.60 668.50,89.60 669.00,89.60 669.50,89.60 670.00,89.60 670.50,89.60 671.00,89.60 671.50,89.60 672.00,89.60 672.50,89.60 673.00,89.60 673.50,89.60 674.00,89.60 674.50,89.60 675.00,89.60 675.50,89.60 676.00,89.60 676.50,89.60" fill="none" stroke="#777" stroke-width="0.6" stroke-linejoin="round" stroke-linecap="round" />
<polyline points="551.50,87.30 552.00,87.30 552.50,87.30 553.00,87.30 553.50,87.30 554.00,87.30 554.50,87.30 555.00,87.30 555.50,87.30 556.00,87.30 556.50,87.30 557.00,87.30 557.50,87.30 558.00,87.30 558.50,87.30 559.00,87.30 559.50,87.30 560.00,87.30 560.50,87.30 561.00,87.30 561.50,87.30 562.00,87.30 562.50,87.30 563.00,87.30 563.50,87.30 564.00,87.30 564.50,87.30 565.00,87.30 565.50,87.30 566.00,87.30 566.50,87.30 567.00,87.30 567.50,87.30 568.00,87.30 568.50,87.30 569.00,87.30 569.50,87.30 570.00,87.29 570.50,87.29 571.00,87.28 571.50,87.27 572.00,87.26 572.50,87.24 573.00,87.22 573.50,87.20 574.00,87.17 574.50,87.13 575.00,87.09 575.50,87.03 576.00,86.96 576.50,86.88 577.00,86.78 577.50,86.66 578.00,86.52 578.50,86.35 579.00,86.15 579.50,85.93 580.00,85.66 580.50,85.36 581.00,85.01 581.50,84.62 582.00,84.17 582.50,83.67 583.00,83.12 583.50,82.50 584.00,81.83 584.50,81.09 585.00,80.29 585.50,79.44 586.00,78.52 586.50,77.55 587.00,76.53 587.50,75.46 588.00,74.36 588.50,73.23 589.00,72.08 589.50,70.93 590.00,69.78 590.50,68.65 591.00,67.55 591.50,66.50 592.00,65.51 592.50,64.59 593.00,63.76 593.50,63.03 594.00,62.41 594.50,61.90 595.00,61.53 595.50,61.28 596.00,61.18 596.50,61.21 597.00,61.39 597.50,61.70 598.00,62.14 598.50,62.71 599.00,63.40 599.50,64.20 600.00,65.09 600.50,66.06 601.00,67.11 601.50,68.21 602.00,69.36 602.50,70.53 603.00,71.72 603.50,72.92 604.00,74.10 604.50,75.27 605.00,76.40 605.50,77.50 606.00,78.55 606.50,79.54 607.00,80.49 607.50,81.37 608.00,82.19 608.50,82.95 609.00,83.64 609.50,84.28 610.00,84.85 610.50,85.37 611.00,85.84 611.50,86.25 612.00,86.62 612.50,86.94 613.00,87.22 613.50,87.47 614.00,87.68 614.50,87.87 615.00,88.02 615.50,88.16 616.00,88.28 616.50,88.37 617.00,88.46 617.50,88.53 618.00,88.59 618.50,88.64 619.00,88.68 619.50,88.72 620.00,88.75 620.50,88.78 621.00,88.80 621.50,88.82 622.00,88.84 622.50,88.85 623.00,88.87 623.50,88.88 624.00,88.89 624.50,88.90 625.00,88.90 625.50,88.91 626.00,88.92 626.50,88.92 627.00,88.93 627.50,88.93 628.00,88.94 628.50,88.94 629.00,88.95 629.50,88.95 630.00,88.95 630.50,88.96 631.00,88.96 631.50,88.96 632.00,88.96 632.50,88.97 633.00,88.97 633.50,88.97 634.00,88.97 634.50,88.98 635.00,88.98 635.50,88.98 636.00,88.98 636.50,88.98 637.00,88.98 637.50,88.98 638.00,88.98 638.50,88.99 639.00,88.99 639.50,88.99 640.00,88.99 640.50,88.99 641.00,88.99 641.50,88.99 642.00,88.99 642.50,88.99 643.00,88.99 643.50,88.99 644.00,88.99 644.50,88.99 645.00,88.99 645.50,88.99 646.00,89.00 646.50,89.00 647.00,89.00 647.50,89.00 648.00,89.00 648.50,89.00 649.00,89.00 649.50,89.00 650.00,89.00 650.50,89.00 651.00,89.00 651.50,89.00 652.00,89.00 652.50,89.00 653.00,89.00 653.50,89.00 654.00,89.00 654.50,89.00 655.00,89.00 655.50,89.00 656.00,89.00 656.50,89.00 657.00,89.00 657.50,89.00 658.00,89.00 658.50,89.00 659.00,89.00 659.50,89.00 660.00,89.00 660.50,89.00 661.00,89.00 661.50,89.00 662.00,89.00 662.50,89.00 663.00,89.00 663.50,89.00 664.00,89.00 664.50,89.00 665.00,89.00 665.50,89.00 666.00,89.00 666.50,89.00 667.00,89.00 667.50,89.00 668.00,89.00 668.50,89.00 669.00,89.00 669.50,89.00 670.00,89.00 670.50,89.00 671.00,89.00 671.50,89.00 672.00,89.00 672.50,89.00 673.00,89.00 673.50,89.00 674.00,89.00 674.50,89.00 675.00,89.00 675.50,89.00 676.00,89.00 676.50,89.00" fill="none" stroke="#8400E0" stroke-width="1.8" stroke-linejoin="round" stroke-linecap="round" stroke-dasharray="0.3 2.8" style="stroke-linecap:round"/>
<polyline points="551.50,87.30 552.00,87.30 552.50,87.30 553.00,87.30 553.50,87.30 554.00,87.30 554.50,87.30 555.00,87.30 555.50,87.30 556.00,87.30 556.50,87.30 557.00,87.30 557.50,87.30 558.00,87.30 558.50,87.30 559.00,87.30 559.50,87.30 560.00,87.30 560.50,87.30 561.00,87.30 561.50,87.30 562.00,87.30 562.50,87.30 563.00,87.30 563.50,87.30 564.00,87.30 564.50,87.30 565.00,87.30 565.50,87.30 566.00,87.30 566.50,87.30 567.00,87.30 567.50,87.30 568.00,87.30 568.50,87.30 569.00,87.30 569.50,87.30 570.00,87.30 570.50,87.29 571.00,87.29 571.50,87.29 572.00,87.29 572.50,87.28 573.00,87.28 573.50,87.27 574.00,87.26 574.50,87.25 575.00,87.24 575.50,87.23 576.00,87.22 576.50,87.20 577.00,87.18 577.50,87.16 578.00,87.14 578.50,87.11 579.00,87.08 579.50,87.05 580.00,87.01 580.50,86.96 581.00,86.91 581.50,86.86 582.00,86.80 582.50,86.73 583.00,86.65 583.50,86.56 584.00,86.46 584.50,86.36 585.00,86.23 585.50,86.10 586.00,85.95 586.50,85.78 587.00,85.59 587.50,85.38 588.00,85.14 588.50,84.87 589.00,84.56 589.50,84.21 590.00,83.82 590.50,83.37 591.00,82.86 591.50,82.29 592.00,81.63 592.50,80.89 593.00,80.05 593.50,79.11 594.00,78.05 594.50,76.87 595.00,75.56 595.50,74.12 596.00,72.53 596.50,70.80 597.00,68.93 597.50,66.93 598.00,64.80 598.50,62.56 599.00,60.22 599.50,57.81 600.00,55.36 600.50,52.88 601.00,50.42 601.50,48.02 602.00,45.70 602.50,43.51 603.00,41.49 603.50,39.68 604.00,38.11 604.50,36.80 605.00,35.80 605.50,35.12 606.00,34.77 606.50,34.76 607.00,35.07 607.50,35.66 608.00,36.55 608.50,37.70 609.00,39.11 609.50,40.75 610.00,42.59 610.50,44.60 611.00,46.75 611.50,49.02 612.00,51.36 612.50,53.75 613.00,56.17 613.50,58.57 614.00,60.93 614.50,63.24 615.00,65.47 615.50,67.61 616.00,69.64 616.50,71.55 617.00,73.35 617.50,75.01 618.00,76.54 618.50,77.95 619.00,79.23 619.50,80.39 620.00,81.44 620.50,82.38 621.00,83.21 621.50,83.95 622.00,84.61 622.50,85.18 623.00,85.69 623.50,86.13 624.00,86.52 624.50,86.86 625.00,87.15 625.50,87.40 626.00,87.62 626.50,87.81 627.00,87.98 627.50,88.12 628.00,88.24 628.50,88.35 629.00,88.44 629.50,88.52 630.00,88.58 630.50,88.64 631.00,88.69 631.50,88.74 632.00,88.77 632.50,88.81 633.00,88.83 633.50,88.86 634.00,88.88 634.50,88.89 635.00,88.91 635.50,88.92 636.00,88.93 636.50,88.94 637.00,88.95 637.50,88.96 638.00,88.96 638.50,88.97 639.00,88.97 639.50,88.98 640.00,88.98 640.50,88.98 641.00,88.98 641.50,88.99 642.00,88.99 642.50,88.99 643.00,88.99 643.50,88.99 644.00,88.99 644.50,88.99 645.00,88.99 645.50,88.99 646.00,88.99 646.50,88.99 647.00,89.00 647.50,89.00 648.00,89.00 648.50,89.00 649.00,89.00 649.50,89.00 650.00,89.00 650.50,89.00 651.00,89.00 651.50,89.00 652.00,89.00 652.50,89.00 653.00,89.00 653.50,89.00 654.00,89.00 654.50,89.00 655.00,89.00 655.50,89.00 656.00,89.00 656.50,89.00 657.00,89.00 657.50,89.00 658.00,89.00 658.50,89.00 659.00,89.00 659.50,89.00 660.00,89.00 660.50,89.00 661.00,89.00 661.50,89.00 662.00,89.00 662.50,89.00 663.00,89.00 663.50,89.00 664.00,89.00 664.50,89.00 665.00,89.00 665.50,89.00 666.00,89.00 666.50,89.00 667.00,89.00 667.50,89.00 668.00,89.00 668.50,89.00 669.00,89.00 669.50,89.00 670.00,89.00 670.50,89.00 671.00,89.00 671.50,89.00 672.00,89.00 672.50,89.00 673.00,89.00 673.50,89.00 674.00,89.00 674.50,89.00 675.00,89.00 675.50,89.00 676.00,89.00 676.50,89.00" fill="none" stroke="#8400E0" stroke-width="2.8" stroke-linejoin="round" stroke-linecap="round" />
<polyline points="551.50,86.82 552.00,86.65 552.50,87.15 553.00,86.57 553.50,87.04 554.00,85.07 554.50,84.76 555.00,85.21 555.50,86.54 556.00,86.94 556.50,86.57 557.00,86.59 557.50,89.43 558.00,89.83 558.50,89.13 559.00,86.73 559.50,87.13 560.00,87.00 560.50,87.00 561.00,87.00 561.50,87.00 562.00,87.00 562.50,87.00 563.00,87.00 563.50,87.00 564.00,87.00 564.50,87.00 565.00,87.00 565.50,87.00 566.00,87.00 566.50,87.00 567.00,87.00 567.50,87.00 568.00,87.00 568.50,86.99 569.00,86.99 569.50,86.98 570.00,86.98 570.50,86.97 571.00,86.96 571.50,86.94 572.00,86.93 572.50,86.91 573.00,86.88 573.50,86.85 574.00,86.81 574.50,86.76 575.00,86.70 575.50,86.62 576.00,86.53 576.50,86.42 577.00,86.28 577.50,86.12 578.00,85.93 578.50,85.69 579.00,85.42 579.50,85.09 580.00,84.71 580.50,84.27 581.00,83.76 581.50,83.17 582.00,82.51 582.50,81.76 583.00,80.93 583.50,80.02 584.00,79.02 584.50,77.94 585.00,76.79 585.50,75.57 586.00,74.29 586.50,72.97 587.00,71.60 587.50,70.20 588.00,68.78 588.50,67.35 589.00,65.91 589.50,64.47 590.00,63.03 590.50,61.59 591.00,60.15 591.50,58.71 592.00,57.27 592.50,55.82 593.00,54.36 593.50,52.89 594.00,51.40 594.50,49.89 595.00,48.36 595.50,46.80 596.00,45.22 596.50,43.62 597.00,42.00 597.50,40.36 598.00,38.71 598.50,37.06 599.00,35.42 599.50,33.81 600.00,32.24 600.50,30.73 601.00,29.30 601.50,27.97 602.00,26.78 602.50,25.74 603.00,24.88 603.50,24.23 604.00,23.82 604.50,23.65 605.00,23.75 605.50,24.13 606.00,24.81 606.50,25.77 607.00,26.98 607.50,28.43 608.00,30.11 608.50,31.99 609.00,34.07 609.50,36.31 610.00,38.70 610.50,41.21 611.00,43.80 611.50,46.45 612.00,49.14 612.50,51.83 613.00,54.50 613.50,57.12 614.00,59.68 614.50,62.15 615.00,64.52 615.50,66.78 616.00,68.91 616.50,70.90 617.00,72.76 617.50,74.48 618.00,76.06 618.50,77.51 619.00,78.82 619.50,80.01 620.00,81.07 620.50,82.02 621.00,82.87 621.50,83.62 622.00,84.28 622.50,84.87 623.00,85.38 623.50,85.82 624.00,86.21 624.50,86.55 625.00,86.84 625.50,87.10 626.00,87.32 626.50,87.51 627.00,87.67 627.50,87.82 628.00,87.94 628.50,88.05 629.00,88.14 629.50,88.22 630.00,88.28 630.50,88.34 631.00,88.39 631.50,88.44 632.00,88.47 632.50,88.51 633.00,88.53 633.50,88.56 634.00,88.58 634.50,88.59 635.00,88.61 635.50,88.62 636.00,88.63 636.50,88.64 637.00,88.65 637.50,88.66 638.00,88.66 638.50,88.67 639.00,88.67 639.50,88.68 640.00,88.68 640.50,88.68 641.00,88.68 641.50,88.69 642.00,88.69 642.50,88.69 643.00,88.69 643.50,88.69 644.00,88.69 644.50,88.69 645.00,88.69 645.50,88.69 646.00,88.69 646.50,88.69 647.00,88.70 647.50,88.70 648.00,88.70 648.50,88.70 649.00,88.70 649.50,88.70 650.00,88.70 650.50,88.70 651.00,88.70 651.50,88.70 652.00,88.70 652.50,88.70 653.00,88.70 653.50,88.70 654.00,88.70 654.50,88.70 655.00,88.70 655.50,88.70 656.00,88.70 656.50,88.70 657.00,88.70 657.50,88.70 658.00,88.70 658.50,88.70 659.00,88.70 659.50,88.70 660.00,88.70 660.50,88.70 661.00,88.70 661.50,88.70 662.00,88.70 662.50,88.70 663.00,88.70 663.50,88.70 664.00,88.70 664.50,88.70 665.00,88.70 665.50,88.70 666.00,88.70 666.50,88.70 667.00,88.70 667.50,88.70 668.00,88.70 668.50,88.70 669.00,88.70 669.50,88.70 670.00,88.70 670.50,88.70 671.00,88.70 671.50,88.70 672.00,88.70 672.50,88.70 673.00,88.70 673.50,88.70 674.00,88.70 674.50,88.70 675.00,88.70 675.50,88.70 676.00,88.70 676.50,88.70" fill="none" stroke="#000" stroke-width="1.4" stroke-linejoin="round" stroke-linecap="round" />
<rect x="642.1" y="18.6" width="35.299999999999955" height="20.1" fill="#fff"/>
<rect x="642.6" y="20.1" width="31.299999999999955" height="17.6" fill="#D3D3D3"/>
</g>
<g clip-path="url(#c13)">
<polyline points="585.00,164.13 585.50,164.14 586.00,164.16 586.50,164.18 587.00,164.20 587.50,164.22 588.00,164.24 588.50,164.26 589.00,164.29 589.50,164.32 590.00,164.34 590.50,164.37 591.00,164.40 591.50,164.44 592.00,164.47 592.50,164.51 593.00,164.55 593.50,164.59 594.00,164.63 594.50,164.68 595.00,164.73 595.50,164.78 596.00,164.83 596.50,164.88 597.00,164.94 597.50,165.00 598.00,165.06 598.50,165.12 599.00,165.19 599.50,165.26 600.00,165.33 600.50,165.40 601.00,165.48 601.50,165.55 602.00,165.63 602.50,165.71 603.00,165.79 603.50,165.88 604.00,165.96 604.50,166.04 605.00,166.13 605.50,166.21 606.00,166.30 606.50,166.39 607.00,166.47 607.50,166.56 608.00,166.64 608.50,166.72 609.00,166.81 609.50,166.89 610.00,166.97 610.50,167.05 611.00,167.12 611.50,167.20 612.00,167.27 612.50,167.34 613.00,167.41 613.50,167.48 614.00,167.54 614.50,167.60 615.00,167.66 615.50,167.72 616.00,167.77 616.50,167.82 617.00,167.87 617.50,167.92 618.00,167.97 618.50,168.01 619.00,168.05 619.50,168.09 620.00,168.13 620.50,168.16 621.00,168.20 621.50,168.23 622.00,168.26 622.50,168.28 623.00,168.31 623.50,168.34 624.00,168.36 624.50,168.38 625.00,168.40 625.50,168.42 626.00,168.44 626.50,168.46 627.00,168.47 627.50,168.49 628.00,168.50 628.50,168.51 629.00,168.53 629.50,168.54 630.00,168.55 630.50,168.56 631.00,168.57 631.50,168.58 632.00,168.59 632.50,168.59 633.00,168.60 633.50,168.61 634.00,168.61 634.50,168.62 635.00,168.62 635.50,168.63 636.00,168.63 636.50,168.64 637.00,168.64 637.50,168.65 638.00,168.65 638.50,168.65 639.00,168.66 639.50,168.66 640.00,168.66 640.50,168.67 641.00,168.67 641.50,168.67 642.00,168.67 642.50,168.67 643.00,168.68 643.50,168.68 644.00,168.68 644.50,168.68 645.00,168.68 645.50,168.68 646.00,168.68 646.50,168.69 647.00,168.69 647.50,168.69 648.00,168.69 648.50,168.69 649.00,168.69 649.50,168.69 650.00,168.69 650.50,168.69 651.00,168.69 651.50,168.69 652.00,168.69 652.50,168.69 653.00,168.69 653.50,168.69 654.00,168.69 654.50,168.70 655.00,168.70 655.50,168.70 656.00,168.70 656.50,168.70 657.00,168.70 657.50,168.70 658.00,168.70 658.50,168.70 659.00,168.70 659.50,168.70 660.00,168.70 660.50,168.70 661.00,168.70 661.50,168.70 662.00,168.70 662.50,168.70 663.00,168.70 663.50,168.70 664.00,168.70 664.50,168.70 665.00,168.70 665.50,168.70 666.00,168.70 666.50,168.70 667.00,168.70 667.50,168.70 668.00,168.70 668.50,168.70 669.00,168.70 669.50,168.70 670.00,168.70 670.50,168.70 671.00,168.70 671.50,168.70 672.00,168.70 672.50,168.70 673.00,168.70 673.50,168.70 674.00,168.70 674.50,168.70 675.00,168.70 675.50,168.70 676.00,168.70 676.50,168.70" fill="none" stroke="#333" stroke-width="0.7" stroke-linejoin="round" stroke-linecap="round" />
<polyline points="575.00,163.86 575.50,163.86 576.00,163.87 576.50,163.87 577.00,163.87 577.50,163.88 578.00,163.89 578.50,163.89 579.00,163.90 579.50,163.90 580.00,163.91 580.50,163.92 581.00,163.92 581.50,163.92 582.00,163.93 582.50,163.93 583.00,163.93 583.50,163.92 584.00,163.90 584.50,163.88 585.00,163.85 585.50,163.80 586.00,163.73 586.50,163.64 587.00,163.53 587.50,163.37 588.00,163.18 588.50,162.93 589.00,162.63 589.50,162.27 590.00,161.83 590.50,161.31 591.00,160.70 591.50,160.00 592.00,159.21 592.50,158.32 593.00,157.34 593.50,156.27 594.00,155.13 594.50,153.92 595.00,152.67 595.50,151.39 596.00,150.12 596.50,148.88 597.00,147.70 597.50,146.61 598.00,145.63 598.50,144.81 599.00,144.15 599.50,143.69 600.00,143.44 600.50,143.40 601.00,143.55 601.50,143.86 602.00,144.31 602.50,144.90 603.00,145.61 603.50,146.45 604.00,147.39 604.50,148.41 605.00,149.50 605.50,150.64 606.00,151.81 606.50,153.00 607.00,154.19 607.50,155.37 608.00,156.51 608.50,157.62 609.00,158.68 609.50,159.68 610.00,160.61 610.50,161.49 611.00,162.29 611.50,163.02 612.00,163.68 612.50,164.28 613.00,164.81 613.50,165.28 614.00,165.70 614.50,166.06 615.00,166.38 615.50,166.66 616.00,166.89 616.50,167.10 617.00,167.28 617.50,167.43 618.00,167.56 618.50,167.67 619.00,167.76 619.50,167.85 620.00,167.92 620.50,167.98 621.00,168.03 621.50,168.08 622.00,168.12 622.50,168.16 623.00,168.19 623.50,168.22 624.00,168.25 624.50,168.27 625.00,168.30 625.50,168.32 626.00,168.34 626.50,168.35 627.00,168.37 627.50,168.39 628.00,168.40 628.50,168.41 629.00,168.43 629.50,168.44 630.00,168.45 630.50,168.46 631.00,168.47 631.50,168.48 632.00,168.49 632.50,168.49 633.00,168.50 633.50,168.51 634.00,168.51 634.50,168.52 635.00,168.52 635.50,168.53 636.00,168.53 636.50,168.54 637.00,168.54 637.50,168.55 638.00,168.55 638.50,168.55 639.00,168.56 639.50,168.56 640.00,168.56 640.50,168.57 641.00,168.57 641.50,168.57 642.00,168.57 642.50,168.57 643.00,168.58 643.50,168.58 644.00,168.58 644.50,168.58 645.00,168.58 645.50,168.58 646.00,168.58 646.50,168.59 647.00,168.59 647.50,168.59 648.00,168.59 648.50,168.59 649.00,168.59 649.50,168.59 650.00,168.59 650.50,168.59 651.00,168.59 651.50,168.59 652.00,168.59 652.50,168.59 653.00,168.59 653.50,168.59 654.00,168.59 654.50,168.60 655.00,168.60 655.50,168.60 656.00,168.60 656.50,168.60 657.00,168.60 657.50,168.60 658.00,168.60 658.50,168.60 659.00,168.60 659.50,168.60 660.00,168.60 660.50,168.60 661.00,168.60 661.50,168.60 662.00,168.60 662.50,168.60 663.00,168.60 663.50,168.60 664.00,168.60 664.50,168.60 665.00,168.60 665.50,168.60 666.00,168.60 666.50,168.60 667.00,168.60 667.50,168.60 668.00,168.60 668.50,168.60 669.00,168.60 669.50,168.60 670.00,168.60 670.50,168.60 671.00,168.60 671.50,168.60 672.00,168.60 672.50,168.60 673.00,168.60 673.50,168.60 674.00,168.60 674.50,168.60 675.00,168.60 675.50,168.60 676.00,168.60 676.50,168.60" fill="none" stroke="#8400E0" stroke-width="1.9" stroke-linejoin="round" stroke-linecap="round" stroke-dasharray="0.3 2.8" style="stroke-linecap:round"/>
<polyline points="551.50,163.00 552.20,161.00 553.30,170.50 555.00,159.50 556.80,161.00 558.50,170.50 560.50,160.00 562.00,153.50 563.80,171.00 565.60,162.30 567.00,164.00 568.00,163.50 568.00,164.02 568.50,164.02 569.00,164.02 569.50,164.03 570.00,164.03 570.50,164.03 571.00,164.03 571.50,164.03 572.00,164.04 572.50,164.04 573.00,164.04 573.50,164.05 574.00,164.05 574.50,164.05 575.00,164.06 575.50,164.06 576.00,164.07 576.50,164.07 577.00,164.08 577.50,164.08 578.00,164.09 578.50,164.09 579.00,164.10 579.50,164.11 580.00,164.11 580.50,164.12 581.00,164.13 581.50,164.14 582.00,164.15 582.50,164.16 583.00,164.17 583.50,164.19 584.00,164.20 584.50,164.21 585.00,164.23 585.50,164.24 586.00,164.26 586.50,164.28 587.00,164.30 587.50,164.32 588.00,164.34 588.50,164.36 589.00,164.38 589.50,164.40 590.00,164.43 590.50,164.45 591.00,164.47 591.50,164.49 592.00,164.50 592.50,164.51 593.00,164.51 593.50,164.49 594.00,164.47 594.50,164.42 595.00,164.34 595.50,164.23 596.00,164.08 596.50,163.87 597.00,163.60 597.50,163.25 598.00,162.81 598.50,162.27 599.00,161.61 599.50,160.81 600.00,159.86 600.50,158.74 601.00,157.45 601.50,155.97 602.00,154.31 602.50,152.46 603.00,150.42 603.50,148.22 604.00,145.87 604.50,143.40 605.00,140.84 605.50,138.23 606.00,135.63 606.50,133.07 607.00,130.63 607.50,128.34 608.00,126.28 608.50,124.49 609.00,123.02 609.50,121.90 610.00,121.19 610.50,120.88 611.00,121.00 611.50,121.54 612.00,122.49 612.50,123.83 613.00,125.52 613.50,127.52 614.00,129.78 614.50,132.25 615.00,134.87 615.50,137.58 616.00,140.33 616.50,143.07 617.00,145.75 617.50,148.33 618.00,150.78 618.50,153.08 619.00,155.20 619.50,157.13 620.00,158.87 620.50,160.42 621.00,161.79 621.50,162.97 622.00,163.99 622.50,164.86 623.00,165.59 623.50,166.20 624.00,166.70 624.50,167.11 625.00,167.45 625.50,167.71 626.00,167.93 626.50,168.10 627.00,168.23 627.50,168.34 628.00,168.42 628.50,168.48 629.00,168.53 629.50,168.57 630.00,168.60 630.50,168.63 631.00,168.65 631.50,168.66 632.00,168.68 632.50,168.69 633.00,168.70 633.50,168.70 634.00,168.71 634.50,168.72 635.00,168.72 635.50,168.73 636.00,168.73 636.50,168.74 637.00,168.74 637.50,168.75 638.00,168.75 638.50,168.75 639.00,168.76 639.50,168.76 640.00,168.76 640.50,168.77 641.00,168.77 641.50,168.77 642.00,168.77 642.50,168.77 643.00,168.78 643.50,168.78 644.00,168.78 644.50,168.78 645.00,168.78 645.50,168.78 646.00,168.78 646.50,168.79 647.00,168.79 647.50,168.79 648.00,168.79 648.50,168.79 649.00,168.79 649.50,168.79 650.00,168.79 650.50,168.79 651.00,168.79 651.50,168.79 652.00,168.79 652.50,168.79 653.00,168.79 653.50,168.79 654.00,168.79 654.50,168.80 655.00,168.80 655.50,168.80 656.00,168.80 656.50,168.80 657.00,168.80 657.50,168.80 658.00,168.80 658.50,168.80 659.00,168.80 659.50,168.80 660.00,168.80 660.50,168.80 661.00,168.80 661.50,168.80 662.00,168.80 662.50,168.80 663.00,168.80 663.50,168.80 664.00,168.80 664.50,168.80 665.00,168.80 665.50,168.80 666.00,168.80 666.50,168.80 667.00,168.80 667.50,168.80 668.00,168.80 668.50,168.80 669.00,168.80 669.50,168.80 670.00,168.80 670.50,168.80 671.00,168.80 671.50,168.80 672.00,168.80 672.50,168.80 672.60,168.20 673.80,157.60 674.60,158.00 675.30,170.50 677.00,170.50" fill="none" stroke="#8400E0" stroke-width="2.6" stroke-linejoin="round" stroke-linecap="round" />
<polyline points="551.50,163.00 552.20,161.00 553.30,170.50 555.00,159.50 556.80,161.00 558.50,170.50 560.50,160.00 562.00,153.50 563.80,171.00 565.60,162.30 567.00,164.00 568.00,163.50 568.00,163.32 568.50,163.32 569.00,163.32 569.50,163.33 570.00,163.33 570.50,163.33 571.00,163.33 571.50,163.33 572.00,163.34 572.50,163.34 573.00,163.34 573.50,163.35 574.00,163.35 574.50,163.35 575.00,163.36 575.50,163.36 576.00,163.37 576.50,163.37 577.00,163.37 577.50,163.38 578.00,163.39 578.50,163.39 579.00,163.40 579.50,163.40 580.00,163.41 580.50,163.42 581.00,163.42 581.50,163.42 582.00,163.43 582.50,163.43 583.00,163.43 583.50,163.42 584.00,163.40 584.50,163.38 585.00,163.35 585.50,163.30 586.00,163.23 586.50,163.14 587.00,163.02 587.50,162.87 588.00,162.68 588.50,162.43 589.00,162.13 589.50,161.76 590.00,161.31 590.50,160.78 591.00,160.17 591.50,159.45 592.00,158.64 592.50,157.72 593.00,156.70 593.50,155.58 594.00,154.36 594.50,153.06 595.00,151.68 595.50,150.25 596.00,148.77 596.50,147.27 597.00,145.76 597.50,144.26 598.00,142.79 598.50,141.36 599.00,139.98 599.50,138.65 600.00,137.38 600.50,136.16 601.00,134.96 601.50,133.73 602.00,132.46 602.50,131.16 603.00,129.82 603.50,128.44 604.00,127.03 604.50,125.61 605.00,124.19 605.50,122.80 606.00,121.47 606.50,120.23 607.00,119.10 607.50,118.12 608.00,117.33 608.50,116.75 609.00,116.41 609.50,116.32 610.00,116.52 610.50,117.01 611.00,117.81 611.50,118.91 612.00,120.30 612.50,121.99 613.00,123.93 613.50,126.12 614.00,128.52 614.50,131.08 615.00,133.77 615.50,136.53 616.00,139.32 616.50,142.09 617.00,144.81 617.50,147.42 618.00,149.90 618.50,152.22 619.00,154.37 619.50,156.32 620.00,158.09 620.50,159.65 621.00,161.03 621.50,162.23 622.00,163.26 622.50,164.13 623.00,164.87 623.50,165.48 624.00,165.99 624.50,166.41 625.00,166.74 625.50,167.01 626.00,167.23 626.50,167.40 627.00,167.53 627.50,167.64 628.00,167.72 628.50,167.78 629.00,167.83 629.50,167.87 630.00,167.90 630.50,167.93 631.00,167.95 631.50,167.96 632.00,167.98 632.50,167.99 633.00,168.00 633.50,168.00 634.00,168.01 634.50,168.02 635.00,168.02 635.50,168.03 636.00,168.03 636.50,168.04 637.00,168.04 637.50,168.05 638.00,168.05 638.50,168.05 639.00,168.06 639.50,168.06 640.00,168.06 640.50,168.07 641.00,168.07 641.50,168.07 642.00,168.07 642.50,168.07 643.00,168.08 643.50,168.08 644.00,168.08 644.50,168.08 645.00,168.08 645.50,168.08 646.00,168.08 646.50,168.09 647.00,168.09 647.50,168.09 648.00,168.09 648.50,168.09 649.00,168.09 649.50,168.09 650.00,168.09 650.50,168.09 651.00,168.09 651.50,168.09 652.00,168.09 652.50,168.09 653.00,168.09 653.50,168.09 654.00,168.09 654.50,168.10 655.00,168.10 655.50,168.10 656.00,168.10 656.50,168.10 657.00,168.10 657.50,168.10 658.00,168.10 658.50,168.10 659.00,168.10 659.50,168.10 660.00,168.10 660.50,168.10 661.00,168.10 661.50,168.10 662.00,168.10 662.50,168.10 663.00,168.10 663.50,168.10 664.00,168.10 664.50,168.10 665.00,168.10 665.50,168.10 666.00,168.10 666.50,168.10 667.00,168.10 667.50,168.10 668.00,168.10 668.50,168.10 669.00,168.10 669.50,168.10 670.00,168.10 670.50,168.10 671.00,168.10 671.50,168.10 672.00,168.10 672.50,168.10 672.60,168.20 673.80,157.60 674.60,158.00 675.30,170.50 677.00,170.50" fill="none" stroke="#000" stroke-width="1.4" stroke-linejoin="round" stroke-linecap="round" />
</g>
<g clip-path="url(#c23)">
<polyline points="551.50,247.20 552.00,247.21 552.50,247.22 553.00,247.23 553.50,247.24 554.00,247.25 554.50,247.26 555.00,247.27 555.50,247.28 556.00,247.29 556.50,247.30 557.00,247.31 557.50,247.32 558.00,247.33 558.50,247.34 559.00,247.35 559.50,247.36 560.00,247.37 560.50,247.38 561.00,247.39 561.50,247.40 562.00,247.41 562.50,247.42 563.00,247.43 563.50,247.44 564.00,247.45 564.50,247.46 565.00,247.47 565.50,247.48 566.00,247.49 566.50,247.50 567.00,247.51 567.50,247.52 568.00,247.53 568.50,247.54 569.00,247.55 569.50,247.56 570.00,247.57 570.50,247.58 571.00,247.59 571.50,247.60 572.00,247.61 572.50,247.62 573.00,247.63 573.50,247.64 574.00,247.65 574.50,247.66 575.00,247.67 575.50,247.68 576.00,247.69 576.50,247.70 577.00,247.71 577.50,247.72 578.00,247.73 578.50,247.74 579.00,247.75 579.50,247.76 580.00,247.77 580.50,247.78 581.00,247.79 581.50,247.80 582.00,247.81 582.50,247.82 583.00,247.83 583.50,247.84 584.00,247.85 584.50,247.86 585.00,247.87 585.50,247.88 586.00,247.89 586.50,247.90 587.00,247.91 587.50,247.92 588.00,247.93 588.50,247.94 589.00,247.95 589.50,247.96 590.00,247.97 590.50,247.98 591.00,247.99 591.50,248.00 592.00,248.01 592.50,248.02 593.00,248.03 593.50,248.04 594.00,248.05 594.50,248.06 595.00,248.07 595.50,248.08 596.00,248.09 596.50,248.10 597.00,248.11 597.50,248.12 598.00,248.13 598.50,248.14 599.00,248.15 599.50,248.16 600.00,248.17 600.50,248.18 601.00,248.19 601.50,248.20 602.00,248.21 602.50,248.22 603.00,248.23 603.50,248.24 604.00,248.25 604.50,248.26 605.00,248.27 605.50,248.28 606.00,248.29 606.50,248.30 607.00,248.31 607.50,248.32 608.00,248.33 608.50,248.34 609.00,248.35 609.50,248.36 610.00,248.37 610.50,248.38 611.00,248.39 611.50,248.40 612.00,248.41 612.50,248.42 613.00,248.43 613.50,248.44 614.00,248.45 614.50,248.46 615.00,248.47 615.50,248.48 616.00,248.49 616.50,248.50 617.00,248.51 617.50,248.52 618.00,248.53 618.50,248.54 619.00,248.55 619.50,248.56 620.00,248.57 620.50,248.58 621.00,248.59 621.50,248.60 622.00,248.61 622.50,248.62 623.00,248.63 623.50,248.64 624.00,248.65 624.50,248.66 625.00,248.67 625.50,248.68 626.00,248.69 626.50,248.70 627.00,248.71 627.50,248.72 628.00,248.73 628.50,248.74 629.00,248.75 629.50,248.76 630.00,248.77 630.50,248.78 631.00,248.79 631.50,248.80 632.00,248.81 632.50,248.82 633.00,248.83 633.50,248.84 634.00,248.85 634.50,248.86 635.00,248.87 635.50,248.88 636.00,248.89 636.50,248.90 637.00,248.91 637.50,248.92 638.00,248.93 638.50,248.94 639.00,248.95 639.50,248.96 640.00,248.97 640.50,248.98 641.00,248.99 641.50,249.00 642.00,249.01 642.50,249.02 643.00,249.03 643.50,249.04 644.00,249.05 644.50,249.06 645.00,249.07 645.50,249.08 646.00,249.09 646.50,249.10 647.00,249.11 647.50,249.12 648.00,249.13 648.50,249.14 649.00,249.15 649.50,249.16 650.00,249.17 650.50,249.18 651.00,249.19 651.50,249.20 652.00,249.21 652.50,249.22 653.00,249.23 653.50,249.24 654.00,249.25 654.50,249.26 655.00,249.27 655.50,249.28 656.00,249.29 656.50,249.30 657.00,249.31 657.50,249.32 658.00,249.33 658.50,249.34 659.00,249.35 659.50,249.36 660.00,249.37 660.50,249.38 661.00,249.39 661.50,249.40 662.00,249.41 662.50,249.42 663.00,249.43 663.50,249.44 664.00,249.45 664.50,249.46 665.00,249.47 665.50,249.48 666.00,249.49 666.50,249.50 667.00,249.51 667.50,249.52 668.00,249.53 668.50,249.54 669.00,249.55 669.50,249.56 670.00,249.57 670.50,249.58 671.00,249.59 671.50,249.60 672.00,249.61 672.50,249.62 673.00,249.63 673.50,249.64 674.00,249.65 674.50,249.66 675.00,249.67 675.50,249.68 676.00,249.69 676.50,249.70" fill="none" stroke="#D95319" stroke-width="1.2" stroke-linejoin="round" stroke-linecap="round" stroke-dasharray="0.3 2.8" style="stroke-linecap:round"/>
<polyline points="551.50,246.18 552.00,246.14 552.50,246.10 553.00,246.05 553.50,245.99 554.00,245.91 554.50,245.83 555.00,245.74 555.50,245.63 556.00,245.50 556.50,245.36 557.00,245.21 557.50,245.04 558.00,244.85 558.50,244.65 559.00,244.43 559.50,244.19 560.00,243.94 560.50,243.67 561.00,243.40 561.50,243.11 562.00,242.81 562.50,242.51 563.00,242.20 563.50,241.90 564.00,241.59 564.50,241.30 565.00,241.01 565.50,240.74 566.00,240.49 566.50,240.26 567.00,240.05 567.50,239.87 568.00,239.72 568.50,239.61 569.00,239.52 569.50,239.48 570.00,239.47 570.50,239.50 571.00,239.56 571.50,239.67 572.00,239.80 572.50,239.97 573.00,240.17 573.50,240.40 574.00,240.65 574.50,240.92 575.00,241.21 575.50,241.52 576.00,241.83 576.50,242.16 577.00,242.48 577.50,242.81 578.00,243.13 578.50,243.45 579.00,243.76 579.50,244.05 580.00,244.34 580.50,244.61 581.00,244.87 581.50,245.11 582.00,245.33 582.50,245.54 583.00,245.73 583.50,245.90 584.00,246.06 584.50,246.21 585.00,246.34 585.50,246.45 586.00,246.55 586.50,246.65 587.00,246.73 587.50,246.80 588.00,246.86 588.50,246.92 589.00,246.97 589.50,247.01 590.00,247.05 590.50,247.08 591.00,247.11 591.50,247.13 592.00,247.16 592.50,247.18 593.00,247.20 593.50,247.21 594.00,247.23 594.50,247.24 595.00,247.26 595.50,247.27 596.00,247.28 596.50,247.29 597.00,247.31 597.50,247.32 598.00,247.33 598.50,247.34 599.00,247.35 599.50,247.36 600.00,247.37 600.50,247.38 601.00,247.39 601.50,247.40 602.00,247.41 602.50,247.42 603.00,247.43 603.50,247.44 604.00,247.45 604.50,247.46 605.00,247.47 605.50,247.48 606.00,247.49 606.50,247.50 607.00,247.51 607.50,247.52 608.00,247.53 608.50,247.54 609.00,247.55 609.50,247.56 610.00,247.57 610.50,247.58 611.00,247.59 611.50,247.60 612.00,247.61 612.50,247.62 613.00,247.63 613.50,247.64 614.00,247.65 614.50,247.66 615.00,247.67 615.50,247.68 616.00,247.69 616.50,247.70 617.00,247.71 617.50,247.72 618.00,247.73 618.50,247.74 619.00,247.75 619.50,247.76 620.00,247.77 620.50,247.78 621.00,247.79 621.50,247.80 622.00,247.81 622.50,247.82 623.00,247.83 623.50,247.84 624.00,247.85 624.50,247.86 625.00,247.87 625.50,247.88 626.00,247.89 626.50,247.90 627.00,247.91 627.50,247.92 628.00,247.93 628.50,247.94 629.00,247.95 629.50,247.96 630.00,247.97 630.50,247.98 631.00,247.99 631.50,248.00 632.00,248.01 632.50,248.02 633.00,248.03 633.50,248.04 634.00,248.05 634.50,248.06 635.00,248.07 635.50,248.08 636.00,248.09 636.50,248.10 637.00,248.11 637.50,248.12 638.00,248.13 638.50,248.14 639.00,248.15 639.50,248.16 640.00,248.17 640.50,248.18 641.00,248.19 641.50,248.20 642.00,248.21 642.50,248.22 643.00,248.23 643.50,248.24 644.00,248.25 644.50,248.26 645.00,248.27 645.50,248.28 646.00,248.29 646.50,248.30 647.00,248.31 647.50,248.32 648.00,248.33 648.50,248.34 649.00,248.35 649.50,248.36 650.00,248.37 650.50,248.38 651.00,248.39 651.50,248.40 652.00,248.41 652.50,248.42 653.00,248.43 653.50,248.44 654.00,248.45 654.50,248.46 655.00,248.47 655.50,248.48 656.00,248.49 656.50,248.50 657.00,248.51 657.50,248.52 658.00,248.53 658.50,248.54 659.00,248.55 659.50,248.56 660.00,248.57 660.50,248.58 661.00,248.59 661.50,248.60 662.00,248.61 662.50,248.62 663.00,248.63 663.50,248.64 664.00,248.65 664.50,248.66 665.00,248.67 665.50,248.68 666.00,248.69 666.50,248.70 667.00,248.71 667.50,248.72 668.00,248.73 668.50,248.74 669.00,248.75 669.50,248.76 670.00,248.77 670.50,248.78 671.00,248.79 671.50,248.80 672.00,248.81 672.50,248.82 673.00,248.83 673.50,248.84 674.00,248.85 674.50,248.86 675.00,248.87 675.50,248.88 676.00,248.89 676.50,248.90" fill="none" stroke="#DF5A0E" stroke-width="1.8" stroke-linejoin="round" stroke-linecap="round" stroke-dasharray="0.3 2.8" style="stroke-linecap:round"/>
<polyline points="551.50,246.30 552.00,246.31 552.50,246.32 553.00,246.33 553.50,246.34 554.00,246.35 554.50,246.36 555.00,246.37 555.50,246.38 556.00,246.39 556.50,246.40 557.00,246.41 557.50,246.42 558.00,246.43 558.50,246.44 559.00,246.45 559.50,246.46 560.00,246.47 560.50,246.48 561.00,246.49 561.50,246.50 562.00,246.51 562.50,246.52 563.00,246.53 563.50,246.54 564.00,246.55 564.50,246.56 565.00,246.57 565.50,246.58 566.00,246.59 566.50,246.60 567.00,246.61 567.50,246.62 568.00,246.63 568.50,246.64 569.00,246.65 569.50,246.66 570.00,246.67 570.50,246.68 571.00,246.69 571.50,246.70 572.00,246.71 572.50,246.72 573.00,246.73 573.50,246.74 574.00,246.75 574.50,246.76 575.00,246.77 575.50,246.78 576.00,246.79 576.50,246.80 577.00,246.81 577.50,246.82 578.00,246.83 578.50,246.84 579.00,246.85 579.50,246.86 580.00,246.87 580.50,246.88 581.00,246.89 581.50,246.90 582.00,246.91 582.50,246.92 583.00,246.93 583.50,246.94 584.00,246.95 584.50,246.96 585.00,246.97 585.50,246.98 586.00,246.99 586.50,247.00 587.00,247.01 587.50,247.02 588.00,247.03 588.50,247.04 589.00,247.05 589.50,247.06 590.00,247.07 590.50,247.08 591.00,247.09 591.50,247.10 592.00,247.11 592.50,247.12 593.00,247.13 593.50,247.14 594.00,247.15 594.50,247.16 595.00,247.17 595.50,247.18 596.00,247.19 596.50,247.20 597.00,247.21 597.50,247.22 598.00,247.23 598.50,247.24 599.00,247.25 599.50,247.26 600.00,247.27 600.50,247.28 601.00,247.29 601.50,247.30 602.00,247.31 602.50,247.32 603.00,247.33 603.50,247.34 604.00,247.35 604.50,247.36 605.00,247.37 605.50,247.38 606.00,247.38 606.50,247.39 607.00,247.40 607.50,247.41 608.00,247.41 608.50,247.42 609.00,247.42 609.50,247.42 610.00,247.42 610.50,247.42 611.00,247.41 611.50,247.40 612.00,247.38 612.50,247.36 613.00,247.33 613.50,247.30 614.00,247.25 614.50,247.20 615.00,247.14 615.50,247.07 616.00,246.98 616.50,246.88 617.00,246.77 617.50,246.65 618.00,246.51 618.50,246.36 619.00,246.19 619.50,246.01 620.00,245.82 620.50,245.62 621.00,245.41 621.50,245.20 622.00,244.98 622.50,244.76 623.00,244.55 623.50,244.34 624.00,244.15 624.50,243.96 625.00,243.80 625.50,243.65 626.00,243.53 626.50,243.44 627.00,243.37 627.50,243.34 628.00,243.33 628.50,243.36 629.00,243.41 629.50,243.50 630.00,243.61 630.50,243.75 631.00,243.92 631.50,244.10 632.00,244.31 632.50,244.52 633.00,244.75 633.50,244.98 634.00,245.22 634.50,245.46 635.00,245.69 635.50,245.92 636.00,246.14 636.50,246.35 637.00,246.55 637.50,246.74 638.00,246.91 638.50,247.07 639.00,247.21 639.50,247.34 640.00,247.46 640.50,247.57 641.00,247.66 641.50,247.74 642.00,247.81 642.50,247.88 643.00,247.93 643.50,247.98 644.00,248.02 644.50,248.06 645.00,248.09 645.50,248.12 646.00,248.14 646.50,248.16 647.00,248.18 647.50,248.20 648.00,248.21 648.50,248.23 649.00,248.24 649.50,248.25 650.00,248.26 650.50,248.28 651.00,248.29 651.50,248.30 652.00,248.31 652.50,248.32 653.00,248.33 653.50,248.34 654.00,248.35 654.50,248.36 655.00,248.37 655.50,248.38 656.00,248.39 656.50,248.40 657.00,248.41 657.50,248.42 658.00,248.43 658.50,248.44 659.00,248.45 659.50,248.46 660.00,248.47 660.50,248.48 661.00,248.49 661.50,248.50 662.00,248.51 662.50,248.52 663.00,248.53 663.50,248.54 664.00,248.55 664.50,248.56 665.00,248.57 665.50,248.58 666.00,248.59 666.50,248.60 667.00,248.61 667.50,248.62 668.00,248.63 668.50,248.64 669.00,248.65 669.50,248.66 670.00,248.67 670.50,248.68 671.00,248.69 671.50,248.70 672.00,248.71 672.50,248.72 673.00,248.73 673.50,248.74 674.00,248.75 674.50,248.76 675.00,248.77 675.50,248.78 676.00,248.79 676.50,248.80" fill="none" stroke="#EDB120" stroke-width="1.8" stroke-linejoin="round" stroke-linecap="round" stroke-dasharray="0.3 2.8" style="stroke-linecap:round"/>
<polyline points="551.50,246.30 552.00,246.31 552.50,246.32 553.00,246.33 553.50,246.34 554.00,246.35 554.50,246.36 555.00,246.37 555.50,246.38 556.00,246.39 556.50,246.40 557.00,246.41 557.50,246.42 558.00,246.43 558.50,246.44 559.00,246.45 559.50,246.46 560.00,246.47 560.50,246.48 561.00,246.49 561.50,246.50 562.00,246.51 562.50,246.51 563.00,246.52 563.50,246.53 564.00,246.54 564.50,246.54 565.00,246.55 565.50,246.55 566.00,246.55 566.50,246.54 567.00,246.54 567.50,246.53 568.00,246.51 568.50,246.49 569.00,246.46 569.50,246.42 570.00,246.37 570.50,246.31 571.00,246.23 571.50,246.13 572.00,246.02 572.50,245.88 573.00,245.71 573.50,245.52 574.00,245.29 574.50,245.02 575.00,244.71 575.50,244.36 576.00,243.97 576.50,243.52 577.00,243.02 577.50,242.47 578.00,241.87 578.50,241.20 579.00,240.49 579.50,239.72 580.00,238.90 580.50,238.04 581.00,237.14 581.50,236.21 582.00,235.25 582.50,234.27 583.00,233.30 583.50,232.33 584.00,231.38 584.50,230.46 585.00,229.58 585.50,228.76 586.00,228.02 586.50,227.35 587.00,226.78 587.50,226.30 588.00,225.94 588.50,225.70 589.00,225.57 589.50,225.57 590.00,225.65 590.50,225.82 591.00,226.07 591.50,226.40 592.00,226.80 592.50,227.27 593.00,227.81 593.50,228.41 594.00,229.06 594.50,229.75 595.00,230.49 595.50,231.26 596.00,232.05 596.50,232.86 597.00,233.68 597.50,234.51 598.00,235.33 598.50,236.14 599.00,236.94 599.50,237.72 600.00,238.48 600.50,239.21 601.00,239.91 601.50,240.58 602.00,241.21 602.50,241.81 603.00,242.37 603.50,242.89 604.00,243.38 604.50,243.82 605.00,244.24 605.50,244.61 606.00,244.96 606.50,245.27 607.00,245.55 607.50,245.80 608.00,246.03 608.50,246.23 609.00,246.41 609.50,246.57 610.00,246.71 610.50,246.84 611.00,246.95 611.50,247.04 612.00,247.13 612.50,247.20 613.00,247.26 613.50,247.32 614.00,247.37 614.50,247.41 615.00,247.45 615.50,247.48 616.00,247.51 616.50,247.53 617.00,247.56 617.50,247.58 618.00,247.60 618.50,247.61 619.00,247.63 619.50,247.64 620.00,247.66 620.50,247.67 621.00,247.68 621.50,247.69 622.00,247.70 622.50,247.72 623.00,247.73 623.50,247.74 624.00,247.75 624.50,247.76 625.00,247.77 625.50,247.78 626.00,247.79 626.50,247.80 627.00,247.81 627.50,247.82 628.00,247.83 628.50,247.84 629.00,247.85 629.50,247.86 630.00,247.87 630.50,247.88 631.00,247.89 631.50,247.90 632.00,247.91 632.50,247.92 633.00,247.93 633.50,247.94 634.00,247.95 634.50,247.96 635.00,247.97 635.50,247.98 636.00,247.99 636.50,248.00 637.00,248.01 637.50,248.02 638.00,248.03 638.50,248.04 639.00,248.05 639.50,248.06 640.00,248.07 640.50,248.08 641.00,248.09 641.50,248.10 642.00,248.11 642.50,248.12 643.00,248.13 643.50,248.14 644.00,248.15 644.50,248.16 645.00,248.17 645.50,248.18 646.00,248.19 646.50,248.20 647.00,248.21 647.50,248.22 648.00,248.23 648.50,248.24 649.00,248.25 649.50,248.26 650.00,248.27 650.50,248.28 651.00,248.29 651.50,248.30 652.00,248.31 652.50,248.32 653.00,248.33 653.50,248.34 654.00,248.35 654.50,248.36 655.00,248.37 655.50,248.38 656.00,248.39 656.50,248.40 657.00,248.41 657.50,248.42 658.00,248.43 658.50,248.44 659.00,248.45 659.50,248.46 660.00,248.47 660.50,248.48 661.00,248.49 661.50,248.50 662.00,248.51 662.50,248.52 663.00,248.53 663.50,248.54 664.00,248.55 664.50,248.56 665.00,248.57 665.50,248.58 666.00,248.59 666.50,248.60 667.00,248.61 667.50,248.62 668.00,248.63 668.50,248.64 669.00,248.65 669.50,248.66 670.00,248.67 670.50,248.68 671.00,248.69 671.50,248.70 672.00,248.71 672.50,248.72 673.00,248.73 673.50,248.74 674.00,248.75 674.50,248.76 675.00,248.77 675.50,248.78 676.00,248.79 676.50,248.80" fill="none" stroke="#8400E0" stroke-width="1.9" stroke-linejoin="round" stroke-linecap="round" stroke-dasharray="0.3 2.8" style="stroke-linecap:round"/>
<polyline points="551.50,246.18 552.00,246.17 552.50,246.15 553.00,246.14 553.50,246.11 554.00,246.09 554.50,246.05 555.00,246.02 555.50,245.97 556.00,245.92 556.50,245.86 557.00,245.79 557.50,245.72 558.00,245.63 558.50,245.53 559.00,245.43 559.50,245.31 560.00,245.17 560.50,245.02 561.00,244.86 561.50,244.68 562.00,244.49 562.50,244.28 563.00,244.06 563.50,243.81 564.00,243.55 564.50,243.27 565.00,242.97 565.50,242.66 566.00,242.33 566.50,241.98 567.00,241.62 567.50,241.24 568.00,240.85 568.50,240.44 569.00,240.03 569.50,239.60 570.00,239.17 570.50,238.73 571.00,238.29 571.50,237.85 572.00,237.41 572.50,236.97 573.00,236.55 573.50,236.13 574.00,235.73 574.50,235.34 575.00,234.97 575.50,234.63 576.00,234.31 576.50,234.01 577.00,233.75 577.50,233.52 578.00,233.32 578.50,233.15 579.00,233.03 579.50,232.94 580.00,232.89 580.50,232.88 581.00,232.91 581.50,232.98 582.00,233.09 582.50,233.23 583.00,233.42 583.50,233.64 584.00,233.89 584.50,234.17 585.00,234.49 585.50,234.83 586.00,235.19 586.50,235.58 587.00,235.99 587.50,236.41 588.00,236.85 588.50,237.29 589.00,237.75 589.50,238.21 590.00,238.67 590.50,239.13 591.00,239.59 591.50,240.04 592.00,240.49 592.50,240.92 593.00,241.35 593.50,241.76 594.00,242.16 594.50,242.54 595.00,242.91 595.50,243.26 596.00,243.59 596.50,243.91 597.00,244.21 597.50,244.49 598.00,244.76 598.50,245.00 599.00,245.23 599.50,245.44 600.00,245.64 600.50,245.82 601.00,245.99 601.50,246.15 602.00,246.29 602.50,246.41 603.00,246.53 603.50,246.64 604.00,246.73 604.50,246.82 605.00,246.90 605.50,246.97 606.00,247.04 606.50,247.09 607.00,247.15 607.50,247.19 608.00,247.24 608.50,247.27 609.00,247.31 609.50,247.34 610.00,247.37 610.50,247.39 611.00,247.42 611.50,247.44 612.00,247.46 612.50,247.48 613.00,247.49 613.50,247.51 614.00,247.53 614.50,247.54 615.00,247.55 615.50,247.57 616.00,247.58 616.50,247.59 617.00,247.60 617.50,247.61 618.00,247.63 618.50,247.64 619.00,247.65 619.50,247.66 620.00,247.67 620.50,247.68 621.00,247.69 621.50,247.70 622.00,247.71 622.50,247.72 623.00,247.73 623.50,247.74 624.00,247.75 624.50,247.76 625.00,247.77 625.50,247.78 626.00,247.79 626.50,247.80 627.00,247.81 627.50,247.82 628.00,247.83 628.50,247.84 629.00,247.85 629.50,247.86 630.00,247.87 630.50,247.88 631.00,247.89 631.50,247.90 632.00,247.91 632.50,247.92 633.00,247.93 633.50,247.94 634.00,247.95 634.50,247.96 635.00,247.97 635.50,247.98 636.00,247.99 636.50,248.00 637.00,248.01 637.50,248.02 638.00,248.03 638.50,248.04 639.00,248.05 639.50,248.06 640.00,248.07 640.50,248.08 641.00,248.09 641.50,248.10 642.00,248.11 642.50,248.12 643.00,248.13 643.50,248.14 644.00,248.15 644.50,248.16 645.00,248.17 645.50,248.18 646.00,248.19 646.50,248.20 647.00,248.21 647.50,248.22 648.00,248.23 648.50,248.24 649.00,248.25 649.50,248.26 650.00,248.27 650.50,248.28 651.00,248.29 651.50,248.30 652.00,248.31 652.50,248.32 653.00,248.33 653.50,248.34 654.00,248.35 654.50,248.36 655.00,248.37 655.50,248.38 656.00,248.39 656.50,248.40 657.00,248.41 657.50,248.42 658.00,248.43 658.50,248.44 659.00,248.45 659.50,248.46 660.00,248.47 660.50,248.48 661.00,248.49 661.50,248.50 662.00,248.51 662.50,248.52 663.00,248.53 663.50,248.54 664.00,248.55 664.50,248.56 665.00,248.57 665.50,248.58 666.00,248.59 666.50,248.60 667.00,248.61 667.50,248.62 668.00,248.63 668.50,248.64 669.00,248.65 669.50,248.66 670.00,248.67 670.50,248.68 671.00,248.69 671.50,248.70 672.00,248.71 672.50,248.72 673.00,248.73 673.50,248.74 674.00,248.75 674.50,248.76 675.00,248.77 675.50,248.78 676.00,248.79 676.50,248.80" fill="none" stroke="#DF5A0E" stroke-width="2.4" stroke-linejoin="round" stroke-linecap="round" />
<polyline points="551.50,246.30 552.00,246.31 552.50,246.32 553.00,246.33 553.50,246.34 554.00,246.35 554.50,246.36 555.00,246.37 555.50,246.38 556.00,246.39 556.50,246.40 557.00,246.41 557.50,246.42 558.00,246.43 558.50,246.44 559.00,246.45 559.50,246.46 560.00,246.47 560.50,246.48 561.00,246.49 561.50,246.50 562.00,246.50 562.50,246.51 563.00,246.52 563.50,246.53 564.00,246.54 564.50,246.54 565.00,246.55 565.50,246.56 566.00,246.56 566.50,246.56 567.00,246.56 567.50,246.56 568.00,246.56 568.50,246.56 569.00,246.55 569.50,246.54 570.00,246.52 570.50,246.50 571.00,246.48 571.50,246.44 572.00,246.41 572.50,246.36 573.00,246.30 573.50,246.24 574.00,246.16 574.50,246.06 575.00,245.96 575.50,245.83 576.00,245.69 576.50,245.53 577.00,245.34 577.50,245.13 578.00,244.89 578.50,244.62 579.00,244.32 579.50,243.98 580.00,243.61 580.50,243.20 581.00,242.74 581.50,242.24 582.00,241.70 582.50,241.11 583.00,240.46 583.50,239.77 584.00,239.02 584.50,238.22 585.00,237.37 585.50,236.46 586.00,235.51 586.50,234.50 587.00,233.45 587.50,232.34 588.00,231.20 588.50,230.02 589.00,228.81 589.50,227.57 590.00,226.30 590.50,225.02 591.00,223.74 591.50,222.45 592.00,221.17 592.50,219.91 593.00,218.68 593.50,217.48 594.00,216.32 594.50,215.22 595.00,214.18 595.50,213.20 596.00,212.31 596.50,211.50 597.00,210.79 597.50,210.18 598.00,209.67 598.50,209.27 599.00,208.99 599.50,208.82 600.00,208.77 600.50,208.85 601.00,209.06 601.50,209.39 602.00,209.86 602.50,210.45 603.00,211.15 603.50,211.97 604.00,212.89 604.50,213.89 605.00,214.99 605.50,216.15 606.00,217.38 606.50,218.66 607.00,219.98 607.50,221.33 608.00,222.71 608.50,224.09 609.00,225.47 609.50,226.84 610.00,228.20 610.50,229.53 611.00,230.83 611.50,232.08 612.00,233.30 612.50,234.46 613.00,235.58 613.50,236.63 614.00,237.63 614.50,238.57 615.00,239.46 615.50,240.28 616.00,241.04 616.50,241.75 617.00,242.40 617.50,243.00 618.00,243.54 618.50,244.04 619.00,244.48 619.50,244.89 620.00,245.25 620.50,245.58 621.00,245.87 621.50,246.13 622.00,246.36 622.50,246.56 623.00,246.74 623.50,246.90 624.00,247.04 624.50,247.16 625.00,247.26 625.50,247.35 626.00,247.43 626.50,247.50 627.00,247.56 627.50,247.61 628.00,247.66 628.50,247.70 629.00,247.74 629.50,247.77 630.00,247.79 630.50,247.82 631.00,247.84 631.50,247.86 632.00,247.88 632.50,247.89 633.00,247.91 633.50,247.92 634.00,247.94 634.50,247.95 635.00,247.96 635.50,247.97 636.00,247.99 636.50,248.00 637.00,248.01 637.50,248.02 638.00,248.03 638.50,248.04 639.00,248.05 639.50,248.06 640.00,248.07 640.50,248.08 641.00,248.09 641.50,248.10 642.00,248.11 642.50,248.12 643.00,248.13 643.50,248.14 644.00,248.15 644.50,248.16 645.00,248.17 645.50,248.18 646.00,248.19 646.50,248.20 647.00,248.21 647.50,248.22 648.00,248.23 648.50,248.24 649.00,248.25 649.50,248.26 650.00,248.27 650.50,248.28 651.00,248.29 651.50,248.30 652.00,248.31 652.50,248.32 653.00,248.33 653.50,248.34 654.00,248.35 654.50,248.36 655.00,248.37 655.50,248.38 656.00,248.39 656.50,248.40 657.00,248.41 657.50,248.42 658.00,248.43 658.50,248.44 659.00,248.45 659.50,248.46 660.00,248.47 660.50,248.48 661.00,248.49 661.50,248.50 662.00,248.51 662.50,248.52 663.00,248.53 663.50,248.54 664.00,248.55 664.50,248.56 665.00,248.57 665.50,248.58 666.00,248.59 666.50,248.60 667.00,248.61 667.50,248.62 668.00,248.63 668.50,248.64 669.00,248.65 669.50,248.66 670.00,248.67 670.50,248.68 671.00,248.69 671.50,248.70 672.00,248.71 672.50,248.72 673.00,248.73 673.50,248.74 674.00,248.75 674.50,248.76 675.00,248.77 675.50,248.78 676.00,248.79 676.50,248.80" fill="none" stroke="#8400E0" stroke-width="2.6" stroke-linejoin="round" stroke-linecap="round" />
<polyline points="551.50,246.20 552.00,246.21 552.50,246.22 553.00,246.23 553.50,246.24 554.00,246.25 554.50,246.26 555.00,246.27 555.50,246.28 556.00,246.29 556.50,246.30 557.00,246.31 557.50,246.32 558.00,246.33 558.50,246.34 559.00,246.35 559.50,246.36 560.00,246.37 560.50,246.38 561.00,246.39 561.50,246.40 562.00,246.41 562.50,246.42 563.00,246.43 563.50,246.44 564.00,246.45 564.50,246.46 565.00,246.47 565.50,246.48 566.00,246.49 566.50,246.50 567.00,246.51 567.50,246.52 568.00,246.53 568.50,246.54 569.00,246.55 569.50,246.56 570.00,246.57 570.50,246.58 571.00,246.59 571.50,246.60 572.00,246.61 572.50,246.62 573.00,246.63 573.50,246.64 574.00,246.65 574.50,246.66 575.00,246.67 575.50,246.68 576.00,246.69 576.50,246.70 577.00,246.71 577.50,246.72 578.00,246.73 578.50,246.74 579.00,246.75 579.50,246.76 580.00,246.77 580.50,246.78 581.00,246.79 581.50,246.80 582.00,246.81 582.50,246.82 583.00,246.83 583.50,246.84 584.00,246.85 584.50,246.86 585.00,246.87 585.50,246.88 586.00,246.89 586.50,246.90 587.00,246.91 587.50,246.92 588.00,246.93 588.50,246.94 589.00,246.95 589.50,246.96 590.00,246.97 590.50,246.98 591.00,246.99 591.50,247.00 592.00,247.01 592.50,247.02 593.00,247.03 593.50,247.04 594.00,247.05 594.50,247.06 595.00,247.07 595.50,247.08 596.00,247.09 596.50,247.10 597.00,247.11 597.50,247.12 598.00,247.13 598.50,247.14 599.00,247.15 599.50,247.16 600.00,247.17 600.50,247.18 601.00,247.19 601.50,247.20 602.00,247.21 602.50,247.22 603.00,247.23 603.50,247.24 604.00,247.25 604.50,247.26 605.00,247.27 605.50,247.28 606.00,247.29 606.50,247.30 607.00,247.31 607.50,247.32 608.00,247.33 608.50,247.34 609.00,247.35 609.50,247.36 610.00,247.37 610.50,247.38 611.00,247.39 611.50,247.40 612.00,247.41 612.50,247.42 613.00,247.43 613.50,247.44 614.00,247.45 614.50,247.46 615.00,247.46 615.50,247.47 616.00,247.48 616.50,247.49 617.00,247.49 617.50,247.50 618.00,247.50 618.50,247.51 619.00,247.51 619.50,247.51 620.00,247.50 620.50,247.50 621.00,247.49 621.50,247.47 622.00,247.46 622.50,247.43 623.00,247.41 623.50,247.37 624.00,247.33 624.50,247.27 625.00,247.21 625.50,247.14 626.00,247.05 626.50,246.96 627.00,246.84 627.50,246.72 628.00,246.57 628.50,246.41 629.00,246.23 629.50,246.04 630.00,245.82 630.50,245.59 631.00,245.33 631.50,245.06 632.00,244.77 632.50,244.47 633.00,244.14 633.50,243.81 634.00,243.47 634.50,243.11 635.00,242.75 635.50,242.39 636.00,242.04 636.50,241.68 637.00,241.34 637.50,241.01 638.00,240.69 638.50,240.40 639.00,240.13 639.50,239.89 640.00,239.68 640.50,239.51 641.00,239.38 641.50,239.28 642.00,239.23 642.50,239.22 643.00,239.25 643.50,239.32 644.00,239.44 644.50,239.59 645.00,239.78 645.50,240.01 646.00,240.27 646.50,240.56 647.00,240.87 647.50,241.21 648.00,241.56 648.50,241.92 649.00,242.30 649.50,242.67 650.00,243.05 650.50,243.43 651.00,243.81 651.50,244.17 652.00,244.52 652.50,244.87 653.00,245.19 653.50,245.50 654.00,245.79 654.50,246.07 655.00,246.32 655.50,246.56 656.00,246.77 656.50,246.97 657.00,247.15 657.50,247.32 658.00,247.46 658.50,247.60 659.00,247.71 659.50,247.82 660.00,247.91 660.50,247.99 661.00,248.07 661.50,248.13 662.00,248.19 662.50,248.23 663.00,248.28 663.50,248.31 664.00,248.35 664.50,248.38 665.00,248.40 665.50,248.43 666.00,248.45 666.50,248.47 667.00,248.48 667.50,248.50 668.00,248.51 668.50,248.53 669.00,248.54 669.50,248.55 670.00,248.56 670.50,248.58 671.00,248.59 671.50,248.60 672.00,248.61 672.50,248.62 673.00,248.63 673.50,248.64 674.00,248.65 674.50,248.66 675.00,248.67 675.50,248.68 676.00,248.69 676.50,248.70" fill="none" stroke="#EDB120" stroke-width="2.4" stroke-linejoin="round" stroke-linecap="round" />
<polyline points="551.50,246.20 552.00,246.21 552.50,246.22 553.00,246.23 553.50,246.24 554.00,246.25 554.50,246.26 555.00,246.27 555.50,246.28 556.00,246.29 556.50,246.30 557.00,246.31 557.50,246.32 558.00,246.33 558.50,246.34 559.00,246.35 559.50,246.36 560.00,246.37 560.50,246.38 561.00,246.39 561.50,246.40 562.00,246.41 562.50,246.42 563.00,246.43 563.50,246.44 564.00,246.45 564.50,246.46 565.00,246.47 565.50,246.48 566.00,246.49 566.50,246.50 567.00,246.51 567.50,246.52 568.00,246.53 568.50,246.54 569.00,246.55 569.50,246.56 570.00,246.57 570.50,246.58 571.00,246.59 571.50,246.60 572.00,246.61 572.50,246.62 573.00,246.63 573.50,246.64 574.00,246.65 574.50,246.66 575.00,246.67 575.50,246.68 576.00,246.69 576.50,246.70 577.00,246.71 577.50,246.72 578.00,246.73 578.50,246.74 579.00,246.75 579.50,246.76 580.00,246.77 580.50,246.78 581.00,246.79 581.50,246.80 582.00,246.81 582.50,246.82 583.00,246.83 583.50,246.84 584.00,246.85 584.50,246.86 585.00,246.87 585.50,246.88 586.00,246.89 586.50,246.90 587.00,246.91 587.50,246.92 588.00,246.93 588.50,246.94 589.00,246.95 589.50,246.96 590.00,246.97 590.50,246.98 591.00,246.99 591.50,247.00 592.00,247.01 592.50,247.02 593.00,247.03 593.50,247.04 594.00,247.05 594.50,247.06 595.00,247.07 595.50,247.08 596.00,247.09 596.50,247.10 597.00,247.11 597.50,247.12 598.00,247.13 598.50,247.14 599.00,247.15 599.50,247.16 600.00,247.17 600.50,247.18 601.00,247.19 601.50,247.20 602.00,247.21 602.50,247.22 603.00,247.23 603.50,247.24 604.00,247.25 604.50,247.26 605.00,247.27 605.50,247.28 606.00,247.29 606.50,247.30 607.00,247.31 607.50,247.32 608.00,247.33 608.50,247.34 609.00,247.35 609.50,247.36 610.00,247.37 610.50,247.38 611.00,247.39 611.50,247.40 612.00,247.41 612.50,247.42 613.00,247.43 613.50,247.44 614.00,247.45 614.50,247.46 615.00,247.47 615.50,247.48 616.00,247.49 616.50,247.50 617.00,247.51 617.50,247.52 618.00,247.53 618.50,247.54 619.00,247.55 619.50,247.56 620.00,247.57 620.50,247.58 621.00,247.59 621.50,247.60 622.00,247.61 622.50,247.62 623.00,247.63 623.50,247.64 624.00,247.65 624.50,247.66 625.00,247.67 625.50,247.68 626.00,247.69 626.50,247.70 627.00,247.71 627.50,247.72 628.00,247.73 628.50,247.74 629.00,247.75 629.50,247.76 630.00,247.77 630.50,247.78 631.00,247.79 631.50,247.80 632.00,247.81 632.50,247.82 633.00,247.83 633.50,247.84 634.00,247.85 634.50,247.86 635.00,247.87 635.50,247.88 636.00,247.89 636.50,247.90 637.00,247.91 637.50,247.92 638.00,247.93 638.50,247.94 639.00,247.95 639.50,247.96 640.00,247.97 640.50,247.98 641.00,247.99 641.50,248.00 642.00,248.01 642.50,248.02 643.00,248.03 643.50,248.04 644.00,248.05 644.50,248.06 645.00,248.07 645.50,248.08 646.00,248.09 646.50,248.10 647.00,248.11 647.50,248.12 648.00,248.13 648.50,248.14 649.00,248.15 649.50,248.16 650.00,248.17 650.50,248.18 651.00,248.19 651.50,248.20 652.00,248.21 652.50,248.22 653.00,248.23 653.50,248.24 654.00,248.25 654.50,248.26 655.00,248.27 655.50,248.28 656.00,248.29 656.50,248.30 657.00,248.31 657.50,248.32 658.00,248.33 658.50,248.34 659.00,248.35 659.50,248.36 660.00,248.37 660.50,248.38 661.00,248.39 661.50,248.40 662.00,248.41 662.50,248.42 663.00,248.43 663.50,248.44 664.00,248.45 664.50,248.46 665.00,248.47 665.50,248.48 666.00,248.49 666.50,248.50 667.00,248.51 667.50,248.52 668.00,248.53 668.50,248.54 669.00,248.55 669.50,248.56 670.00,248.57 670.50,248.58 671.00,248.59 671.50,248.60 672.00,248.61 672.50,248.62 673.00,248.63 673.50,248.64 674.00,248.65 674.50,248.66 675.00,248.67 675.50,248.68 676.00,248.69 676.50,248.70" fill="none" stroke="#EDB120" stroke-width="2.6" stroke-linejoin="round" stroke-linecap="round" />
<polyline points="551.50,246.30 552.00,246.31 552.50,246.32 553.00,246.33 553.50,246.34 554.00,246.35 554.50,246.36 555.00,246.37 555.50,246.38 556.00,246.39 556.50,246.40 557.00,246.41 557.50,246.42 558.00,246.43 558.50,246.44 559.00,246.45 559.50,246.46 560.00,246.47 560.50,246.48 561.00,246.49 561.50,246.50 562.00,246.51 562.50,246.52 563.00,246.53 563.50,246.54 564.00,246.55 564.50,246.56 565.00,246.57 565.50,246.58 566.00,246.59 566.50,246.60 567.00,246.61 567.50,246.62 568.00,246.63 568.50,246.64 569.00,246.65 569.50,246.66 570.00,246.67 570.50,246.68 571.00,246.69 571.50,246.70 572.00,246.71 572.50,246.72 573.00,246.73 573.50,246.74 574.00,246.75 574.50,246.76 575.00,246.77 575.50,246.78 576.00,246.79 576.50,246.80 577.00,246.81 577.50,246.82 578.00,246.83 578.50,246.84 579.00,246.85 579.50,246.86 580.00,246.87 580.50,246.88 581.00,246.89 581.50,246.90 582.00,246.91 582.50,246.92 583.00,246.93 583.50,246.94 584.00,246.95 584.50,246.96 585.00,246.97 585.50,246.98 586.00,246.99 586.50,247.00 587.00,247.01 587.50,247.02 588.00,247.03 588.50,247.04 589.00,247.05 589.50,247.06 590.00,247.07 590.50,247.08 591.00,247.09 591.50,247.10 592.00,247.11 592.50,247.12 593.00,247.13 593.50,247.14 594.00,247.15 594.50,247.16 595.00,247.17 595.50,247.18 596.00,247.19 596.50,247.20 597.00,247.21 597.50,247.22 598.00,247.23 598.50,247.24 599.00,247.25 599.50,247.26 600.00,247.27 600.50,247.28 601.00,247.29 601.50,247.30 602.00,247.31 602.50,247.32 603.00,247.33 603.50,247.34 604.00,247.35 604.50,247.36 605.00,247.37 605.50,247.38 606.00,247.39 606.50,247.40 607.00,247.41 607.50,247.42 608.00,247.43 608.50,247.44 609.00,247.45 609.50,247.46 610.00,247.47 610.50,247.48 611.00,247.49 611.50,247.50 612.00,247.51 612.50,247.52 613.00,247.53 613.50,247.54 614.00,247.55 614.50,247.56 615.00,247.57 615.50,247.58 616.00,247.59 616.50,247.60 617.00,247.61 617.50,247.62 618.00,247.63 618.50,247.64 619.00,247.65 619.50,247.66 620.00,247.67 620.50,247.68 621.00,247.69 621.50,247.70 622.00,247.71 622.50,247.72 623.00,247.73 623.50,247.74 624.00,247.75 624.50,247.76 625.00,247.77 625.50,247.78 626.00,247.79 626.50,247.80 627.00,247.81 627.50,247.82 628.00,247.83 628.50,247.84 629.00,247.85 629.50,247.86 630.00,247.87 630.50,247.88 631.00,247.89 631.50,247.90 632.00,247.91 632.50,247.92 633.00,247.93 633.50,247.94 634.00,247.95 634.50,247.96 635.00,247.97 635.50,247.98 636.00,247.99 636.50,248.00 637.00,248.01 637.50,248.02 638.00,248.03 638.50,248.04 639.00,248.05 639.50,248.06 640.00,248.07 640.50,248.08 641.00,248.09 641.50,248.10 642.00,248.11 642.50,248.12 643.00,248.13 643.50,248.14 644.00,248.15 644.50,248.16 645.00,248.17 645.50,248.18 646.00,248.19 646.50,248.20 647.00,248.21 647.50,248.22 648.00,248.23 648.50,248.24 649.00,248.25 649.50,248.26 650.00,248.27 650.50,248.28 651.00,248.29 651.50,248.30 652.00,248.31 652.50,248.32 653.00,248.33 653.50,248.34 654.00,248.35 654.50,248.36 655.00,248.37 655.50,248.38 656.00,248.39 656.50,248.40 657.00,248.41 657.50,248.42 658.00,248.43 658.50,248.44 659.00,248.45 659.50,248.46 660.00,248.47 660.50,248.48 661.00,248.49 661.50,248.50 662.00,248.51 662.50,248.52 663.00,248.53 663.50,248.54 664.00,248.55 664.50,248.56 665.00,248.57 665.50,248.58 666.00,248.59 666.50,248.60 667.00,248.61 667.50,248.62 668.00,248.63 668.50,248.64 669.00,248.65 669.50,248.66 670.00,248.67 670.50,248.68 671.00,248.69 671.50,248.70 672.00,248.71 672.50,248.72 673.00,248.73 673.50,248.74 674.00,248.75 674.50,248.76 675.00,248.77 675.50,248.78 676.00,248.79 676.50,248.80" fill="none" stroke="#5a3a00" stroke-width="0.7" stroke-linejoin="round" stroke-linecap="round" />
<polyline points="551.50,245.66 552.00,245.60 552.50,245.53 553.00,245.45 553.50,245.36 554.00,245.25 554.50,245.13 555.00,244.98 555.50,244.82 556.00,244.63 556.50,244.43 557.00,244.19 557.50,243.94 558.00,243.65 558.50,243.34 559.00,243.00 559.50,242.63 560.00,242.24 560.50,241.81 561.00,241.36 561.50,240.89 562.00,240.38 562.50,239.86 563.00,239.31 563.50,238.75 564.00,238.17 564.50,237.58 565.00,236.97 565.50,236.37 566.00,235.76 566.50,235.15 567.00,234.54 567.50,233.94 568.00,233.35 568.50,232.77 569.00,232.21 569.50,231.66 570.00,231.12 570.50,230.60 571.00,230.09 571.50,229.59 572.00,229.10 572.50,228.62 573.00,228.14 573.50,227.66 574.00,227.17 574.50,226.67 575.00,226.15 575.50,225.60 576.00,225.03 576.50,224.42 577.00,223.76 577.50,223.06 578.00,222.31 578.50,221.51 579.00,220.64 579.50,219.72 580.00,218.73 580.50,217.69 581.00,216.59 581.50,215.44 582.00,214.23 582.50,212.99 583.00,211.72 583.50,210.41 584.00,209.10 584.50,207.78 585.00,206.46 585.50,205.17 586.00,203.90 586.50,202.68 587.00,201.51 587.50,200.40 588.00,199.36 588.50,198.41 589.00,197.54 589.50,196.77 590.00,196.06 590.50,195.41 591.00,194.84 591.50,194.33 592.00,193.89 592.50,193.53 593.00,193.24 593.50,193.04 594.00,192.92 594.50,192.88 595.00,192.92 595.50,193.05 596.00,193.27 596.50,193.57 597.00,193.96 597.50,194.43 598.00,194.99 598.50,195.63 599.00,196.36 599.50,197.17 600.00,198.05 600.50,199.02 601.00,200.08 601.50,201.22 602.00,202.44 602.50,203.73 603.00,205.09 603.50,206.52 604.00,207.99 604.50,209.52 605.00,211.08 605.50,212.67 606.00,214.29 606.50,215.92 607.00,217.55 607.50,219.18 608.00,220.80 608.50,222.39 609.00,223.96 609.50,225.50 610.00,226.99 610.50,228.44 611.00,229.83 611.50,231.16 612.00,232.43 612.50,233.64 613.00,234.77 613.50,235.84 614.00,236.83 614.50,237.74 615.00,238.58 615.50,239.34 616.00,240.03 616.50,240.64 617.00,241.18 617.50,241.65 618.00,242.05 618.50,242.39 619.00,242.66 619.50,242.87 620.00,243.02 620.50,243.12 621.00,243.18 621.50,243.19 622.00,243.17 622.50,243.11 623.00,243.03 623.50,242.93 624.00,242.81 624.50,242.67 625.00,242.53 625.50,242.38 626.00,242.24 626.50,242.09 627.00,241.96 627.50,241.83 628.00,241.70 628.50,241.59 629.00,241.48 629.50,241.38 630.00,241.29 630.50,241.20 631.00,241.11 631.50,241.02 632.00,240.94 632.50,240.84 633.00,240.74 633.50,240.64 634.00,240.52 634.50,240.40 635.00,240.27 635.50,240.13 636.00,239.98 636.50,239.83 637.00,239.67 637.50,239.52 638.00,239.37 638.50,239.22 639.00,239.09 639.50,238.97 640.00,238.88 640.50,238.80 641.00,238.75 641.50,238.73 642.00,238.74 642.50,238.78 643.00,238.85 643.50,238.96 644.00,239.11 644.50,239.29 645.00,239.50 645.50,239.75 646.00,240.02 646.50,240.32 647.00,240.64 647.50,240.98 648.00,241.34 648.50,241.71 649.00,242.09 649.50,242.47 650.00,242.85 650.50,243.23 651.00,243.60 651.50,243.97 652.00,244.32 652.50,244.66 653.00,244.99 653.50,245.30 654.00,245.59 654.50,245.87 655.00,246.12 655.50,246.36 656.00,246.57 656.50,246.77 657.00,246.95 657.50,247.12 658.00,247.26 658.50,247.39 659.00,247.51 659.50,247.62 660.00,247.71 660.50,247.79 661.00,247.87 661.50,247.93 662.00,247.99 662.50,248.03 663.00,248.08 663.50,248.11 664.00,248.15 664.50,248.18 665.00,248.20 665.50,248.23 666.00,248.25 666.50,248.27 667.00,248.28 667.50,248.30 668.00,248.31 668.50,248.33 669.00,248.34 669.50,248.35 670.00,248.36 670.50,248.38 671.00,248.39 671.50,248.40 672.00,248.41 672.50,248.42 673.00,248.43 673.50,248.44 674.00,248.45 674.50,248.46 675.00,248.47 675.50,248.48 676.00,248.49 676.50,248.50" fill="none" stroke="#000" stroke-width="1.5" stroke-linejoin="round" stroke-linecap="round" />
</g>
<rect x="41.5" y="17.5" width="125.0" height="74.0" fill="none" stroke="#262626" stroke-width="1"/>
<line x1="83.17" y1="17.50" x2="83.17" y2="19.00" stroke="#262626" stroke-width="1" />
<line x1="83.17" y1="91.50" x2="83.17" y2="90.00" stroke="#262626" stroke-width="1" />
<line x1="124.83" y1="17.50" x2="124.83" y2="19.00" stroke="#262626" stroke-width="1" />
<line x1="124.83" y1="91.50" x2="124.83" y2="90.00" stroke="#262626" stroke-width="1" />
<line x1="41.50" y1="22.00" x2="43.00" y2="22.00" stroke="#262626" stroke-width="1" />
<line x1="166.50" y1="22.00" x2="165.00" y2="22.00" stroke="#262626" stroke-width="1" />
<line x1="41.50" y1="45.50" x2="43.00" y2="45.50" stroke="#262626" stroke-width="1" />
<line x1="166.50" y1="45.50" x2="165.00" y2="45.50" stroke="#262626" stroke-width="1" />
<line x1="41.50" y1="69.00" x2="43.00" y2="69.00" stroke="#262626" stroke-width="1" />
<line x1="166.50" y1="69.00" x2="165.00" y2="69.00" stroke="#262626" stroke-width="1" />
<text x="37.00" y="25.90" font-size="11" text-anchor="end" font-weight="normal" fill="#1e1e1e" stroke="#1e1e1e" stroke-width="0.15" >3</text>
<text x="37.00" y="49.40" font-size="11" text-anchor="end" font-weight="normal" fill="#1e1e1e" stroke="#1e1e1e" stroke-width="0.15" >2</text>
<text x="37.00" y="72.90" font-size="11" text-anchor="end" font-weight="normal" fill="#1e1e1e" stroke="#1e1e1e" stroke-width="0.15" >1</text>
<rect x="41.5" y="97.5" width="125.0" height="74.0" fill="none" stroke="#262626" stroke-width="1"/>
<line x1="83.17" y1="97.50" x2="83.17" y2="99.00" stroke="#262626" stroke-width="1" />
<line x1="83.17" y1="171.50" x2="83.17" y2="170.00" stroke="#262626" stroke-width="1" />
<line x1="124.83" y1="97.50" x2="124.83" y2="99.00" stroke="#262626" stroke-width="1" />
<line x1="124.83" y1="171.50" x2="124.83" y2="170.00" stroke="#262626" stroke-width="1" />
<line x1="41.50" y1="134.00" x2="43.00" y2="134.00" stroke="#262626" stroke-width="1" />
<line x1="166.50" y1="134.00" x2="165.00" y2="134.00" stroke="#262626" stroke-width="1" />
<text x="37.00" y="137.90" font-size="11" text-anchor="end" font-weight="normal" fill="#1e1e1e" stroke="#1e1e1e" stroke-width="0.15" >1</text>
<rect x="41.5" y="177.5" width="125.0" height="74.30000000000001" fill="none" stroke="#262626" stroke-width="1"/>
<line x1="83.17" y1="177.50" x2="83.17" y2="179.00" stroke="#262626" stroke-width="1" />
<line x1="83.17" y1="251.80" x2="83.17" y2="250.30" stroke="#262626" stroke-width="1" />
<line x1="124.83" y1="177.50" x2="124.83" y2="179.00" stroke="#262626" stroke-width="1" />
<line x1="124.83" y1="251.80" x2="124.83" y2="250.30" stroke="#262626" stroke-width="1" />
<line x1="41.50" y1="184.00" x2="43.00" y2="184.00" stroke="#262626" stroke-width="1" />
<line x1="166.50" y1="184.00" x2="165.00" y2="184.00" stroke="#262626" stroke-width="1" />
<line x1="41.50" y1="220.30" x2="43.00" y2="220.30" stroke="#262626" stroke-width="1" />
<line x1="166.50" y1="220.30" x2="165.00" y2="220.30" stroke="#262626" stroke-width="1" />
<text x="37.00" y="187.90" font-size="11" text-anchor="end" font-weight="normal" fill="#1e1e1e" stroke="#1e1e1e" stroke-width="0.15" >2</text>
<text x="37.00" y="224.20" font-size="11" text-anchor="end" font-weight="normal" fill="#1e1e1e" stroke="#1e1e1e" stroke-width="0.15" >1</text>
<rect x="211.5" y="17.5" width="125.0" height="74.0" fill="none" stroke="#262626" stroke-width="1"/>
<line x1="253.17" y1="17.50" x2="253.17" y2="19.00" stroke="#262626" stroke-width="1" />
<line x1="253.17" y1="91.50" x2="253.17" y2="90.00" stroke="#262626" stroke-width="1" />
<line x1="294.83" y1="17.50" x2="294.83" y2="19.00" stroke="#262626" stroke-width="1" />
<line x1="294.83" y1="91.50" x2="294.83" y2="90.00" stroke="#262626" stroke-width="1" />
<line x1="211.50" y1="25.80" x2="213.00" y2="25.80" stroke="#262626" stroke-width="1" />
<line x1="336.50" y1="25.80" x2="335.00" y2="25.80" stroke="#262626" stroke-width="1" />
<line x1="211.50" y1="61.50" x2="213.00" y2="61.50" stroke="#262626" stroke-width="1" />
<line x1="336.50" y1="61.50" x2="335.00" y2="61.50" stroke="#262626" stroke-width="1" />
<text x="207.00" y="29.70" font-size="11" text-anchor="end" font-weight="normal" fill="#1e1e1e" stroke="#1e1e1e" stroke-width="0.15" >1.5</text>
<text x="207.00" y="65.40" font-size="11" text-anchor="end" font-weight="normal" fill="#1e1e1e" stroke="#1e1e1e" stroke-width="0.15" >1</text>
<rect x="211.5" y="97.5" width="125.0" height="74.0" fill="none" stroke="#262626" stroke-width="1"/>
<line x1="253.17" y1="97.50" x2="253.17" y2="99.00" stroke="#262626" stroke-width="1" />
<line x1="253.17" y1="171.50" x2="253.17" y2="170.00" stroke="#262626" stroke-width="1" />
<line x1="294.83" y1="97.50" x2="294.83" y2="99.00" stroke="#262626" stroke-width="1" />
<line x1="294.83" y1="171.50" x2="294.83" y2="170.00" stroke="#262626" stroke-width="1" />
<line x1="211.50" y1="99.50" x2="213.00" y2="99.50" stroke="#262626" stroke-width="1" />
<line x1="336.50" y1="99.50" x2="335.00" y2="99.50" stroke="#262626" stroke-width="1" />
<line x1="211.50" y1="155.00" x2="213.00" y2="155.00" stroke="#262626" stroke-width="1" />
<line x1="336.50" y1="155.00" x2="335.00" y2="155.00" stroke="#262626" stroke-width="1" />
<text x="207.00" y="103.40" font-size="11" text-anchor="end" font-weight="normal" fill="#1e1e1e" stroke="#1e1e1e" stroke-width="0.15" >1</text>
<text x="207.00" y="158.90" font-size="11" text-anchor="end" font-weight="normal" fill="#1e1e1e" stroke="#1e1e1e" stroke-width="0.15" >0.5</text>
<rect x="211.5" y="177.5" width="125.0" height="74.30000000000001" fill="none" stroke="#262626" stroke-width="1"/>
<line x1="253.17" y1="177.50" x2="253.17" y2="179.00" stroke="#262626" stroke-width="1" />
<line x1="253.17" y1="251.80" x2="253.17" y2="250.30" stroke="#262626" stroke-width="1" />
<line x1="294.83" y1="177.50" x2="294.83" y2="179.00" stroke="#262626" stroke-width="1" />
<line x1="294.83" y1="251.80" x2="294.83" y2="250.30" stroke="#262626" stroke-width="1" />
<line x1="211.50" y1="177.50" x2="213.00" y2="177.50" stroke="#262626" stroke-width="1" />
<line x1="336.50" y1="177.50" x2="335.00" y2="177.50" stroke="#262626" stroke-width="1" />
<line x1="211.50" y1="202.20" x2="213.00" y2="202.20" stroke="#262626" stroke-width="1" />
<line x1="336.50" y1="202.20" x2="335.00" y2="202.20" stroke="#262626" stroke-width="1" />
<line x1="211.50" y1="226.80" x2="213.00" y2="226.80" stroke="#262626" stroke-width="1" />
<line x1="336.50" y1="226.80" x2="335.00" y2="226.80" stroke="#262626" stroke-width="1" />
<line x1="211.50" y1="251.50" x2="213.00" y2="251.50" stroke="#262626" stroke-width="1" />
<line x1="336.50" y1="251.50" x2="335.00" y2="251.50" stroke="#262626" stroke-width="1" />
<text x="207.00" y="181.40" font-size="11" text-anchor="end" font-weight="normal" fill="#1e1e1e" stroke="#1e1e1e" stroke-width="0.15" >2</text>
<text x="207.00" y="206.10" font-size="11" text-anchor="end" font-weight="normal" fill="#1e1e1e" stroke="#1e1e1e" stroke-width="0.15" >1.5</text>
<text x="207.00" y="230.70" font-size="11" text-anchor="end" font-weight="normal" fill="#1e1e1e" stroke="#1e1e1e" stroke-width="0.15" >1</text>
<text x="207.00" y="255.40" font-size="11" text-anchor="end" font-weight="normal" fill="#1e1e1e" stroke="#1e1e1e" stroke-width="0.15" >0.5</text>
<rect x="381.5" y="17.5" width="125.0" height="74.0" fill="none" stroke="#262626" stroke-width="1"/>
<line x1="412.75" y1="17.50" x2="412.75" y2="19.00" stroke="#262626" stroke-width="1" />
<line x1="412.75" y1="91.50" x2="412.75" y2="90.00" stroke="#262626" stroke-width="1" />
<line x1="444.00" y1="17.50" x2="444.00" y2="19.00" stroke="#262626" stroke-width="1" />
<line x1="444.00" y1="91.50" x2="444.00" y2="90.00" stroke="#262626" stroke-width="1" />
<line x1="475.25" y1="17.50" x2="475.25" y2="19.00" stroke="#262626" stroke-width="1" />
<line x1="475.25" y1="91.50" x2="475.25" y2="90.00" stroke="#262626" stroke-width="1" />
<line x1="381.50" y1="26.50" x2="383.00" y2="26.50" stroke="#262626" stroke-width="1" />
<line x1="506.50" y1="26.50" x2="505.00" y2="26.50" stroke="#262626" stroke-width="1" />
<line x1="381.50" y1="71.40" x2="383.00" y2="71.40" stroke="#262626" stroke-width="1" />
<line x1="506.50" y1="71.40" x2="505.00" y2="71.40" stroke="#262626" stroke-width="1" />
<text x="377.00" y="30.40" font-size="11" text-anchor="end" font-weight="normal" fill="#1e1e1e" stroke="#1e1e1e" stroke-width="0.15" >2</text>
<text x="377.00" y="75.30" font-size="11" text-anchor="end" font-weight="normal" fill="#1e1e1e" stroke="#1e1e1e" stroke-width="0.15" >1</text>
<rect x="381.5" y="97.5" width="125.0" height="74.0" fill="none" stroke="#262626" stroke-width="1"/>
<line x1="412.75" y1="97.50" x2="412.75" y2="99.00" stroke="#262626" stroke-width="1" />
<line x1="412.75" y1="171.50" x2="412.75" y2="170.00" stroke="#262626" stroke-width="1" />
<line x1="444.00" y1="97.50" x2="444.00" y2="99.00" stroke="#262626" stroke-width="1" />
<line x1="444.00" y1="171.50" x2="444.00" y2="170.00" stroke="#262626" stroke-width="1" />
<line x1="475.25" y1="97.50" x2="475.25" y2="99.00" stroke="#262626" stroke-width="1" />
<line x1="475.25" y1="171.50" x2="475.25" y2="170.00" stroke="#262626" stroke-width="1" />
<line x1="381.50" y1="120.50" x2="383.00" y2="120.50" stroke="#262626" stroke-width="1" />
<line x1="506.50" y1="120.50" x2="505.00" y2="120.50" stroke="#262626" stroke-width="1" />
<line x1="381.50" y1="151.50" x2="383.00" y2="151.50" stroke="#262626" stroke-width="1" />
<line x1="506.50" y1="151.50" x2="505.00" y2="151.50" stroke="#262626" stroke-width="1" />
<text x="377.00" y="124.40" font-size="11" text-anchor="end" font-weight="normal" fill="#1e1e1e" stroke="#1e1e1e" stroke-width="0.15" >2</text>
<text x="377.00" y="155.40" font-size="11" text-anchor="end" font-weight="normal" fill="#1e1e1e" stroke="#1e1e1e" stroke-width="0.15" >1</text>
<rect x="381.5" y="177.5" width="125.0" height="74.30000000000001" fill="none" stroke="#262626" stroke-width="1"/>
<line x1="412.75" y1="177.50" x2="412.75" y2="179.00" stroke="#262626" stroke-width="1" />
<line x1="412.75" y1="251.80" x2="412.75" y2="250.30" stroke="#262626" stroke-width="1" />
<line x1="444.00" y1="177.50" x2="444.00" y2="179.00" stroke="#262626" stroke-width="1" />
<line x1="444.00" y1="251.80" x2="444.00" y2="250.30" stroke="#262626" stroke-width="1" />
<line x1="475.25" y1="177.50" x2="475.25" y2="179.00" stroke="#262626" stroke-width="1" />
<line x1="475.25" y1="251.80" x2="475.25" y2="250.30" stroke="#262626" stroke-width="1" />
<line x1="381.50" y1="189.00" x2="383.00" y2="189.00" stroke="#262626" stroke-width="1" />
<line x1="506.50" y1="189.00" x2="505.00" y2="189.00" stroke="#262626" stroke-width="1" />
<line x1="381.50" y1="213.60" x2="383.00" y2="213.60" stroke="#262626" stroke-width="1" />
<line x1="506.50" y1="213.60" x2="505.00" y2="213.60" stroke="#262626" stroke-width="1" />
<line x1="381.50" y1="238.00" x2="383.00" y2="238.00" stroke="#262626" stroke-width="1" />
<line x1="506.50" y1="238.00" x2="505.00" y2="238.00" stroke="#262626" stroke-width="1" />
<text x="377.00" y="192.90" font-size="11" text-anchor="end" font-weight="normal" fill="#1e1e1e" stroke="#1e1e1e" stroke-width="0.15" >3</text>
<text x="377.00" y="217.50" font-size="11" text-anchor="end" font-weight="normal" fill="#1e1e1e" stroke="#1e1e1e" stroke-width="0.15" >2</text>
<text x="377.00" y="241.90" font-size="11" text-anchor="end" font-weight="normal" fill="#1e1e1e" stroke="#1e1e1e" stroke-width="0.15" >1</text>
<rect x="551.5" y="17.5" width="125.0" height="74.0" fill="none" stroke="#262626" stroke-width="1"/>
<line x1="593.17" y1="17.50" x2="593.17" y2="19.00" stroke="#262626" stroke-width="1" />
<line x1="593.17" y1="91.50" x2="593.17" y2="90.00" stroke="#262626" stroke-width="1" />
<line x1="634.83" y1="17.50" x2="634.83" y2="19.00" stroke="#262626" stroke-width="1" />
<line x1="634.83" y1="91.50" x2="634.83" y2="90.00" stroke="#262626" stroke-width="1" />
<line x1="551.50" y1="33.50" x2="553.00" y2="33.50" stroke="#262626" stroke-width="1" />
<line x1="676.50" y1="33.50" x2="675.00" y2="33.50" stroke="#262626" stroke-width="1" />
<line x1="551.50" y1="64.80" x2="553.00" y2="64.80" stroke="#262626" stroke-width="1" />
<line x1="676.50" y1="64.80" x2="675.00" y2="64.80" stroke="#262626" stroke-width="1" />
<text x="547.00" y="37.40" font-size="11" text-anchor="end" font-weight="normal" fill="#1e1e1e" stroke="#1e1e1e" stroke-width="0.15" >3000</text>
<text x="547.00" y="68.70" font-size="11" text-anchor="end" font-weight="normal" fill="#1e1e1e" stroke="#1e1e1e" stroke-width="0.15" >2000</text>
<rect x="551.5" y="97.5" width="125.0" height="74.0" fill="none" stroke="#262626" stroke-width="1"/>
<line x1="593.17" y1="97.50" x2="593.17" y2="99.00" stroke="#262626" stroke-width="1" />
<line x1="593.17" y1="171.50" x2="593.17" y2="170.00" stroke="#262626" stroke-width="1" />
<line x1="634.83" y1="97.50" x2="634.83" y2="99.00" stroke="#262626" stroke-width="1" />
<line x1="634.83" y1="171.50" x2="634.83" y2="170.00" stroke="#262626" stroke-width="1" />
<line x1="551.50" y1="110.00" x2="553.00" y2="110.00" stroke="#262626" stroke-width="1" />
<line x1="676.50" y1="110.00" x2="675.00" y2="110.00" stroke="#262626" stroke-width="1" />
<line x1="551.50" y1="146.50" x2="553.00" y2="146.50" stroke="#262626" stroke-width="1" />
<line x1="676.50" y1="146.50" x2="675.00" y2="146.50" stroke="#262626" stroke-width="1" />
<text x="547.00" y="113.90" font-size="11" text-anchor="end" font-weight="normal" fill="#1e1e1e" stroke="#1e1e1e" stroke-width="0.15" >2000</text>
<text x="547.00" y="150.40" font-size="11" text-anchor="end" font-weight="normal" fill="#1e1e1e" stroke="#1e1e1e" stroke-width="0.15" >1800</text>
<rect x="551.5" y="177.5" width="125.0" height="74.30000000000001" fill="none" stroke="#262626" stroke-width="1"/>
<line x1="593.17" y1="177.50" x2="593.17" y2="179.00" stroke="#262626" stroke-width="1" />
<line x1="593.17" y1="251.80" x2="593.17" y2="250.30" stroke="#262626" stroke-width="1" />
<line x1="634.83" y1="177.50" x2="634.83" y2="179.00" stroke="#262626" stroke-width="1" />
<line x1="634.83" y1="251.80" x2="634.83" y2="250.30" stroke="#262626" stroke-width="1" />
<line x1="551.50" y1="186.00" x2="553.00" y2="186.00" stroke="#262626" stroke-width="1" />
<line x1="676.50" y1="186.00" x2="675.00" y2="186.00" stroke="#262626" stroke-width="1" />
<line x1="551.50" y1="223.00" x2="553.00" y2="223.00" stroke="#262626" stroke-width="1" />
<line x1="676.50" y1="223.00" x2="675.00" y2="223.00" stroke="#262626" stroke-width="1" />
<text x="547.00" y="189.90" font-size="11" text-anchor="end" font-weight="normal" fill="#1e1e1e" stroke="#1e1e1e" stroke-width="0.15" >6000</text>
<text x="547.00" y="226.90" font-size="11" text-anchor="end" font-weight="normal" fill="#1e1e1e" stroke="#1e1e1e" stroke-width="0.15" >4000</text>
<text x="147.85" y="33.35" font-size="7.2" text-anchor="middle" font-weight="bold" fill="#111" stroke="#111" stroke-width="0.15">C 1s</text>
<text x="58.00" y="33.20" font-size="7.5" text-anchor="start" font-weight="normal" fill="#1e1e1e" stroke="#1e1e1e" stroke-width="0.2" textLength="51">C-C, C-H, C-S</text>
<line x1="98.00" y1="35.50" x2="113.67" y2="44.83" stroke="#000" stroke-width="1.2"/>
<polygon points="119.00,48.00 111.28,46.90 114.36,45.24 114.35,41.74" fill="#000"/>
<text x="68.50" y="49.00" font-size="7.6" text-anchor="start" font-weight="normal" fill="#1e1e1e" stroke="#1e1e1e" stroke-width="0.2" textLength="33.5">C-O, C-N</text>
<line x1="85.50" y1="52.00" x2="100.24" y2="61.21" stroke="#000" stroke-width="1.2"/>
<polygon points="105.50,64.50 97.80,63.23 100.92,61.64 100.98,58.14" fill="#000"/>
<text x="58.00" y="65.80" font-size="7.6" text-anchor="start" font-weight="normal" fill="#1e1e1e" stroke="#1e1e1e" stroke-width="0.2" textLength="15.8">C=O</text>
<line x1="69.00" y1="68.00" x2="84.73" y2="77.74" stroke="#000" stroke-width="1.2"/>
<polygon points="90.00,81.00 82.30,79.76 85.41,78.16 85.46,74.66" fill="#000"/>
<text x="48.30" y="147.70" font-size="8.2" text-anchor="start" font-weight="normal" fill="#1e1e1e" stroke="#1e1e1e" stroke-width="0.2" >π</text>
<path d="M56.4,144.5 L62.6,144.5 M59.6,141.5 L62.8,144.5 L59.6,147.5" fill="none" stroke="#1e1e1e" stroke-width="1.1"/>
<text x="66.20" y="147.70" font-size="8.2" text-anchor="start" font-weight="normal" fill="#1e1e1e" stroke="#1e1e1e" stroke-width="0.2" >π</text>
<text x="71.60" y="146.60" font-size="6.5" text-anchor="start" font-weight="normal" fill="#1e1e1e" stroke="#1e1e1e" stroke-width="0.2" >*</text>
<line x1="59.50" y1="149.50" x2="69.50" y2="156.83" stroke="#000" stroke-width="1.2"/>
<polygon points="74.50,160.50 66.92,158.66 70.15,157.31 70.47,153.82" fill="#000"/>
<text x="49.40" y="221.40" font-size="7.6" text-anchor="start" font-weight="normal" fill="#1e1e1e" stroke="#1e1e1e" stroke-width="0.2" textLength="24.7">O-C=O</text>
<line x1="60.00" y1="223.40" x2="74.36" y2="231.85" stroke="#000" stroke-width="1.2"/>
<polygon points="79.70,235.00 71.97,233.93 75.05,232.26 75.02,228.76" fill="#000"/>
<text x="317.15" y="31.20" font-size="7.2" text-anchor="middle" font-weight="bold" fill="#111" stroke="#111" stroke-width="0.15">N 1s</text>
<text x="250.00" y="52.50" font-size="7.5" text-anchor="start" font-weight="normal" fill="#1e1e1e" stroke="#1e1e1e" stroke-width="0.2" >R-NH<tspan font-size="6" dy="1.8">2</tspan></text>
<line x1="258.40" y1="54.80" x2="273.60" y2="63.36" stroke="#000" stroke-width="1.2"/>
<polygon points="279.00,66.40 271.25,65.48 274.29,63.75 274.20,60.25" fill="#000"/>
<text x="229.50" y="67.50" font-size="7.5" text-anchor="start" font-weight="normal" fill="#1e1e1e" stroke="#1e1e1e" stroke-width="0.2" >R-NH-R</text>
<line x1="244.60" y1="72.00" x2="259.83" y2="80.09" stroke="#000" stroke-width="1.2"/>
<polygon points="265.30,83.00 257.53,82.27 260.53,80.47 260.35,76.97" fill="#000"/>
<text x="334.00" y="143.70" font-size="7.6" text-anchor="end" font-weight="normal" fill="#1e1e1e" stroke="#1e1e1e" stroke-width="0.2" textLength="30.6">Aromatic</text>
<text x="334.00" y="152.80" font-size="7.6" text-anchor="end" font-weight="normal" fill="#1e1e1e" stroke="#1e1e1e" stroke-width="0.2" >-N</text>
<line x1="321.90" y1="155.50" x2="317.35" y2="159.13" stroke="#000" stroke-width="1.2"/>
<polygon points="312.50,163.00 316.26,156.16 316.72,159.63 320.00,160.85" fill="#000"/>
<text x="231.50" y="222.90" font-size="7.6" text-anchor="start" font-weight="normal" fill="#1e1e1e" stroke="#1e1e1e" stroke-width="0.2" >-NO<tspan font-size="6" dy="1.6">2</tspan></text>
<line x1="239.90" y1="226.00" x2="255.79" y2="235.60" stroke="#000" stroke-width="1.2"/>
<polygon points="261.10,238.80 253.39,237.65 256.48,236.01 256.49,232.51" fill="#000"/>
<text x="488.25" y="31.65" font-size="7.2" text-anchor="middle" font-weight="bold" fill="#111" stroke="#111" stroke-width="0.15">O 1s</text>
<text x="426.50" y="50.50" font-size="7.6" text-anchor="start" font-weight="normal" fill="#1e1e1e" stroke="#1e1e1e" stroke-width="0.2" textLength="14.5">O-C</text>
<line x1="438.50" y1="53.00" x2="454.12" y2="61.92" stroke="#000" stroke-width="1.2"/>
<polygon points="459.50,65.00 451.76,64.03 454.81,62.32 454.74,58.82" fill="#000"/>
<text x="412.70" y="67.00" font-size="7.6" text-anchor="start" font-weight="normal" fill="#1e1e1e" stroke="#1e1e1e" stroke-width="0.2" >O=C</text>
<line x1="421.00" y1="70.00" x2="436.62" y2="78.92" stroke="#000" stroke-width="1.2"/>
<polygon points="442.00,82.00 434.26,81.03 437.31,79.32 437.24,75.82" fill="#000"/>
<text x="400.50" y="145.20" font-size="7.6" text-anchor="start" font-weight="normal" fill="#1e1e1e" stroke="#1e1e1e" stroke-width="0.2" >CO-NO<tspan font-size="6" dy="1.6">2</tspan><tspan font-size="6" dy="-5.2">-</tspan></text>
<line x1="417.80" y1="147.50" x2="433.33" y2="156.49" stroke="#000" stroke-width="1.2"/>
<polygon points="438.70,159.60 430.97,158.59 434.03,156.89 433.97,153.40" fill="#000"/>
<text x="658.25" y="31.40" font-size="7.2" text-anchor="middle" font-weight="bold" fill="#111" stroke="#111" stroke-width="0.15">S 2<tspan font-style="italic">p</tspan></text>
<text x="553.80" y="48.20" font-size="7.6" text-anchor="start" font-weight="normal" fill="#1e1e1e" stroke="#1e1e1e" stroke-width="0.2" >SO<tspan font-size="6" dy="1.6">2</tspan><tspan dy="-1.6">,SO</tspan><tspan font-size="6" dy="1.6">3</tspan><tspan dy="-1.6">H</tspan></text>
<text x="553.80" y="58.00" font-size="7.6" text-anchor="start" font-weight="normal" fill="#1e1e1e" stroke="#1e1e1e" stroke-width="0.2" >2<tspan font-style="italic">p</tspan><tspan font-size="6" dy="1.6">3/2</tspan></text>
<line x1="564.00" y1="63.00" x2="580.14" y2="72.38" stroke="#000" stroke-width="1.2"/>
<polygon points="585.50,75.50 577.77,74.47 580.83,72.79 580.78,69.29" fill="#000"/>
<text x="635.00" y="69.80" font-size="7.6" text-anchor="start" font-weight="normal" fill="#1e1e1e" stroke="#1e1e1e" stroke-width="0.2" >SO<tspan font-size="6" dy="1.6">2</tspan><tspan dy="-1.6">,SO</tspan><tspan font-size="6" dy="1.6">3</tspan><tspan dy="-1.6">H</tspan></text>
<text x="635.00" y="79.50" font-size="7.6" text-anchor="start" font-weight="normal" fill="#1e1e1e" stroke="#1e1e1e" stroke-width="0.2" >2<tspan font-style="italic">p</tspan><tspan font-size="6" dy="1.6">1/2</tspan></text>
<line x1="637.50" y1="60.00" x2="623.80" y2="68.29" stroke="#000" stroke-width="1.2"/>
<polygon points="618.50,71.50 623.11,65.21 623.12,68.70 626.21,70.34" fill="#000"/>
<text x="557.00" y="203.50" font-size="7.6" text-anchor="start" font-weight="normal" fill="#1e1e1e" stroke="#1e1e1e" stroke-width="0.2" >SO<tspan font-size="6" dy="1.6">4</tspan><tspan font-size="6" dy="-5.2">2-</tspan></text>
<text x="557.00" y="213.50" font-size="7.6" text-anchor="start" font-weight="normal" fill="#1e1e1e" stroke="#1e1e1e" stroke-width="0.2" >2<tspan font-style="italic">p</tspan><tspan font-size="6" dy="1.6">1/2</tspan></text>
<line x1="564.70" y1="216.10" x2="569.92" y2="227.01" stroke="#000" stroke-width="1.2"/>
<polygon points="572.60,232.60 566.78,227.40 570.27,227.73 572.20,224.81" fill="#000"/>
<text x="620.20" y="211.50" font-size="7.6" text-anchor="start" font-weight="normal" fill="#1e1e1e" stroke="#1e1e1e" stroke-width="0.2" textLength="12.8">S-S</text>
<text x="620.20" y="221.50" font-size="7.6" text-anchor="start" font-weight="normal" fill="#1e1e1e" stroke="#1e1e1e" stroke-width="0.2" >2<tspan font-style="italic">p</tspan><tspan font-size="6" dy="1.6">3/2</tspan></text>
<line x1="622.00" y1="224.30" x2="627.51" y2="235.72" stroke="#000" stroke-width="1.2"/>
<polygon points="630.20,241.30 624.37,236.12 627.85,236.44 629.77,233.51" fill="#000"/>
<text x="652.00" y="210.70" font-size="7.6" text-anchor="start" font-weight="normal" fill="#1e1e1e" stroke="#1e1e1e" stroke-width="0.2" textLength="12.8">S-S</text>
<text x="652.00" y="220.50" font-size="7.6" text-anchor="start" font-weight="normal" fill="#1e1e1e" stroke="#1e1e1e" stroke-width="0.2" >2<tspan font-style="italic">p</tspan><tspan font-size="6" dy="1.6">1/2</tspan></text>
<line x1="653.60" y1="225.00" x2="651.85" y2="234.21" stroke="#000" stroke-width="1.2"/>
<polygon points="650.70,240.30 649.09,232.67 651.71,234.99 654.99,233.78" fill="#000"/>
<text x="41.50" y="266.30" font-size="11" text-anchor="middle" font-weight="normal" fill="#1e1e1e" stroke="#1e1e1e" stroke-width="0.15" >295</text>
<text x="83.17" y="266.30" font-size="11" text-anchor="middle" font-weight="normal" fill="#1e1e1e" stroke="#1e1e1e" stroke-width="0.15" >290</text>
<text x="124.83" y="266.30" font-size="11" text-anchor="middle" font-weight="normal" fill="#1e1e1e" stroke="#1e1e1e" stroke-width="0.15" >285</text>
<text x="166.50" y="266.30" font-size="11" text-anchor="middle" font-weight="normal" fill="#1e1e1e" stroke="#1e1e1e" stroke-width="0.15" >280</text>
<text x="211.50" y="266.30" font-size="11" text-anchor="middle" font-weight="normal" fill="#1e1e1e" stroke="#1e1e1e" stroke-width="0.15" >410</text>
<text x="253.17" y="266.30" font-size="11" text-anchor="middle" font-weight="normal" fill="#1e1e1e" stroke="#1e1e1e" stroke-width="0.15" >405</text>
<text x="294.83" y="266.30" font-size="11" text-anchor="middle" font-weight="normal" fill="#1e1e1e" stroke="#1e1e1e" stroke-width="0.15" >400</text>
<text x="336.50" y="266.30" font-size="11" text-anchor="middle" font-weight="normal" fill="#1e1e1e" stroke="#1e1e1e" stroke-width="0.15" >395</text>
<text x="381.50" y="266.30" font-size="11" text-anchor="middle" font-weight="normal" fill="#1e1e1e" stroke="#1e1e1e" stroke-width="0.15" >545</text>
<text x="412.75" y="266.30" font-size="11" text-anchor="middle" font-weight="normal" fill="#1e1e1e" stroke="#1e1e1e" stroke-width="0.15" >540</text>
<text x="444.00" y="266.30" font-size="11" text-anchor="middle" font-weight="normal" fill="#1e1e1e" stroke="#1e1e1e" stroke-width="0.15" >535</text>
<text x="475.25" y="266.30" font-size="11" text-anchor="middle" font-weight="normal" fill="#1e1e1e" stroke="#1e1e1e" stroke-width="0.15" >530</text>
<text x="506.50" y="266.30" font-size="11" text-anchor="middle" font-weight="normal" fill="#1e1e1e" stroke="#1e1e1e" stroke-width="0.15" >525</text>
<text x="551.50" y="266.30" font-size="11" text-anchor="middle" font-weight="normal" fill="#1e1e1e" stroke="#1e1e1e" stroke-width="0.15" >175</text>
<text x="593.17" y="266.30" font-size="11" text-anchor="middle" font-weight="normal" fill="#1e1e1e" stroke="#1e1e1e" stroke-width="0.15" >170</text>
<text x="634.83" y="266.30" font-size="11" text-anchor="middle" font-weight="normal" fill="#1e1e1e" stroke="#1e1e1e" stroke-width="0.15" >165</text>
<text x="676.50" y="266.30" font-size="11" text-anchor="middle" font-weight="normal" fill="#1e1e1e" stroke="#1e1e1e" stroke-width="0.15" >160</text>
<text x="41.80" y="14.10" font-size="11" text-anchor="start" font-weight="normal" fill="#1e1e1e" stroke="#1e1e1e" stroke-width="0.15" >×10<tspan font-size="7.5" dy="-4.3">4</tspan></text>
<text x="211.80" y="14.10" font-size="11" text-anchor="start" font-weight="normal" fill="#1e1e1e" stroke="#1e1e1e" stroke-width="0.15" >×10<tspan font-size="7.5" dy="-4.3">4</tspan></text>
<text x="381.80" y="14.10" font-size="11" text-anchor="start" font-weight="normal" fill="#1e1e1e" stroke="#1e1e1e" stroke-width="0.15" >×10<tspan font-size="7.5" dy="-4.3">4</tspan></text>
<text x="92.20" y="8.00" font-size="11" text-anchor="start" font-weight="bold" fill="#000" >i.</text>
<text x="255.60" y="8.70" font-size="11" text-anchor="start" font-weight="bold" fill="#000" >ii.</text>
<text x="426.60" y="8.90" font-size="11" text-anchor="start" font-weight="bold" fill="#000" >iii.</text>
<text x="597.80" y="8.70" font-size="11" text-anchor="start" font-weight="bold" fill="#000" >iv.</text>
<text x="-0.30" y="60.90" font-size="14" text-anchor="start" font-weight="bold" fill="#000" >a.</text>
<text x="-0.30" y="140.40" font-size="14" text-anchor="start" font-weight="bold" fill="#000" >b.</text>
<text x="-0.30" y="221.30" font-size="14" text-anchor="start" font-weight="bold" fill="#000" >c.</text>
<text x="0.00" y="0.00" font-size="11" text-anchor="middle" font-weight="normal" fill="#1e1e1e" stroke="#1e1e1e" stroke-width="0.15" transform="translate(25.6,138.2) rotate(-90)" textLength="90">Counts Per Second</text>
<text x="358.70" y="287.70" font-size="11.2" text-anchor="middle" font-weight="normal" fill="#1e1e1e" stroke="#1e1e1e" stroke-width="0.15" textLength="100">Binding Energy (keV)</text></svg></body></html>
